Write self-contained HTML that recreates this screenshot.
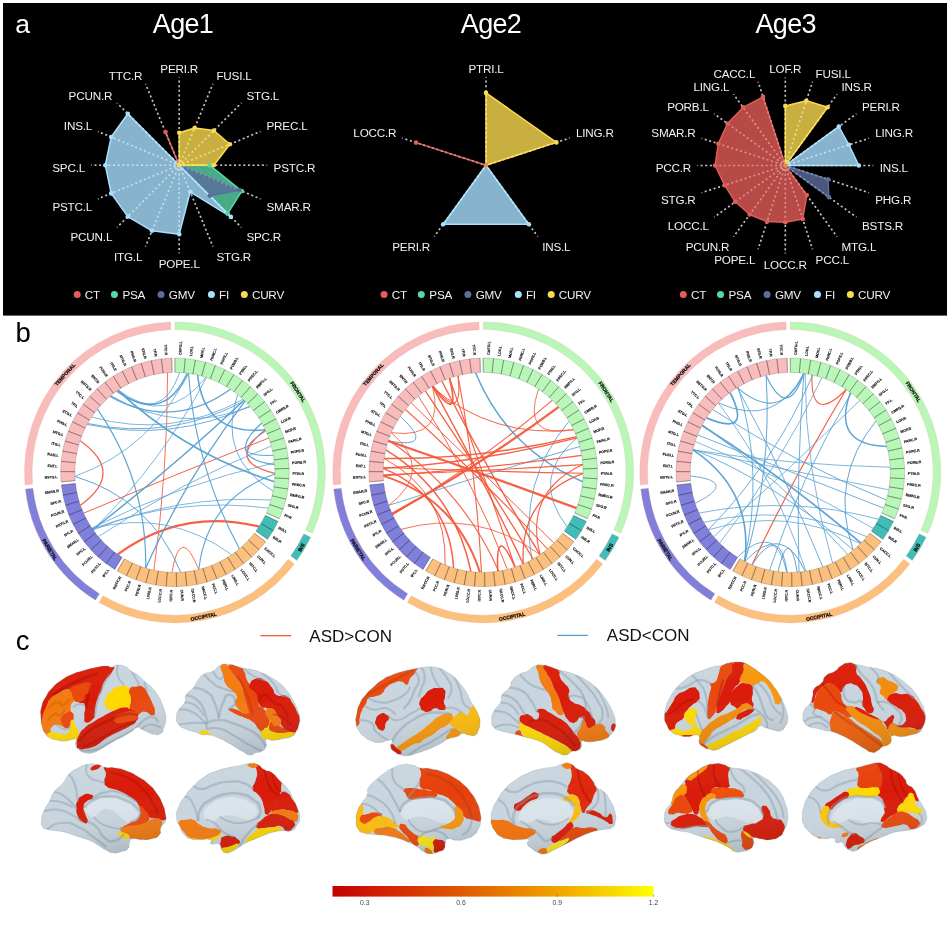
<!DOCTYPE html>
<html lang="en"><head><meta charset="utf-8"><title>Figure</title>
<style>html,body{margin:0;padding:0;background:#fff}body{width:948px;height:931px;overflow:hidden}svg{display:block;font-family:'Liberation Sans', 'DejaVu Sans', sans-serif;opacity:0.999}</style></head><body>
<svg width="948" height="931" viewBox="0 0 948 931">
<defs><linearGradient id="cbar" x1="0" x2="1" y1="0" y2="0"><stop offset="0" stop-color="#c40000"/><stop offset="0.2" stop-color="#d42a00"/><stop offset="0.45" stop-color="#e26400"/><stop offset="0.7" stop-color="#f0a400"/><stop offset="0.88" stop-color="#f8da00"/><stop offset="1" stop-color="#ffff00"/></linearGradient>
<filter id="soft" x="-5%" y="-5%" width="110%" height="110%"><feGaussianBlur stdDeviation="0.45"/></filter>
<filter id="soft2" x="-10%" y="-10%" width="120%" height="120%"><feGaussianBlur stdDeviation="0.7"/></filter>
<linearGradient id="bshade" x1="0.35" y1="0" x2="0.6" y2="1"><stop offset="0" stop-color="#fff" stop-opacity="0.05"/><stop offset="0.4" stop-color="#fff" stop-opacity="0"/><stop offset="1" stop-color="#1a2530" stop-opacity="0.16"/></linearGradient>
<clipPath id="bc0"><path d="M40.9 717.1C40.7 710.2 39.9 713.6 41.6 706.7C43.4 699.8 42.4 702.8 46.1 696.4C49.8 690 47.6 693 52.7 687.5C57.9 682.1 55.2 684.5 61.6 680.2C68 675.8 64.5 677.7 71.9 674.5C79.3 671.3 75.9 672.9 83.7 670.6C91.6 668.2 88.2 669.1 95.5 667.6C102.9 666.1 100.5 666.1 105.9 666C111.3 665.8 107.9 667.5 111.8 667.2C115.7 666.9 113.3 665.3 117.7 665.1C122.1 664.9 120.7 664.6 125.1 666.6C129.5 668.5 126.6 668 131 671C135.4 673.9 133.7 671.9 138.4 675.4C143.1 679 140.6 677.6 145 681.6C149.5 685.7 147.5 683.1 151.7 687.5C155.9 692 154.1 689.5 157.6 694.9C161 700.3 159.5 697.9 162 703.8C164.5 709.7 163.7 707.2 165 712.6C166.2 718.1 166.1 715.1 165.7 720C165.3 724.9 165.5 722.9 163.8 727.4C162.1 731.9 164.1 731.4 160.5 733.6C157 735.8 157.6 734.6 153.1 734.1C148.7 733.5 151.2 733.6 147.2 731.8C143.3 730.1 144.8 730.4 141.3 728.9C137.9 727.4 140.3 726.4 136.9 727.4C133.5 728.4 135.4 728.9 131 731.8C126.6 734.8 129 733.3 123.6 736.3C118.2 739.2 120.2 737.7 114.7 740.7C109.3 743.7 112.3 742.2 107.4 745.1C102.4 748.1 104.9 747 100 749.6C95.1 752.1 97.5 751.7 92.6 752.8C87.7 753.9 89.6 753.8 85.2 752.8C80.8 751.8 82.5 752.4 79.3 749.9C76.1 747.3 76.7 748.6 75.6 745.1C74.5 741.7 77.3 741.4 76.1 739.5C74.8 737.6 75.8 739 71.9 739.5C68.1 740 69.5 740.8 64.5 741C59.6 741.2 62.1 741.2 57.2 740.1C52.2 739 53.7 740 49.8 737.7C45.8 735.5 47.8 736.8 45.3 733.3C42.9 729.9 43.9 732.8 42.4 727.4C40.9 722 41.2 724 40.9 717.1Z"/></clipPath>
<clipPath id="bc1"><path d="M176.6 717.1C176.6 712.1 176.2 714.6 178.9 709.7C181.6 704.8 182.3 707.2 184.8 702.3C187.2 697.4 183.3 699.8 186.2 694.9C189.2 690 189.7 692.5 193.6 687.5C197.6 682.6 194.6 684.6 198.1 680.2C201.5 675.7 199 677.2 204 674.2C208.9 671.3 207.4 674.2 212.8 671.3C218.2 668.3 214.8 667.6 220.2 665.4C225.6 663.1 223.7 664.3 229.1 664.5C234.5 664.7 231.5 664.7 236.5 666C241.4 667.3 238.4 667.1 243.8 668.3C249.3 669.6 246.8 668.3 252.7 669.8C258.6 671.3 255.7 670.3 261.6 672.8C267.5 675.2 264.5 673.8 270.4 677.2C276.3 680.6 273.9 678.7 279.3 683.1C284.7 687.5 282.2 685.1 286.7 690.5C291.1 695.9 289.1 693.4 292.6 699.4C296 705.3 294.7 702.3 297 708.2C299.3 714.1 298.8 711.7 299.4 717.1C300 722.5 300 719.5 298.8 724.5C297.6 729.4 298.3 727.8 295.8 731.8C293.4 735.9 295.9 734.3 291.4 736.6C286.9 738.9 288.2 737.5 282.2 738.8C276.2 740 278.7 740 273.4 740.3C268.1 740.5 268.7 737.4 266.3 739.5C263.8 741.6 267.6 742.7 266 746.6C264.4 750.5 265 749.3 261.6 751.3C258.1 753.4 259.6 751.6 255.7 752.8C251.7 754 254.2 755.4 249.7 754.9C245.3 754.4 247.3 754 242.4 751.3C237.4 748.7 239.9 749.9 235 746.9C230.1 743.9 233 745.4 227.6 742.5C222.2 739.5 224.6 740.5 218.7 738C212.8 735.6 215.3 736.3 209.9 735.1C204.5 733.9 207.4 735.3 202.5 734.4C197.6 733.4 200.5 733.9 195.1 732.1C189.7 730.4 191.7 731.6 186.2 729.2C180.8 726.7 182.1 728.8 178.9 724.8C175.7 720.7 176.6 722.1 176.6 717.1Z"/></clipPath>
<clipPath id="bc2"><path d="M41.6 820C42.1 815 41.2 817.6 43.9 811.2C46.6 804.8 46.3 807.2 49.8 800.8C53.2 794.4 49.8 797.9 54.2 792C58.6 786.1 58.1 789 63.1 783.1C68 777.2 64 779.2 69 774.2C73.9 769.3 71.9 771.5 77.8 768.3C83.7 765.1 80.3 765.9 86.7 764.6C93.1 763.4 90.6 763.6 97 764.5C103.4 765.4 100 766.3 105.9 767.5C111.8 768.6 107.9 766.9 114.7 768C121.6 769.2 118.7 768 126.6 771C134.4 773.9 131 772.5 138.4 776.9C145.8 781.3 142.7 778.9 148.7 784.3C154.7 789.7 151.9 786.7 156.4 793.1C160.9 799.5 159.3 796.6 162.3 803.5C165.3 810.4 164.3 807.8 165.3 813.8C166.2 819.8 166.7 817 165.3 821.5C163.8 826 162.8 823 160.8 827.4C158.9 831.8 162.4 831 159.3 834.8C156.3 838.6 157.7 837.2 151.7 838.8C145.7 840.4 147.7 839.5 141.3 839.5C134.9 839.5 136.4 837.8 132.5 838.8C128.5 839.8 131 839.3 129.5 842.5C128 845.7 130.5 845.4 128 848.4C125.6 851.3 127.1 849.9 122.1 851.3C117.2 852.8 118.7 853.3 113.3 852.8C107.9 852.3 110.8 852.3 105.9 849.9C101 847.4 103.4 848.4 98.5 845.4C93.6 842.5 96.5 843.5 91.1 841C85.7 838.5 88.2 840 82.3 838C76.4 836.1 79.3 837.1 73.4 835.1C67.5 833.1 70.4 833.6 64.5 832.1C58.6 830.7 61.6 831.6 55.7 830.7C49.8 829.7 51.2 830.7 46.8 829.2C42.4 827.7 44.1 829.3 42.4 826.2C40.7 823.2 41.2 825 41.6 820Z"/></clipPath>
<clipPath id="bc3"><path d="M176.6 817.1C176.2 810.2 176.2 813.6 178.9 806.7C181.6 799.8 179.8 803.3 184.8 796.4C189.7 789.5 187.2 792.5 193.6 786.1C200 779.7 196.6 782.1 204 777.2C211.4 772.3 207.4 774.5 215.8 771.3C224.1 768.1 220.7 769.6 229.1 767.6C237.4 765.6 234 766.7 240.9 765.4C247.8 764.1 244.2 763.9 249.7 763.6C255.3 763.3 252.5 762.4 257.4 764.5C262.3 766.6 259.7 767.1 264.5 769.8C269.3 772.6 267 769.3 271.9 772.8C276.8 776.2 274.4 775.2 279.3 780.2C284.2 785.1 282.1 781.6 286.7 787.5C291.2 793.4 289.3 791 292.9 797.9C296.4 804.8 295 801.8 297.3 808.2C299.6 814.6 299.7 811.7 299.7 817.1C299.7 822.5 300.1 819.9 297.3 824.5C294.5 829 296.4 828.6 291.4 830.7C286.4 832.7 288.2 830.2 282.2 830.7C276.2 831.2 279.3 830.7 273.4 832.1C267.5 833.6 270.4 832.9 264.5 835.1C258.6 837.3 261.6 836.3 255.7 838.8C249.7 841.2 252.2 839.8 246.8 842.5C241.4 845.2 244.3 843.9 239.4 846.9C234.5 849.9 236.5 849.4 232 851.3C227.6 853.3 229.6 853.3 226.1 852.8C222.7 852.3 224.1 852.8 221.7 849.9C219.2 846.9 222.2 845.9 218.7 843.9C215.3 842 214.3 845.4 211.4 843.9C208.4 842.5 213.8 841 209.9 839.5C205.9 838 205.9 839.8 199.5 839.5C193.1 839.3 195.6 840.3 190.7 838.8C185.8 837.3 188.2 838.9 184.8 835.1C181.3 831.3 183 833.4 180.3 827.4C177.6 821.4 177.1 824 176.6 817.1Z"/></clipPath>
<clipPath id="bc4"><path d="M356.1 723C355.3 717.5 355.6 720.5 356.8 714.1C358 707.7 356.8 710.2 359.8 703.8C362.7 697.4 361.2 700.3 365.7 694.9C370.1 689.5 367.6 692.5 373.1 687.5C378.5 682.6 375.5 684.3 381.9 680.2C388.3 676 384.9 677.9 392.3 675C399.6 672 396.7 673.3 404.1 671.3C411.5 669.3 408.5 670.3 414.4 669.1C420.3 667.8 416.4 668.3 421.8 667.6C427.2 666.9 424.7 666.6 430.7 666.9C436.6 667.1 434.1 666.6 439.5 668.3C444.9 670.1 442 669.1 446.9 672C451.8 675 449.9 673.3 454.3 677.2C458.7 681.1 456.3 678.9 460.2 683.8C464.1 688.8 462.7 686.3 466.1 692C469.5 697.6 467.6 695.4 470.5 700.8C473.5 706.2 472.3 703.3 475 708.2C477.7 713.1 477 710.7 478.6 715.6C480.3 720.5 480.1 718.1 480 723C479.8 727.9 479.9 726.3 478.2 730.4C476.5 734.4 478 733.5 475 735.1C471.9 736.7 473 735.6 469.1 735.1C465.1 734.6 467.1 733.1 463.1 733.6C459.2 734.1 462.2 734.8 457.2 736.6C452.3 738.3 453.3 736.8 448.4 738.8C443.5 740.7 447.4 739.8 442.5 742.5C437.5 745.2 439.5 744.2 433.6 746.9C427.7 749.6 430.7 748.4 424.7 750.6C418.8 752.8 421.3 751.9 415.9 753.5C410.5 755.2 413.4 755 408.5 755.5C403.6 756 405.5 756.2 401.1 755C396.7 753.9 398.7 754.8 395.2 752.1C391.8 749.4 391.8 750.6 390.8 746.9C389.8 743.2 393.2 743.2 392.3 741C391.3 738.8 391.8 739.8 387.8 740.3C383.9 740.7 385.9 742.2 380.4 742.5C375 742.7 377 743 371.6 741C366.2 739 368.4 740 364.2 736.6C360 733.1 361.7 735.2 359 730.7C356.3 726.1 356.8 728.5 356.1 723Z"/></clipPath>
<clipPath id="bc5"><path d="M491.8 720C491.8 714.6 491.1 717.1 494 711.2C497 705.3 498 707.7 500.7 702.3C503.4 696.9 499.2 699.8 502.2 694.9C505.1 690 506.1 692.5 509.5 687.5C513 682.6 509 684.6 512.5 680.2C515.9 675.7 515 677.2 519.9 674.2C524.8 671.3 522.3 674 527.3 671.3C532.2 668.6 529.7 668.2 534.6 666.1C539.6 664.1 537.1 664.9 542 665.1C546.9 665.2 544 665 549.4 666.6C554.8 668.1 552.4 668 558.3 669.8C564.2 671.6 561.2 670.3 567.1 672C573 673.8 569.6 672.3 576 675C582.4 677.7 579.9 676.2 586.3 680.2C592.7 684.1 589.8 681.9 595.2 686.8C600.6 691.7 598.1 689.3 602.6 694.9C607 700.6 605 697.9 608.5 703.8C611.9 709.7 610.6 706.7 612.9 712.6C615.2 718.5 614.7 716.1 615.3 721.5C615.9 726.9 616.4 724.4 614.7 728.9C613 733.4 613.3 731.8 610.3 735.1C607.2 738.4 610.1 736.8 605.5 738.8C601 740.7 602.6 740 596.7 741C590.8 742 592.7 741.7 587.8 741.7C582.9 741.7 584.1 739.3 581.9 741C579.7 742.7 582.8 743.7 581.3 746.9C579.8 750.1 580.7 749 577.5 750.6C574.2 752.2 575.5 750.2 571.6 751.6C567.6 753.1 570.1 754.6 565.7 755C561.2 755.4 563.2 755 558.3 752.8C553.3 750.6 555.8 751.6 550.9 748.4C546 745.2 548.9 746.2 543.5 743.2C538.1 740.3 540.5 741.5 534.6 739.5C528.7 737.5 531.2 738.8 525.8 737.3C520.4 735.8 523.8 736.6 518.4 735.1C513 733.6 515.4 734.4 509.5 732.9C503.6 731.4 505.8 732.5 500.7 730.7C495.5 728.8 497 731 494 727.4C491.1 723.9 491.8 725.4 491.8 720Z"/></clipPath>
<clipPath id="bc6"><path d="M356.1 820C355.8 814 355.8 816.6 357.6 811.2C359.3 805.7 358 809.2 361.2 803.8C364.4 798.4 364.7 800.3 367.2 794.9C369.6 789.5 365.2 793 368.6 787.5C372.1 782.1 372.1 783.6 377.5 778.7C382.9 773.8 380 776.2 384.9 772.8C389.8 769.3 386.8 770.9 392.3 768.3C397.7 765.7 394.7 766.1 401.1 764.9C407.5 763.8 405.1 764 411.5 764.9C417.9 765.9 413.9 766.6 420.3 767.9C426.7 769.2 423.3 767.6 430.7 768.9C438 770.3 434.6 768.9 442.5 771.9C450.3 774.8 447.3 773.6 454.3 777.8C461.3 782 457.9 779.6 463.4 784.6C469 789.6 466.4 786.8 470.8 792.7C475.3 798.6 473.7 795.7 476.7 802.3C479.8 808.9 478.7 806.2 480 812.6C481.3 819 481.2 816 480.6 821.5C480 827 480.5 824.7 478.2 829.2C475.9 833.7 477.8 831.9 473.8 835.1C469.7 838.3 471.6 837.1 466.1 838.8C460.6 840.5 463.1 840.3 457.2 840.3C451.3 840.3 452.3 838 448.4 838.8C444.4 839.5 446.8 839.3 445.4 842.5C444 845.7 446.2 845.4 444.2 848.4C442.3 851.3 444 849.6 439.5 851.3C435 853.1 436.1 853.6 430.7 853.7C425.2 853.7 427.7 853.7 423.3 851.5C418.8 849.2 422.3 849.9 417.4 846.9C412.4 843.9 414.4 845.2 408.5 842.5C402.6 839.8 405.5 840.7 399.6 838.8C393.7 836.8 396.7 837.8 390.8 836.6C384.9 835.3 387.8 835.8 381.9 835.1C376 834.4 379 835.1 373.1 834.4C367.2 833.6 369.1 834.6 364.2 832.9C359.3 831.2 361 833.5 358.3 829.2C355.6 824.9 356.3 826 356.1 820Z"/></clipPath>
<clipPath id="bc7"><path d="M491.1 820C491.3 815 490.3 816.6 492.6 809.7C494.8 802.8 493.5 806.2 497.7 799.4C501.9 792.5 499.2 795.4 505.1 789C511 782.6 508.1 785.3 515.4 780.2C522.8 775 518.9 777.2 527.3 773.5C535.6 769.8 531.7 771.3 540.5 769.1C549.4 766.9 546.5 768.6 553.8 766.9C561.2 765.1 557.2 764.9 562.7 763.9C568.2 762.9 565.5 762.2 570.4 763.9C575.3 765.6 572.6 766.1 577.5 769.1C582.3 772 579.9 769.1 584.9 772.8C589.8 776.5 588.3 775.2 592.2 780.2C596.2 785.1 592.7 783.6 596.7 787.5C600.6 791.5 599.5 787.5 604.1 792C608.6 796.4 606.7 794.4 610.3 800.8C613.8 807.2 613 804.3 614.7 811.2C616.4 818.1 616.3 816 615.3 821.5C614.3 827 615 825.1 611.7 827.7C608.5 830.3 610.5 828.2 605.5 829.2C600.5 830.2 602.1 829.4 596.7 830.7C591.3 831.9 594.7 830.9 589.3 832.9C583.9 834.8 586.3 833.9 580.4 836.6C574.5 839.3 577.5 838 571.6 841C565.7 843.9 568.6 842.5 562.7 845.4C556.8 848.4 559.7 847.1 553.8 849.9C547.9 852.6 550.4 852.9 545 853.7C539.6 854.5 542 854 537.6 852.2C533.2 850.4 535.1 851.1 531.7 848.4C528.2 845.6 528.2 846.9 527.3 843.9C526.3 841 530.7 841 528.7 839.5C526.8 838 527.7 839.6 521.4 839.5C515 839.4 516.4 840.2 509.5 839.2C502.6 838.2 505.6 839.4 500.7 836.6C495.8 833.7 497.7 834.6 494.8 830.7C491.8 826.7 493 828.3 491.8 824.8C490.6 821.2 490.8 825 491.1 820Z"/></clipPath>
<clipPath id="bc8"><path d="M664.6 717.1C664.4 711.1 664.4 713.1 666.1 706.7C667.8 700.3 666.6 703.8 669.8 697.9C673 692 671.2 694.4 675.7 689C680.1 683.6 677.6 686.3 683.1 681.6C688.5 677 685.5 678.7 691.9 675C698.3 671.3 695.4 673.3 702.3 670.6C709.1 667.8 706.2 668.6 712.6 666.9C719 665.1 716 666.7 721.5 665.4C726.9 664.1 723.4 664.1 728.8 663C734.3 661.9 732.2 661.9 737.7 662.1C743.2 662.3 740.5 661.8 745.4 663.6C750.3 665.4 747.6 664.4 752.5 667.5C757.3 670.5 754.9 669 759.9 672.8C764.8 676.5 762.7 674.2 767.2 678.7C771.8 683.1 769.4 680.6 773.4 686.1C777.5 691.5 775.9 689 779.3 694.9C782.8 700.8 781.3 697.9 783.8 703.8C786.2 709.7 785.5 707.2 786.7 712.6C788 718.1 788.1 715.5 787.6 720C787.1 724.6 787.6 722.7 785.3 726.2C782.9 729.8 784.6 729.4 780.5 730.7C776.5 731.9 778.1 730.9 773.1 729.9C768.2 728.9 770.2 728.9 765.8 727.7C761.3 726.5 763.3 725.2 759.9 726.2C756.4 727.2 758.9 728.2 755.4 730.7C752 733.1 754.4 731.2 749.5 733.6C744.6 736.1 746.6 735.1 740.7 738C734.7 741 737.7 739.5 731.8 742.5C725.9 745.4 728.3 744.4 722.9 746.9C717.5 749.4 720 749.2 715.5 750C711.1 750.8 713.6 750.3 709.6 749.3C705.7 748.2 707.2 749.2 703.7 746.9C700.3 744.6 700.8 745.9 699.3 742.5C697.8 739 700.8 739 699.3 736.6C697.8 734.1 698.8 735.1 694.9 735.1C690.9 735.1 692.9 736.6 687.5 736.6C682.1 736.6 684 736.8 678.6 735.1C673.2 733.4 675.2 734.8 671.2 731.4C667.3 728 669 729.5 666.8 724.8C664.6 720 664.8 723.1 664.6 717.1Z"/></clipPath>
<clipPath id="bc9"><path d="M803.1 717.1C803.4 713.1 802.4 714.1 804.6 709.7C806.8 705.3 807.1 708.2 809.8 703.8C812.5 699.4 811.2 701.3 812.7 696.4C814.2 691.5 811.2 693.4 814.2 689C817.2 684.6 817.6 687.5 821.6 683.1C825.5 678.7 821.6 679.7 826 675.7C830.4 671.8 830 674.5 834.9 671.3C839.8 668.1 836.4 668.9 840.8 666.1C845.2 663.3 843.2 663.5 848.2 662.9C853.1 662.3 851.1 663.5 855.5 664.4C860 665.2 856.5 664.3 861.5 665.4C866.4 666.5 864.4 666.4 870.3 667.6C876.2 668.8 872.8 667.4 879.2 669.1C885.6 670.8 883.1 669.8 889.5 672.8C895.9 675.7 892.5 674 898.4 677.9C904.3 681.9 901.7 679.7 907.2 684.6C912.7 689.5 910.4 686.8 914.9 692.7C919.4 698.6 917.6 696.2 920.8 702.3C924 708.5 923 705.3 924.5 711.2C926 717.1 926 714.5 925.3 720C924.5 725.5 924.3 723.7 922.3 727.7C920.3 731.7 923.4 729.7 919.3 732.1C915.3 734.6 916.2 733.6 910.2 735.1C904.2 736.6 907.2 736.3 901.3 736.6C895.4 736.8 895.8 734.4 892.5 735.8C889.1 737.3 892.7 738 891.3 741C889.9 743.9 891.4 742.7 888.3 744.7C885.3 746.7 885.7 744.9 882.1 746.9C878.6 748.9 881.1 748.8 877.7 750.6C874.3 752.4 876.2 753 871.8 752.2C867.4 751.5 869.3 751.1 864.4 748.4C859.5 745.6 861.9 746.9 857 743.9C852.1 741 855.1 742.5 849.6 739.5C844.2 736.6 846.2 737.5 840.8 735.1C835.4 732.6 838.3 733.6 833.4 732.1C828.5 730.7 831.4 731.9 826 730.7C820.6 729.4 823.1 729.9 817.2 728.4C811.2 727 812.7 728.5 808.3 726.2C803.9 723.9 805.6 724.6 803.9 721.5C802.1 718.5 802.9 721 803.1 717.1Z"/></clipPath>
<clipPath id="bc10"><path d="M664.6 817.1C664.8 812.6 663.9 814.6 666.1 809.7C668.3 804.8 668.5 807.7 671.2 802.3C674 796.9 671.2 798.9 674.2 793.4C677.2 788 675.7 791.5 680.1 786.1C684.5 780.6 682.1 782.1 687.5 777.2C692.9 772.3 690.4 775 696.4 771.3C702.3 767.6 699.3 768.6 705.2 766.1C711.1 763.7 708.2 764.5 714.1 763.9C720 763.3 717.5 763.2 722.9 764.4C728.3 765.5 724.4 765.9 730.3 767.5C736.2 769 733.3 767.5 740.7 768.9C748 770.4 744.6 768.9 752.5 771.9C760.3 774.8 757.3 773.6 764.3 777.8C771.3 782 767.9 779.4 773.4 784.6C779 789.8 776.9 787 780.8 793.4C784.8 799.8 783 796.9 785.3 803.8C787.5 810.7 787.1 807.7 787.6 814.1C788.2 820.5 788.2 817.5 786.9 823C785.6 828.5 786.3 826.1 783.8 830.7C781.3 835.2 783.9 833.6 779.3 836.6C774.8 839.6 776.2 838.9 770.2 839.7C764.2 840.5 766.7 839.5 761.3 838.9C755.9 838.4 756.6 836.4 753.9 838C751.3 839.7 754.8 840.2 753.4 843.9C751.9 847.7 753.3 846.8 749.5 849.3C745.8 851.8 747.1 850.7 742.1 851.5C737.2 852.2 739.2 852.8 734.7 851.5C730.3 850.2 733.8 850.4 728.8 847.6C723.9 844.9 725.4 845.7 720 843.2C714.6 840.7 717.5 842 712.6 840.3C707.7 838.5 710.6 839.8 705.2 838C699.8 836.3 702.3 837.1 696.4 835.1C690.4 833.1 693.4 833.6 687.5 832.1C681.6 830.7 684.5 832.1 678.6 830.7C672.7 829.2 674.2 830.3 669.8 827.7C665.3 825.1 667.1 826.5 665.3 823C663.6 819.4 664.4 821.5 664.6 817.1Z"/></clipPath>
<clipPath id="bc11"><path d="M802.4 817.1C802.4 811.2 801.9 813.6 803.9 806.7C805.8 799.8 804.4 803 808.3 796.4C812.2 789.8 809.8 792.7 815.7 786.8C821.6 780.9 818.6 783.4 826 778.7C833.4 774 830 776 837.8 772.8C845.7 769.6 842.3 771 849.6 769.1C857 767.1 853.6 768.4 860 766.9C866.4 765.3 863.4 765.8 868.8 764.5C874.3 763.2 871.2 762.9 876.2 762.9C881.2 762.8 879 762.3 883.9 764.4C888.8 766.4 886.2 766.1 891 768.9C895.8 771.7 893.8 769.5 898.4 772.8C902.9 776 901.5 774.7 904.6 778.7C907.6 782.6 904.6 781.1 907.5 784.6C910.5 788 910 784.6 913.4 789C916.9 793.4 914.9 792.5 917.9 797.9C920.8 803.3 919.5 799.8 922.3 805.3C925.1 810.7 925.1 808.6 926.1 814.1C927.2 819.6 927.3 817.8 925.5 821.8C923.8 825.8 925 823.8 920.8 826.2C916.7 828.7 918.7 827.7 913.1 829.2C907.6 830.7 910.2 829.7 904.3 830.7C898.4 831.6 901.3 830.7 895.4 832.1C889.5 833.6 892.5 832.9 886.6 835.1C880.7 837.3 883.6 836.3 877.7 838.8C871.8 841.2 874.3 839.8 868.8 842.5C863.4 845.2 865.9 844.1 861.5 846.9C857 849.7 859.5 849.7 855.5 850.7C851.6 851.8 853.1 851.3 849.6 850C846.2 848.7 847.7 849.4 845.2 846.9C842.7 844.4 845.2 843.9 842.3 842.5C839.3 841 839.3 843.9 836.4 842.5C833.4 841 837.3 839.3 833.4 838C829.5 836.8 830.4 839.3 824.5 838.8C818.6 838.3 821.1 839.3 815.7 836.6C810.3 833.9 812.2 834.7 808.3 830.7C804.4 826.6 805.8 829 803.9 824.5C801.9 819.9 802.4 823 802.4 817.1Z"/></clipPath>
</defs>
<rect width="948" height="931" fill="#fff"/>
<rect x="3" y="3" width="944" height="312.6" fill="#000"/>
<text x="15.2" y="33" font-size="26.5" fill="#fff">a</text>
<g>
<g stroke="#c4c4c4" stroke-width="1.6" stroke-dasharray="2 2.65" stroke-dashoffset="1" fill="none" opacity="0.9">
<line x1="179.2" y1="165.2" x2="179.2" y2="77.2"/>
<line x1="179.2" y1="165.2" x2="212.9" y2="83.9"/>
<line x1="179.2" y1="165.2" x2="241.4" y2="103"/>
<line x1="179.2" y1="165.2" x2="260.5" y2="131.5"/>
<line x1="179.2" y1="165.2" x2="267.2" y2="165.2"/>
<line x1="179.2" y1="165.2" x2="260.5" y2="198.9"/>
<line x1="179.2" y1="165.2" x2="241.4" y2="227.4"/>
<line x1="179.2" y1="165.2" x2="212.9" y2="246.5"/>
<line x1="179.2" y1="165.2" x2="179.2" y2="253.2"/>
<line x1="179.2" y1="165.2" x2="145.5" y2="246.5"/>
<line x1="179.2" y1="165.2" x2="117" y2="227.4"/>
<line x1="179.2" y1="165.2" x2="97.9" y2="198.9"/>
<line x1="179.2" y1="165.2" x2="91.2" y2="165.2"/>
<line x1="179.2" y1="165.2" x2="97.9" y2="131.5"/>
<line x1="179.2" y1="165.2" x2="117" y2="103"/>
<line x1="179.2" y1="165.2" x2="145.5" y2="83.9"/>
</g>
<polygon points="179.2,165.2 179.2,165.2 179.2,165.2 179.2,165.2 179.2,165.2 179.2,165.2 179.2,165.2 179.2,165.2 179.2,165.2 179.2,165.2 179.2,165.2 179.2,165.2 179.2,165.2 179.2,165.2 179.2,165.2 165.5,132.1" fill="#e25d58" fill-opacity="0.8" stroke="#e25d58" stroke-width="1.5" stroke-linejoin="round"/>
<polygon points="179.2,165.2 179.2,165.2 179.2,165.2 179.2,165.2 209.6,165.2 241.8,191.1 227.6,213.6 179.2,165.2 179.2,165.2 179.2,165.2 179.2,165.2 179.2,165.2 179.2,165.2 179.2,165.2 179.2,165.2 179.2,165.2" fill="#5ad6a6" fill-opacity="0.8" stroke="#5ad6a6" stroke-width="1.5" stroke-linejoin="round"/>
<polygon points="179.2,165.2 179.2,165.2 179.2,165.2 179.2,165.2 179.2,165.2 239.4,190.2 209.8,195.8 179.2,165.2 179.2,165.2 179.2,165.2 179.2,165.2 179.2,165.2 179.2,165.2 179.2,165.2 179.2,165.2 179.2,165.2" fill="#5b6d9c" fill-opacity="0.8" stroke="#5b6d9c" stroke-width="1.5" stroke-linejoin="round"/>
<polygon points="179.2,165.2 179.2,165.2 179.2,165.2 179.2,165.2 179.2,165.2 179.2,165.2 230.9,216.9 190.2,191.8 179.2,234.2 152,230.8 127.8,216.6 111.2,193.4 105.3,165.2 111.2,137 127.8,113.8 179.2,165.2" fill="#a9e0ff" fill-opacity="0.8" stroke="#a9e0ff" stroke-width="1.5" stroke-linejoin="round"/>
<polygon points="179.2,132.7 194.6,128 213.9,130.5 229.9,144.2 213.8,165.2 179.2,165.2 179.2,165.2 179.2,165.2 179.2,165.2 179.2,165.2 179.2,165.2 179.2,165.2 179.2,165.2 179.2,165.2 179.2,165.2 179.2,165.2" fill="#fadb4f" fill-opacity="0.8" stroke="#fadb4f" stroke-width="1.5" stroke-linejoin="round"/>
<g stroke="#ffffff" stroke-width="1.7" stroke-dasharray="2 2.65" stroke-dashoffset="1" fill="none" opacity="0.22">
<line x1="179.2" y1="165.2" x2="179.2" y2="77.2"/>
<line x1="179.2" y1="165.2" x2="212.9" y2="83.9"/>
<line x1="179.2" y1="165.2" x2="241.4" y2="103"/>
<line x1="179.2" y1="165.2" x2="260.5" y2="131.5"/>
<line x1="179.2" y1="165.2" x2="267.2" y2="165.2"/>
<line x1="179.2" y1="165.2" x2="260.5" y2="198.9"/>
<line x1="179.2" y1="165.2" x2="241.4" y2="227.4"/>
<line x1="179.2" y1="165.2" x2="212.9" y2="246.5"/>
<line x1="179.2" y1="165.2" x2="179.2" y2="253.2"/>
<line x1="179.2" y1="165.2" x2="145.5" y2="246.5"/>
<line x1="179.2" y1="165.2" x2="117" y2="227.4"/>
<line x1="179.2" y1="165.2" x2="97.9" y2="198.9"/>
<line x1="179.2" y1="165.2" x2="91.2" y2="165.2"/>
<line x1="179.2" y1="165.2" x2="97.9" y2="131.5"/>
<line x1="179.2" y1="165.2" x2="117" y2="103"/>
<line x1="179.2" y1="165.2" x2="145.5" y2="83.9"/>
</g>
<circle cx="165.5" cy="132.1" r="2.3" fill="#e25d58"/>
<circle cx="209.6" cy="165.2" r="2.3" fill="#5ad6a6"/>
<circle cx="241.8" cy="191.1" r="2.3" fill="#5ad6a6"/>
<circle cx="227.6" cy="213.6" r="2.3" fill="#5ad6a6"/>
<circle cx="239.4" cy="190.2" r="2.3" fill="#5b6d9c"/>
<circle cx="209.8" cy="195.8" r="2.3" fill="#5b6d9c"/>
<circle cx="230.9" cy="216.9" r="2.3" fill="#a9e0ff"/>
<circle cx="190.2" cy="191.8" r="2.3" fill="#a9e0ff"/>
<circle cx="179.2" cy="234.2" r="2.3" fill="#a9e0ff"/>
<circle cx="152" cy="230.8" r="2.3" fill="#a9e0ff"/>
<circle cx="127.8" cy="216.6" r="2.3" fill="#a9e0ff"/>
<circle cx="111.2" cy="193.4" r="2.3" fill="#a9e0ff"/>
<circle cx="105.3" cy="165.2" r="2.3" fill="#a9e0ff"/>
<circle cx="111.2" cy="137" r="2.3" fill="#a9e0ff"/>
<circle cx="127.8" cy="113.8" r="2.3" fill="#a9e0ff"/>
<circle cx="179.2" cy="132.7" r="2.3" fill="#fadb4f"/>
<circle cx="194.6" cy="128" r="2.3" fill="#fadb4f"/>
<circle cx="213.9" cy="130.5" r="2.3" fill="#fadb4f"/>
<circle cx="229.9" cy="144.2" r="2.3" fill="#fadb4f"/>
<circle cx="213.8" cy="165.2" r="2.3" fill="#fadb4f"/>
<circle cx="179.2" cy="165.2" r="2.3" fill="#fadb4f"/>
<g fill="#f2f2f2" font-size="11.7" letter-spacing="-0.2">
<text x="179.2" y="72.9" text-anchor="middle">PERI.R</text>
<text x="216.4" y="80" text-anchor="start">FUSI.L</text>
<text x="246.4" y="100.1" text-anchor="start">STG.L</text>
<text x="266.5" y="130.1" text-anchor="start">PREC.L</text>
<text x="273.6" y="171.7" text-anchor="start">PSTC.R</text>
<text x="266.5" y="211" text-anchor="start">SMAR.R</text>
<text x="246.4" y="241" text-anchor="start">SPC.R</text>
<text x="216.4" y="261.1" text-anchor="start">STG.R</text>
<text x="179.2" y="268.2" text-anchor="middle">POPE.L</text>
<text x="142.2" y="261.1" text-anchor="end">ITG.L</text>
<text x="112.2" y="241" text-anchor="end">PCUN.L</text>
<text x="92.1" y="211" text-anchor="end">PSTC.L</text>
<text x="85" y="171.7" text-anchor="end">SPC.L</text>
<text x="92.1" y="130.1" text-anchor="end">INS.L</text>
<text x="112.2" y="100.1" text-anchor="end">PCUN.R</text>
<text x="142.2" y="80" text-anchor="end">TTC.R</text>
</g>
<text x="183" y="32.9" text-anchor="middle" font-size="27" letter-spacing="-0.7" fill="#fff">Age1</text>
<g font-size="11.7" fill="#f2f2f2" letter-spacing="-0.2">
<circle cx="77.2" cy="294.6" r="3.5" fill="#e25d58"/>
<text x="84.8" y="298.7">CT</text>
<circle cx="114.4" cy="294.6" r="3.5" fill="#5ad6a6"/>
<text x="122.4" y="298.7">PSA</text>
<circle cx="161" cy="294.6" r="3.5" fill="#5b6d9c"/>
<text x="168.8" y="298.7">GMV</text>
<circle cx="211.4" cy="294.6" r="3.5" fill="#a9e0ff"/>
<text x="219" y="298.7">FI</text>
<circle cx="244.3" cy="294.6" r="3.5" fill="#fadb4f"/>
<text x="251.9" y="298.7">CURV</text>
</g>
</g>
<g>
<g stroke="#c4c4c4" stroke-width="1.6" stroke-dasharray="2 2.65" stroke-dashoffset="1" fill="none" opacity="0.9">
<line x1="486" y1="165.3" x2="486" y2="77.3"/>
<line x1="486" y1="165.3" x2="569.7" y2="138.1"/>
<line x1="486" y1="165.3" x2="537.7" y2="236.5"/>
<line x1="486" y1="165.3" x2="434.3" y2="236.5"/>
<line x1="486" y1="165.3" x2="402.3" y2="138.1"/>
</g>
<polygon points="486,165.3 486,165.3 486,165.3 486,165.3 416,142.6" fill="#e25d58" fill-opacity="0.8" stroke="#e25d58" stroke-width="1.5" stroke-linejoin="round"/>
<polygon points="486,165.3 486,165.3 528.8,224.3 443.2,224.2 486,165.3" fill="#a9e0ff" fill-opacity="0.8" stroke="#a9e0ff" stroke-width="1.5" stroke-linejoin="round"/>
<polygon points="486,92.9 556.4,142.4 486,165.3 486,165.3 486,165.3" fill="#fadb4f" fill-opacity="0.8" stroke="#fadb4f" stroke-width="1.5" stroke-linejoin="round"/>
<g stroke="#ffffff" stroke-width="1.7" stroke-dasharray="2 2.65" stroke-dashoffset="1" fill="none" opacity="0.22">
<line x1="486" y1="165.3" x2="486" y2="77.3"/>
<line x1="486" y1="165.3" x2="569.7" y2="138.1"/>
<line x1="486" y1="165.3" x2="537.7" y2="236.5"/>
<line x1="486" y1="165.3" x2="434.3" y2="236.5"/>
<line x1="486" y1="165.3" x2="402.3" y2="138.1"/>
</g>
<circle cx="416" cy="142.6" r="2.3" fill="#e25d58"/>
<circle cx="528.8" cy="224.3" r="2.3" fill="#a9e0ff"/>
<circle cx="443.2" cy="224.2" r="2.3" fill="#a9e0ff"/>
<circle cx="486" cy="92.9" r="2.3" fill="#fadb4f"/>
<circle cx="556.4" cy="142.4" r="2.3" fill="#fadb4f"/>
<circle cx="486" cy="165.3" r="2.3" fill="#f08a4a"/>
<g fill="#f2f2f2" font-size="11.7" letter-spacing="-0.2">
<text x="486" y="73" text-anchor="middle">PTRI.L</text>
<text x="575.9" y="137.1" text-anchor="start">LING.R</text>
<text x="542.2" y="250.6" text-anchor="start">INS.L</text>
<text x="430" y="250.6" text-anchor="end">PERI.R</text>
<text x="396.3" y="137.1" text-anchor="end">LOCC.R</text>
</g>
<text x="491" y="32.9" text-anchor="middle" font-size="27" letter-spacing="-0.7" fill="#fff">Age2</text>
<g font-size="11.7" fill="#f2f2f2" letter-spacing="-0.2">
<circle cx="384.1" cy="294.6" r="3.5" fill="#e25d58"/>
<text x="391.7" y="298.7">CT</text>
<circle cx="421.3" cy="294.6" r="3.5" fill="#5ad6a6"/>
<text x="429.3" y="298.7">PSA</text>
<circle cx="467.9" cy="294.6" r="3.5" fill="#5b6d9c"/>
<text x="475.7" y="298.7">GMV</text>
<circle cx="518.3" cy="294.6" r="3.5" fill="#a9e0ff"/>
<text x="525.9" y="298.7">FI</text>
<circle cx="551.2" cy="294.6" r="3.5" fill="#fadb4f"/>
<text x="558.8" y="298.7">CURV</text>
</g>
</g>
<g>
<g stroke="#c4c4c4" stroke-width="1.6" stroke-dasharray="2 2.65" stroke-dashoffset="1" fill="none" opacity="0.9">
<line x1="785.3" y1="165.5" x2="785.3" y2="77.5"/>
<line x1="785.3" y1="165.5" x2="812.5" y2="81.8"/>
<line x1="785.3" y1="165.5" x2="837" y2="94.3"/>
<line x1="785.3" y1="165.5" x2="856.5" y2="113.8"/>
<line x1="785.3" y1="165.5" x2="869" y2="138.3"/>
<line x1="785.3" y1="165.5" x2="873.3" y2="165.5"/>
<line x1="785.3" y1="165.5" x2="869" y2="192.7"/>
<line x1="785.3" y1="165.5" x2="856.5" y2="217.2"/>
<line x1="785.3" y1="165.5" x2="837" y2="236.7"/>
<line x1="785.3" y1="165.5" x2="812.5" y2="249.2"/>
<line x1="785.3" y1="165.5" x2="785.3" y2="253.5"/>
<line x1="785.3" y1="165.5" x2="758.1" y2="249.2"/>
<line x1="785.3" y1="165.5" x2="733.6" y2="236.7"/>
<line x1="785.3" y1="165.5" x2="714.1" y2="217.2"/>
<line x1="785.3" y1="165.5" x2="701.6" y2="192.7"/>
<line x1="785.3" y1="165.5" x2="697.3" y2="165.5"/>
<line x1="785.3" y1="165.5" x2="701.6" y2="138.3"/>
<line x1="785.3" y1="165.5" x2="714.1" y2="113.8"/>
<line x1="785.3" y1="165.5" x2="733.6" y2="94.3"/>
<line x1="785.3" y1="165.5" x2="758.1" y2="81.8"/>
</g>
<polygon points="785.3,165.5 785.3,165.5 785.3,165.5 785.3,165.5 785.3,165.5 785.3,165.5 785.3,165.5 785.3,165.5 806.8,195.1 802.7,219 785.3,222.2 767.1,221.6 749.7,214.5 735.3,201.8 724.6,185.2 715.1,165.5 718.3,143.7 727.5,123.5 743.1,107.4 763,96.8" fill="#e25d58" fill-opacity="0.8" stroke="#e25d58" stroke-width="1.5" stroke-linejoin="round"/>
<polygon points="785.3,165.5 785.3,165.5 785.3,165.5 785.3,165.5 785.3,165.5 785.3,165.5 828.1,179.4 828.8,197.1 785.3,165.5 785.3,165.5 785.3,165.5 785.3,165.5 785.3,165.5 785.3,165.5 785.3,165.5 785.3,165.5 785.3,165.5 785.3,165.5 785.3,165.5 785.3,165.5" fill="#5b6d9c" fill-opacity="0.8" stroke="#5b6d9c" stroke-width="1.5" stroke-linejoin="round"/>
<polygon points="785.3,165.5 785.3,165.5 785.3,165.5 838.8,126.6 848.9,144.8 858.8,165.5 785.3,165.5 785.3,165.5 785.3,165.5 785.3,165.5 785.3,165.5 785.3,165.5 785.3,165.5 785.3,165.5 785.3,165.5 785.3,165.5 785.3,165.5 785.3,165.5 785.3,165.5 785.3,165.5" fill="#a9e0ff" fill-opacity="0.8" stroke="#a9e0ff" stroke-width="1.5" stroke-linejoin="round"/>
<polygon points="785.3,105.9 806.3,100.8 827.6,107.3 785.3,165.5 785.3,165.5 785.3,165.5 785.3,165.5 785.3,165.5 785.3,165.5 785.3,165.5 785.3,165.5 785.3,165.5 785.3,165.5 785.3,165.5 785.3,165.5 785.3,165.5 785.3,165.5 785.3,165.5 785.3,165.5 785.3,165.5" fill="#fadb4f" fill-opacity="0.8" stroke="#fadb4f" stroke-width="1.5" stroke-linejoin="round"/>
<g stroke="#ffffff" stroke-width="1.7" stroke-dasharray="2 2.65" stroke-dashoffset="1" fill="none" opacity="0.22">
<line x1="785.3" y1="165.5" x2="785.3" y2="77.5"/>
<line x1="785.3" y1="165.5" x2="812.5" y2="81.8"/>
<line x1="785.3" y1="165.5" x2="837" y2="94.3"/>
<line x1="785.3" y1="165.5" x2="856.5" y2="113.8"/>
<line x1="785.3" y1="165.5" x2="869" y2="138.3"/>
<line x1="785.3" y1="165.5" x2="873.3" y2="165.5"/>
<line x1="785.3" y1="165.5" x2="869" y2="192.7"/>
<line x1="785.3" y1="165.5" x2="856.5" y2="217.2"/>
<line x1="785.3" y1="165.5" x2="837" y2="236.7"/>
<line x1="785.3" y1="165.5" x2="812.5" y2="249.2"/>
<line x1="785.3" y1="165.5" x2="785.3" y2="253.5"/>
<line x1="785.3" y1="165.5" x2="758.1" y2="249.2"/>
<line x1="785.3" y1="165.5" x2="733.6" y2="236.7"/>
<line x1="785.3" y1="165.5" x2="714.1" y2="217.2"/>
<line x1="785.3" y1="165.5" x2="701.6" y2="192.7"/>
<line x1="785.3" y1="165.5" x2="697.3" y2="165.5"/>
<line x1="785.3" y1="165.5" x2="701.6" y2="138.3"/>
<line x1="785.3" y1="165.5" x2="714.1" y2="113.8"/>
<line x1="785.3" y1="165.5" x2="733.6" y2="94.3"/>
<line x1="785.3" y1="165.5" x2="758.1" y2="81.8"/>
</g>
<circle cx="806.8" cy="195.1" r="2.3" fill="#e25d58"/>
<circle cx="802.7" cy="219" r="2.3" fill="#e25d58"/>
<circle cx="785.3" cy="222.2" r="2.3" fill="#e25d58"/>
<circle cx="767.1" cy="221.6" r="2.3" fill="#e25d58"/>
<circle cx="749.7" cy="214.5" r="2.3" fill="#e25d58"/>
<circle cx="735.3" cy="201.8" r="2.3" fill="#e25d58"/>
<circle cx="724.6" cy="185.2" r="2.3" fill="#e25d58"/>
<circle cx="715.1" cy="165.5" r="2.3" fill="#e25d58"/>
<circle cx="718.3" cy="143.7" r="2.3" fill="#e25d58"/>
<circle cx="727.5" cy="123.5" r="2.3" fill="#e25d58"/>
<circle cx="743.1" cy="107.4" r="2.3" fill="#e25d58"/>
<circle cx="763" cy="96.8" r="2.3" fill="#e25d58"/>
<circle cx="828.1" cy="179.4" r="2.3" fill="#5b6d9c"/>
<circle cx="828.8" cy="197.1" r="2.3" fill="#5b6d9c"/>
<circle cx="838.8" cy="126.6" r="2.3" fill="#a9e0ff"/>
<circle cx="848.9" cy="144.8" r="2.3" fill="#a9e0ff"/>
<circle cx="858.8" cy="165.5" r="2.3" fill="#a9e0ff"/>
<circle cx="785.3" cy="105.9" r="2.3" fill="#fadb4f"/>
<circle cx="806.3" cy="100.8" r="2.3" fill="#fadb4f"/>
<circle cx="827.6" cy="107.3" r="2.3" fill="#fadb4f"/>
<circle cx="785.3" cy="165.5" r="2.3" fill="#f08a4a"/>
<g fill="#f2f2f2" font-size="11.7" letter-spacing="-0.2">
<text x="785.3" y="73.2" text-anchor="middle">LOF.R</text>
<text x="815.6" y="77.7" text-anchor="start">FUSI.L</text>
<text x="841.5" y="90.9" text-anchor="start">INS.R</text>
<text x="862" y="111.4" text-anchor="start">PERI.R</text>
<text x="875.2" y="137.3" text-anchor="start">LING.R</text>
<text x="879.7" y="172" text-anchor="start">INS.L</text>
<text x="875.2" y="204.4" text-anchor="start">PHG.R</text>
<text x="862" y="230.3" text-anchor="start">BSTS.R</text>
<text x="841.5" y="250.8" text-anchor="start">MTG.L</text>
<text x="815.6" y="264" text-anchor="start">PCC.L</text>
<text x="785.3" y="268.5" text-anchor="middle">LOCC.R</text>
<text x="755.2" y="264" text-anchor="end">POPE.L</text>
<text x="729.3" y="250.8" text-anchor="end">PCUN.R</text>
<text x="708.8" y="230.3" text-anchor="end">LOCC.L</text>
<text x="695.6" y="204.4" text-anchor="end">STG.R</text>
<text x="691.1" y="172" text-anchor="end">PCC.R</text>
<text x="695.6" y="137.3" text-anchor="end">SMAR.R</text>
<text x="708.8" y="111.4" text-anchor="end">PORB.L</text>
<text x="729.3" y="90.9" text-anchor="end">LING.L</text>
<text x="755.2" y="77.7" text-anchor="end">CACC.L</text>
</g>
<text x="785.7" y="32.9" text-anchor="middle" font-size="27" letter-spacing="-0.7" fill="#fff">Age3</text>
<g font-size="11.7" fill="#f2f2f2" letter-spacing="-0.2">
<circle cx="683.3" cy="294.6" r="3.5" fill="#e25d58"/>
<text x="690.9" y="298.7">CT</text>
<circle cx="720.5" cy="294.6" r="3.5" fill="#5ad6a6"/>
<text x="728.5" y="298.7">PSA</text>
<circle cx="767.1" cy="294.6" r="3.5" fill="#5b6d9c"/>
<text x="774.9" y="298.7">GMV</text>
<circle cx="817.5" cy="294.6" r="3.5" fill="#a9e0ff"/>
<text x="825.1" y="298.7">FI</text>
<circle cx="850.4" cy="294.6" r="3.5" fill="#fadb4f"/>
<text x="858" y="298.7">CURV</text>
</g>
</g>
<text x="15.6" y="341.6" font-size="27.5" fill="#000">b</text>
<g>
<path d="M167.6 372.7Q167.5 471.9 153.9 570.2" fill="none" stroke="#f5593b" stroke-width="0.9" stroke-opacity="0.95"/>
<path d="M268.8 438Q175.6 474.1 83.6 513.2" fill="none" stroke="#f5593b" stroke-width="1" stroke-opacity="0.95"/>
<path d="M80.1 440.7Q125.7 472.7 80.5 505.3" fill="none" stroke="#f5593b" stroke-width="1.3" stroke-opacity="0.95"/>
<path d="M265.4 429.8Q224.4 461.6 274.9 473.3" fill="none" stroke="#f5593b" stroke-width="1.3" stroke-opacity="0.95"/>
<path d="M117.7 554.4Q181.9 507.8 259 526.6" fill="none" stroke="#f5593b" stroke-width="2.2" stroke-opacity="0.95"/>
<path d="M171.9 572.4Q180.3 523.6 198.8 569.5" fill="none" stroke="#f5593b" stroke-width="0.9" stroke-opacity="0.95"/>
<path d="M117.1 390.8Q161.1 425.2 179.8 372.5" fill="none" stroke="#55a0d2" stroke-width="0.9" stroke-opacity="0.95"/>
<path d="M117.1 390.8Q163 425.4 187.1 373.1" fill="none" stroke="#55a0d2" stroke-width="1.1" stroke-opacity="0.95"/>
<path d="M118.3 390Q163.8 425.2 188.8 373.4" fill="none" stroke="#55a0d2" stroke-width="0.9" stroke-opacity="0.95"/>
<path d="M116.1 391.5Q167.7 426.6 205.8 377.3" fill="none" stroke="#55a0d2" stroke-width="0.8" stroke-opacity="0.95"/>
<path d="M117.8 390.3Q185.9 453.5 274.5 481.8" fill="none" stroke="#55a0d2" stroke-width="1.7" stroke-opacity="0.95"/>
<path d="M110 396.4Q172.5 431 230.5 389.3" fill="none" stroke="#55a0d2" stroke-width="1.3" stroke-opacity="0.95"/>
<path d="M110.9 395.6Q177.8 435.3 250.3 406.7" fill="none" stroke="#55a0d2" stroke-width="0.8" stroke-opacity="0.95"/>
<path d="M91.6 417.1Q171 439 243.1 399.3" fill="none" stroke="#55a0d2" stroke-width="0.8" stroke-opacity="0.95"/>
<path d="M87.2 424.4Q171.6 442.7 249.8 406.1" fill="none" stroke="#55a0d2" stroke-width="0.9" stroke-opacity="0.95"/>
<path d="M87.7 423.5Q170.4 441 244.6 400.7" fill="none" stroke="#55a0d2" stroke-width="0.9" stroke-opacity="0.95"/>
<path d="M97.4 409.2Q147.1 480.8 145.7 568" fill="none" stroke="#55a0d2" stroke-width="1.2" stroke-opacity="0.95"/>
<path d="M75 476.4Q152.3 447.7 188 373.3" fill="none" stroke="#55a0d2" stroke-width="0.8" stroke-opacity="0.95"/>
<path d="M75 476.4Q150.4 499.4 180.7 572.2" fill="none" stroke="#55a0d2" stroke-width="1" stroke-opacity="0.95"/>
<path d="M92.8 529.5Q171.5 468.5 244.1 400.2" fill="none" stroke="#55a0d2" stroke-width="1.5" stroke-opacity="0.95"/>
<path d="M145.7 568Q185.5 478.7 245 401.1" fill="none" stroke="#55a0d2" stroke-width="1.3" stroke-opacity="0.95"/>
<path d="M92.4 528.9Q177.7 496.4 268.3 508.1" fill="none" stroke="#55a0d2" stroke-width="0.8" stroke-opacity="0.95"/>
<path d="M93.2 530Q178.6 494.6 271 500" fill="none" stroke="#55a0d2" stroke-width="0.8" stroke-opacity="0.95"/>
<path d="M98.3 536.7Q180.1 482.3 271.4 446" fill="none" stroke="#55a0d2" stroke-width="0.8" stroke-opacity="0.95"/>
<path d="M93 529.8Q161.8 462.6 206.5 377.5" fill="none" stroke="#55a0d2" stroke-width="0.8" stroke-opacity="0.95"/>
<path d="M197.6 375Q204.3 436 265.4 429.8" fill="none" stroke="#55a0d2" stroke-width="1.6" stroke-opacity="0.95"/>
<path d="M237.6 394.5Q216.7 457 273.1 491.1" fill="none" stroke="#55a0d2" stroke-width="0.9" stroke-opacity="0.95"/>
<path d="M261.8 423Q223.4 457.5 274.6 464.6" fill="none" stroke="#55a0d2" stroke-width="1.2" stroke-opacity="0.95"/>
<path d="M265.9 430.9Q224.2 457.2 273.4 455.4" fill="none" stroke="#55a0d2" stroke-width="1" stroke-opacity="0.95"/>
<path d="M274.9 474.1Q207.1 498.1 198.8 569.5" fill="none" stroke="#55a0d2" stroke-width="1.1" stroke-opacity="0.95"/>
<path d="M239.4 548.8Q195.2 466.5 188.5 373.3" fill="none" stroke="#55a0d2" stroke-width="1.1" stroke-opacity="0.95"/>
<path d="M231.7 554.7Q168.2 508.4 92.2 528.6" fill="none" stroke="#55a0d2" stroke-width="0.8" stroke-opacity="0.95"/>
<path d="M274.4 462.8Q179.2 484.4 91.8 528" fill="none" stroke="#55a0d2" stroke-width="0.8" stroke-opacity="0.95"/>
<path d="M174.9 321.9A150.5 150.5 0 0 1 312.5 533.3L305.5 530.2A142.8 142.8 0 0 0 174.9 329.6Z" fill="#b9f7b9" stroke="#f4a48c" stroke-width="0.4" stroke-opacity="0.6"/>
<path d="M310.8 537.2A150.5 150.5 0 0 1 296.9 560.5L290.7 556A142.8 142.8 0 0 0 303.8 533.8Z" fill="#41bdb8" stroke="#f4a48c" stroke-width="0.4" stroke-opacity="0.6"/>
<path d="M294.4 563.9A150.5 150.5 0 0 1 99.1 602.4L102.9 595.7A142.8 142.8 0 0 0 288.3 559.2Z" fill="#fbbf7e" stroke="#f4a48c" stroke-width="0.4" stroke-opacity="0.6"/>
<path d="M95.5 600.2A150.5 150.5 0 0 1 25.3 489.1L33 488.3A142.8 142.8 0 0 0 99.5 593.7Z" fill="#8080dc" stroke="#f4a48c" stroke-width="0.4" stroke-opacity="0.6"/>
<path d="M24.9 484.9A150.5 150.5 0 0 1 170.7 322L170.9 329.7A142.8 142.8 0 0 0 32.6 484.3Z" fill="#f8bcbc" stroke="#f4a48c" stroke-width="0.4" stroke-opacity="0.6"/>
<path d="M174.9 358.1A114.3 114.3 0 0 1 279.4 518.7L266.3 512.9A100 100 0 0 0 174.9 372.4Z" fill="#b9f7b9" stroke="#222" stroke-width="0.35" stroke-opacity="0.5"/>
<path d="M278.1 521.6A114.3 114.3 0 0 1 267.6 539.3L256 530.9A100 100 0 0 0 265.2 515.4Z" fill="#41bdb8" stroke="#222" stroke-width="0.35" stroke-opacity="0.5"/>
<path d="M265.7 541.9A114.3 114.3 0 0 1 117.3 571.1L124.5 558.8A100 100 0 0 0 254.3 533.2Z" fill="#fbbf7e" stroke="#222" stroke-width="0.35" stroke-opacity="0.5"/>
<path d="M114.6 569.5A114.3 114.3 0 0 1 61.3 485.1L75.5 483.5A100 100 0 0 0 122.1 557.3Z" fill="#8080dc" stroke="#222" stroke-width="0.35" stroke-opacity="0.5"/>
<path d="M61 481.9A114.3 114.3 0 0 1 171.7 358.1L172.1 372.4A100 100 0 0 0 75.2 480.7Z" fill="#f8bcbc" stroke="#222" stroke-width="0.35" stroke-opacity="0.5"/>
<path d="M174.9 372.4L174.9 358.1M183.9 372.8L185.2 358.6M183.9 372.8L185.2 358.6M192.9 374L195.4 360M192.9 374L195.4 360M201.7 376.1L205.5 362.3M201.7 376.1L205.5 362.3M210.3 378.9L215.3 365.5M210.3 378.9L215.3 365.5M218.6 382.4L224.8 369.6M218.6 382.4L224.8 369.6M226.5 386.7L233.9 374.5M226.5 386.7L233.9 374.5M234 391.7L242.5 380.2M234 391.7L242.5 380.2M241 397.4L250.5 386.7M241 397.4L250.5 386.7M247.5 403.7L257.9 393.8M247.5 403.7L257.9 393.8M253.4 410.5L264.7 401.7M253.4 410.5L264.7 401.7M258.7 417.9L270.7 410M258.7 417.9L270.7 410M263.3 425.6L275.9 418.9M263.3 425.6L275.9 418.9M267.1 433.8L280.3 428.3M267.1 433.8L280.3 428.3M270.3 442.3L283.9 438M270.3 442.3L283.9 438M272.6 451L286.6 447.9M272.6 451L286.6 447.9M274.1 459.9L288.3 458.1M274.1 459.9L288.3 458.1M274.8 468.9L289.1 468.4M274.8 468.9L289.1 468.4M274.7 477.9L289 478.7M274.7 477.9L289 478.7M273.8 486.9L288 489M273.8 486.9L288 489M272.1 495.8L286 499.1M272.1 495.8L286 499.1M269.6 504.5L283.2 509.1M269.6 504.5L283.2 509.1M266.3 512.9L279.4 518.7M265.2 515.4L278.1 521.6M260.9 523.4L273.2 530.7M260.9 523.4L273.2 530.7M256 530.9L267.6 539.3M254.3 533.2L265.7 541.9M248.5 540.1L259 549.8M248.5 540.1L259 549.8M242.1 546.5L251.7 557.1M242.1 546.5L251.7 557.1M235.1 552.2L243.7 563.6M235.1 552.2L243.7 563.6M227.7 557.3L235.2 569.5M227.7 557.3L235.2 569.5M219.8 561.8L226.2 574.5M219.8 561.8L226.2 574.5M211.6 565.4L216.8 578.7M211.6 565.4L216.8 578.7M203 568.4L207 582.1M203 568.4L207 582.1M194.2 570.5L197 584.5M194.2 570.5L197 584.5M185.3 571.9L186.8 586.1M185.3 571.9L186.8 586.1M176.3 572.4L176.5 586.7M176.3 572.4L176.5 586.7M167.3 572.1L166.2 586.4M167.3 572.1L166.2 586.4M158.3 571L155.9 585.1M158.3 571L155.9 585.1M149.5 569.1L145.8 582.9M149.5 569.1L145.8 582.9M140.9 566.4L136 579.9M140.9 566.4L136 579.9M132.5 563L126.4 575.9M132.5 563L126.4 575.9M124.5 558.8L117.3 571.1M122.1 557.3L114.6 569.5M114.7 552.2L106.1 563.6M114.7 552.2L106.1 563.6M107.7 546.5L98.1 557.1M107.7 546.5L98.1 557.1M101.3 540.1L90.8 549.8M101.3 540.1L90.8 549.8M95.5 533.2L84.1 541.9M95.5 533.2L84.1 541.9M90.3 525.8L78.2 533.4M90.3 525.8L78.2 533.4M85.9 517.9L73.1 524.4M85.9 517.9L73.1 524.4M82.1 509.7L68.9 515M82.1 509.7L68.9 515M79.1 501.2L65.4 505.3M79.1 501.2L65.4 505.3M76.9 492.4L62.9 495.3M76.9 492.4L62.9 495.3M75.5 483.5L61.3 485.1M75.2 480.7L61 481.9M74.9 471.7L60.6 471.6M74.9 471.7L60.6 471.6M75.4 462.7L61.1 461.3M75.4 462.7L61.1 461.3M76.7 453.7L62.6 451.1M76.7 453.7L62.6 451.1M78.7 445L65 441M78.7 445L65 441M81.6 436.4L68.3 431.2M81.6 436.4L68.3 431.2M85.2 428.1L72.4 421.8M85.2 428.1L72.4 421.8M89.6 420.2L77.4 412.7M89.6 420.2L77.4 412.7M94.7 412.7L83.2 404.2M94.7 412.7L83.2 404.2M100.4 405.7L89.7 396.2M100.4 405.7L89.7 396.2M106.7 399.3L96.9 388.8M106.7 399.3L96.9 388.8M113.6 393.4L104.8 382.1M113.6 393.4L104.8 382.1M120.9 388.2L113.2 376.2M120.9 388.2L113.2 376.2M128.8 383.7L122.2 371M128.8 383.7L122.2 371M136.9 379.9L131.5 366.7M136.9 379.9L131.5 366.7M145.4 376.8L141.2 363.2M145.4 376.8L141.2 363.2M154.2 374.6L151.2 360.6M154.2 374.6L151.2 360.6M163.1 373.1L161.4 358.9M163.1 373.1L161.4 358.9M172.1 372.4L171.7 358.1" stroke="#222" stroke-width="0.45" stroke-opacity="0.6" fill="none"/>
<g font-size="10" font-weight="bold" fill="#111" stroke="#111" stroke-width="0.35">
<text transform="translate(180.2 355) rotate(-87.4) scale(0.36)" text-anchor="start" y="3.5">CMFG.L</text>
<text transform="translate(190.8 356) rotate(-82.2) scale(0.36)" text-anchor="start" y="3.5">LOF.L</text>
<text transform="translate(201.2 357.9) rotate(-77.1) scale(0.36)" text-anchor="start" y="3.5">MOF.L</text>
<text transform="translate(211.4 360.7) rotate(-71.9) scale(0.36)" text-anchor="start" y="3.5">PARC.L</text>
<text transform="translate(221.4 364.5) rotate(-66.7) scale(0.36)" text-anchor="start" y="3.5">POPE.L</text>
<text transform="translate(230.9 369.1) rotate(-61.5) scale(0.36)" text-anchor="start" y="3.5">PORB.L</text>
<text transform="translate(240 374.6) rotate(-56.4) scale(0.36)" text-anchor="start" y="3.5">PTRI.L</text>
<text transform="translate(248.6 380.9) rotate(-51.2) scale(0.36)" text-anchor="start" y="3.5">PREC.L</text>
<text transform="translate(256.5 387.9) rotate(-46) scale(0.36)" text-anchor="start" y="3.5">RMFG.L</text>
<text transform="translate(263.8 395.6) rotate(-40.8) scale(0.36)" text-anchor="start" y="3.5">SFG.L</text>
<text transform="translate(270.4 403.9) rotate(-35.6) scale(0.36)" text-anchor="start" y="3.5">FP.L</text>
<text transform="translate(276.2 412.8) rotate(-30.5) scale(0.36)" text-anchor="start" y="3.5">CMFG.R</text>
<text transform="translate(281.1 422.2) rotate(-25.3) scale(0.36)" text-anchor="start" y="3.5">LOF.R</text>
<text transform="translate(285.2 432) rotate(-20.1) scale(0.36)" text-anchor="start" y="3.5">MOF.R</text>
<text transform="translate(288.4 442.1) rotate(-14.9) scale(0.36)" text-anchor="start" y="3.5">PARC.R</text>
<text transform="translate(290.7 452.5) rotate(-9.8) scale(0.36)" text-anchor="start" y="3.5">POPE.R</text>
<text transform="translate(292 463) rotate(-4.6) scale(0.36)" text-anchor="start" y="3.5">PORB.R</text>
<text transform="translate(292.4 473.6) rotate(0.6) scale(0.36)" text-anchor="start" y="3.5">PTRI.R</text>
<text transform="translate(291.8 484.2) rotate(5.8) scale(0.36)" text-anchor="start" y="3.5">PREC.R</text>
<text transform="translate(290.3 494.7) rotate(10.9) scale(0.36)" text-anchor="start" y="3.5">RMFG.R</text>
<text transform="translate(287.8 505) rotate(16.1) scale(0.36)" text-anchor="start" y="3.5">SFG.R</text>
<text transform="translate(284.4 515.1) rotate(21.3) scale(0.36)" text-anchor="start" y="3.5">FP.R</text>
<text transform="translate(278.6 527.7) rotate(28.1) scale(0.36)" text-anchor="start" y="3.5">INS.L</text>
<text transform="translate(273.2 536.8) rotate(33.2) scale(0.36)" text-anchor="start" y="3.5">INS.R</text>
<text transform="translate(264.9 548) rotate(40) scale(0.36)" text-anchor="start" y="3.5">CACC.L</text>
<text transform="translate(257.7 555.8) rotate(45.2) scale(0.36)" text-anchor="start" y="3.5">CUN.L</text>
<text transform="translate(249.8 562.9) rotate(50.4) scale(0.36)" text-anchor="start" y="3.5">ISTC.L</text>
<text transform="translate(241.4 569.3) rotate(55.6) scale(0.36)" text-anchor="start" y="3.5">LOCC.L</text>
<text transform="translate(232.3 574.9) rotate(60.7) scale(0.36)" text-anchor="start" y="3.5">LING.L</text>
<text transform="translate(222.9 579.7) rotate(65.9) scale(0.36)" text-anchor="start" y="3.5">PERI.L</text>
<text transform="translate(213 583.6) rotate(71.1) scale(0.36)" text-anchor="start" y="3.5">PCC.L</text>
<text transform="translate(202.8 586.5) rotate(76.3) scale(0.36)" text-anchor="start" y="3.5">RACC.L</text>
<text transform="translate(192.4 588.6) rotate(81.4) scale(0.36)" text-anchor="start" y="3.5">CACC.R</text>
<text transform="translate(181.8 589.7) rotate(86.6) scale(0.36)" text-anchor="start" y="3.5">CUN.R</text>
<text transform="translate(171.2 589.8) rotate(271.8) scale(0.36)" text-anchor="end" y="3.5">ISTC.R</text>
<text transform="translate(160.7 589) rotate(277) scale(0.36)" text-anchor="end" y="3.5">LOCC.R</text>
<text transform="translate(150.2 587.3) rotate(282.1) scale(0.36)" text-anchor="end" y="3.5">LING.R</text>
<text transform="translate(139.9 584.6) rotate(287.3) scale(0.36)" text-anchor="end" y="3.5">PERI.R</text>
<text transform="translate(129.9 581) rotate(292.5) scale(0.36)" text-anchor="end" y="3.5">PCC.R</text>
<text transform="translate(120.3 576.5) rotate(297.7) scale(0.36)" text-anchor="end" y="3.5">RACC.R</text>
<text transform="translate(108.4 569.3) rotate(304.4) scale(0.36)" text-anchor="end" y="3.5">IPC.L</text>
<text transform="translate(100 562.9) rotate(309.6) scale(0.36)" text-anchor="end" y="3.5">PSTC.L</text>
<text transform="translate(92.1 555.8) rotate(314.8) scale(0.36)" text-anchor="end" y="3.5">PCUN.L</text>
<text transform="translate(84.9 548) rotate(320) scale(0.36)" text-anchor="end" y="3.5">SPC.L</text>
<text transform="translate(78.5 539.5) rotate(325.2) scale(0.36)" text-anchor="end" y="3.5">SMAR.L</text>
<text transform="translate(72.8 530.6) rotate(330.3) scale(0.36)" text-anchor="end" y="3.5">IPC.R</text>
<text transform="translate(68 521.1) rotate(335.5) scale(0.36)" text-anchor="end" y="3.5">PSTC.R</text>
<text transform="translate(64 511.3) rotate(340.7) scale(0.36)" text-anchor="end" y="3.5">PCUN.R</text>
<text transform="translate(61 501.1) rotate(345.9) scale(0.36)" text-anchor="end" y="3.5">SPC.R</text>
<text transform="translate(58.8 490.7) rotate(351) scale(0.36)" text-anchor="end" y="3.5">SMAR.R</text>
<text transform="translate(57.5 476.9) rotate(357.8) scale(0.36)" text-anchor="end" y="3.5">BSTS.L</text>
<text transform="translate(57.6 466.3) rotate(363) scale(0.36)" text-anchor="end" y="3.5">ENT.L</text>
<text transform="translate(58.6 455.7) rotate(368.2) scale(0.36)" text-anchor="end" y="3.5">FUSI.L</text>
<text transform="translate(60.6 445.3) rotate(373.3) scale(0.36)" text-anchor="end" y="3.5">ITG.L</text>
<text transform="translate(63.5 435.1) rotate(378.5) scale(0.36)" text-anchor="end" y="3.5">MTG.L</text>
<text transform="translate(67.3 425.2) rotate(383.7) scale(0.36)" text-anchor="end" y="3.5">PHG.L</text>
<text transform="translate(72 415.7) rotate(388.9) scale(0.36)" text-anchor="end" y="3.5">STG.L</text>
<text transform="translate(77.5 406.6) rotate(394) scale(0.36)" text-anchor="end" y="3.5">TP.L</text>
<text transform="translate(83.9 398.1) rotate(399.2) scale(0.36)" text-anchor="end" y="3.5">TTC.L</text>
<text transform="translate(90.9 390.2) rotate(404.4) scale(0.36)" text-anchor="end" y="3.5">BSTS.R</text>
<text transform="translate(98.7 383) rotate(409.6) scale(0.36)" text-anchor="end" y="3.5">ENT.R</text>
<text transform="translate(107.1 376.4) rotate(414.8) scale(0.36)" text-anchor="end" y="3.5">FUSI.R</text>
<text transform="translate(116 370.7) rotate(419.9) scale(0.36)" text-anchor="end" y="3.5">ITG.R</text>
<text transform="translate(125.4 365.8) rotate(425.1) scale(0.36)" text-anchor="end" y="3.5">MTG.R</text>
<text transform="translate(135.3 361.8) rotate(430.3) scale(0.36)" text-anchor="end" y="3.5">PHG.R</text>
<text transform="translate(145.4 358.7) rotate(435.5) scale(0.36)" text-anchor="end" y="3.5">STG.R</text>
<text transform="translate(155.8 356.5) rotate(440.6) scale(0.36)" text-anchor="end" y="3.5">TP.R</text>
<text transform="translate(166.3 355.2) rotate(445.8) scale(0.36)" text-anchor="end" y="3.5">TTC.R</text>
</g>
<g font-size="10" font-weight="bold" fill="#111" stroke="#111" stroke-width="0.5">
<text transform="translate(297.9 391.9) rotate(56.8) scale(0.5)" text-anchor="middle" y="3.5">FRONTAL</text>
<text transform="translate(301.4 547.4) rotate(300.7) scale(0.5)" text-anchor="middle" y="3.5">INS</text>
<text transform="translate(203.7 616.6) rotate(348.7) scale(0.5)" text-anchor="middle" y="3.5">OCCIPITAL</text>
<text transform="translate(49.8 549.6) rotate(418.3) scale(0.5)" text-anchor="middle" y="3.5">PARIETAL</text>
<text transform="translate(65.1 374.6) rotate(311.7) scale(0.5)" text-anchor="middle" y="3.5">TEMPORAL</text>
</g>
</g>
<g>
<path d="M475.5 372.7Q507.1 448.9 582.8 481.8" fill="none" stroke="#55a0d2" stroke-width="1.5" stroke-opacity="0.95"/>
<path d="M388.8 505.3Q483.8 474.2 579.8 446.5" fill="none" stroke="#55a0d2" stroke-width="0.9" stroke-opacity="0.95"/>
<path d="M400.3 416.5Q437 449.7 388.3 441" fill="none" stroke="#55a0d2" stroke-width="1" stroke-opacity="0.95"/>
<path d="M569.1 421.2Q518.2 481.8 531.8 559.8" fill="none" stroke="#55a0d2" stroke-width="0.9" stroke-opacity="0.95"/>
<path d="M577 437.9Q529.4 477.6 567.1 526.9" fill="none" stroke="#55a0d2" stroke-width="0.9" stroke-opacity="0.95"/>
<path d="M558.8 406.9Q479.2 466.1 392.1 513.7" fill="none" stroke="#f5593b" stroke-width="2.3" stroke-opacity="0.95"/>
<path d="M388.3 441Q482.8 473.6 576.6 508.2" fill="none" stroke="#f5593b" stroke-width="2.3" stroke-opacity="0.95"/>
<path d="M383.3 475.9Q456.4 499.3 479.9 572.3" fill="none" stroke="#f5593b" stroke-width="2" stroke-opacity="0.95"/>
<path d="M383.3 468.4Q449.5 496.2 453.6 567.9" fill="none" stroke="#f5593b" stroke-width="1.5" stroke-opacity="0.95"/>
<path d="M384.2 458.5Q447.5 492.8 445.1 564.9" fill="none" stroke="#f5593b" stroke-width="1" stroke-opacity="0.95"/>
<path d="M391.4 432.7Q434.8 470.6 388.8 505.3" fill="none" stroke="#f5593b" stroke-width="0.9" stroke-opacity="0.95"/>
<path d="M391.4 432.7Q446.1 439.7 432.4 386.2" fill="none" stroke="#f5593b" stroke-width="0.9" stroke-opacity="0.95"/>
<path d="M432.4 386.2Q461.2 425.5 449.5 378.3" fill="none" stroke="#f5593b" stroke-width="1.8" stroke-opacity="0.95"/>
<path d="M433.2 385.8Q463.6 424.7 458 375.6" fill="none" stroke="#f5593b" stroke-width="1.1" stroke-opacity="0.95"/>
<path d="M458 375.6Q476.2 473.2 481.5 572.4" fill="none" stroke="#f5593b" stroke-width="1.1" stroke-opacity="0.95"/>
<path d="M449.5 378.3Q482.7 472.6 515.1 567.2" fill="none" stroke="#f5593b" stroke-width="1.1" stroke-opacity="0.95"/>
<path d="M441.9 381.3Q487.3 470.1 540.1 554.6" fill="none" stroke="#f5593b" stroke-width="1.4" stroke-opacity="0.95"/>
<path d="M432.4 386.2Q480.4 473.8 523.2 564" fill="none" stroke="#f5593b" stroke-width="1.4" stroke-opacity="0.95"/>
<path d="M425.3 390.9Q481.1 473.7 533.2 559" fill="none" stroke="#f5593b" stroke-width="1.3" stroke-opacity="0.95"/>
<path d="M418.4 396.2Q472.6 477.8 507.4 569.4" fill="none" stroke="#f5593b" stroke-width="1" stroke-opacity="0.95"/>
<path d="M383.3 468.4Q481.6 462.4 577 437.9" fill="none" stroke="#f5593b" stroke-width="1.4" stroke-opacity="0.95"/>
<path d="M384.2 458.5Q481.7 459.5 576.6 436.6" fill="none" stroke="#f5593b" stroke-width="1.4" stroke-opacity="0.95"/>
<path d="M431.7 386.7Q493.3 439 573.6 429.7" fill="none" stroke="#f5593b" stroke-width="1" stroke-opacity="0.95"/>
<path d="M538.5 389.1Q521.1 439.6 573.6 429.7" fill="none" stroke="#f5593b" stroke-width="0.9" stroke-opacity="0.95"/>
<path d="M383.3 475.9Q482.8 468.9 581.7 455.4" fill="none" stroke="#f5593b" stroke-width="1.3" stroke-opacity="0.95"/>
<path d="M383.2 474.8Q483.1 471 582.9 464.6" fill="none" stroke="#f5593b" stroke-width="1.1" stroke-opacity="0.95"/>
<path d="M583.2 473.3Q519.6 496.5 523.2 564" fill="none" stroke="#f5593b" stroke-width="1.3" stroke-opacity="0.95"/>
<path d="M582.9 464.6Q523.9 491.7 540.1 554.6" fill="none" stroke="#f5593b" stroke-width="1.1" stroke-opacity="0.95"/>
<path d="M515.1 567.2Q495.3 522.8 497.8 571.3" fill="none" stroke="#f5593b" stroke-width="1.6" stroke-opacity="0.95"/>
<path d="M401 529.3Q476.6 508.6 540.1 554.6" fill="none" stroke="#f5593b" stroke-width="0.9" stroke-opacity="0.95"/>
<path d="M392.6 514.7Q477.6 464.6 552.4 400.2" fill="none" stroke="#f5593b" stroke-width="1.1" stroke-opacity="0.95"/>
<path d="M383.3 467.5Q483.2 471.4 583.2 473.3" fill="none" stroke="#f5593b" stroke-width="1.1" stroke-opacity="0.95"/>
<path d="M405.5 409.5Q479.7 476 547.5 549" fill="none" stroke="#f5593b" stroke-width="1.1" stroke-opacity="0.95"/>
<path d="M388.5 440.2Q462.7 489.7 498.8 571.2" fill="none" stroke="#f5593b" stroke-width="1.1" stroke-opacity="0.95"/>
<path d="M385.8 449.9Q454.7 492.4 471 571.7" fill="none" stroke="#f5593b" stroke-width="1.5" stroke-opacity="0.95"/>
<path d="M411.3 402.9Q482.9 472.7 553.9 543.1" fill="none" stroke="#f5593b" stroke-width="1" stroke-opacity="0.95"/>
<path d="M483.2 321.9A150.5 150.5 0 0 1 620.8 533.3L613.8 530.2A142.8 142.8 0 0 0 483.2 329.6Z" fill="#b9f7b9" stroke="#f4a48c" stroke-width="0.4" stroke-opacity="0.6"/>
<path d="M619.1 537.2A150.5 150.5 0 0 1 605.2 560.5L599 556A142.8 142.8 0 0 0 612.1 533.8Z" fill="#41bdb8" stroke="#f4a48c" stroke-width="0.4" stroke-opacity="0.6"/>
<path d="M602.7 563.9A150.5 150.5 0 0 1 407.4 602.4L411.2 595.7A142.8 142.8 0 0 0 596.6 559.2Z" fill="#fbbf7e" stroke="#f4a48c" stroke-width="0.4" stroke-opacity="0.6"/>
<path d="M403.8 600.2A150.5 150.5 0 0 1 333.6 489.1L341.3 488.3A142.8 142.8 0 0 0 407.8 593.7Z" fill="#8080dc" stroke="#f4a48c" stroke-width="0.4" stroke-opacity="0.6"/>
<path d="M333.2 484.9A150.5 150.5 0 0 1 479 322L479.2 329.7A142.8 142.8 0 0 0 340.9 484.3Z" fill="#f8bcbc" stroke="#f4a48c" stroke-width="0.4" stroke-opacity="0.6"/>
<path d="M483.2 358.1A114.3 114.3 0 0 1 587.7 518.7L574.6 512.9A100 100 0 0 0 483.2 372.4Z" fill="#b9f7b9" stroke="#222" stroke-width="0.35" stroke-opacity="0.5"/>
<path d="M586.4 521.6A114.3 114.3 0 0 1 575.9 539.3L564.3 530.9A100 100 0 0 0 573.5 515.4Z" fill="#41bdb8" stroke="#222" stroke-width="0.35" stroke-opacity="0.5"/>
<path d="M574 541.9A114.3 114.3 0 0 1 425.6 571.1L432.8 558.8A100 100 0 0 0 562.6 533.2Z" fill="#fbbf7e" stroke="#222" stroke-width="0.35" stroke-opacity="0.5"/>
<path d="M422.9 569.5A114.3 114.3 0 0 1 369.6 485.1L383.8 483.5A100 100 0 0 0 430.4 557.3Z" fill="#8080dc" stroke="#222" stroke-width="0.35" stroke-opacity="0.5"/>
<path d="M369.3 481.9A114.3 114.3 0 0 1 480 358.1L480.4 372.4A100 100 0 0 0 383.5 480.7Z" fill="#f8bcbc" stroke="#222" stroke-width="0.35" stroke-opacity="0.5"/>
<path d="M483.2 372.4L483.2 358.1M492.2 372.8L493.5 358.6M492.2 372.8L493.5 358.6M501.2 374L503.7 360M501.2 374L503.7 360M510 376.1L513.8 362.3M510 376.1L513.8 362.3M518.6 378.9L523.6 365.5M518.6 378.9L523.6 365.5M526.9 382.4L533.1 369.6M526.9 382.4L533.1 369.6M534.8 386.7L542.2 374.5M534.8 386.7L542.2 374.5M542.3 391.7L550.8 380.2M542.3 391.7L550.8 380.2M549.3 397.4L558.8 386.7M549.3 397.4L558.8 386.7M555.8 403.7L566.2 393.8M555.8 403.7L566.2 393.8M561.7 410.5L573 401.7M561.7 410.5L573 401.7M567 417.9L579 410M567 417.9L579 410M571.6 425.6L584.2 418.9M571.6 425.6L584.2 418.9M575.4 433.8L588.6 428.3M575.4 433.8L588.6 428.3M578.6 442.3L592.2 438M578.6 442.3L592.2 438M580.9 451L594.9 447.9M580.9 451L594.9 447.9M582.4 459.9L596.6 458.1M582.4 459.9L596.6 458.1M583.1 468.9L597.4 468.4M583.1 468.9L597.4 468.4M583 477.9L597.3 478.7M583 477.9L597.3 478.7M582.1 486.9L596.3 489M582.1 486.9L596.3 489M580.4 495.8L594.3 499.1M580.4 495.8L594.3 499.1M577.9 504.5L591.5 509.1M577.9 504.5L591.5 509.1M574.6 512.9L587.7 518.7M573.5 515.4L586.4 521.6M569.2 523.4L581.5 530.7M569.2 523.4L581.5 530.7M564.3 530.9L575.9 539.3M562.6 533.2L574 541.9M556.8 540.1L567.3 549.8M556.8 540.1L567.3 549.8M550.4 546.5L560 557.1M550.4 546.5L560 557.1M543.4 552.2L552 563.6M543.4 552.2L552 563.6M536 557.3L543.5 569.5M536 557.3L543.5 569.5M528.1 561.8L534.5 574.5M528.1 561.8L534.5 574.5M519.9 565.4L525.1 578.7M519.9 565.4L525.1 578.7M511.3 568.4L515.3 582.1M511.3 568.4L515.3 582.1M502.5 570.5L505.3 584.5M502.5 570.5L505.3 584.5M493.6 571.9L495.1 586.1M493.6 571.9L495.1 586.1M484.6 572.4L484.8 586.7M484.6 572.4L484.8 586.7M475.6 572.1L474.5 586.4M475.6 572.1L474.5 586.4M466.6 571L464.2 585.1M466.6 571L464.2 585.1M457.8 569.1L454.1 582.9M457.8 569.1L454.1 582.9M449.2 566.4L444.3 579.9M449.2 566.4L444.3 579.9M440.8 563L434.7 575.9M440.8 563L434.7 575.9M432.8 558.8L425.6 571.1M430.4 557.3L422.9 569.5M423 552.2L414.4 563.6M423 552.2L414.4 563.6M416 546.5L406.4 557.1M416 546.5L406.4 557.1M409.6 540.1L399.1 549.8M409.6 540.1L399.1 549.8M403.8 533.2L392.4 541.9M403.8 533.2L392.4 541.9M398.6 525.8L386.5 533.4M398.6 525.8L386.5 533.4M394.2 517.9L381.4 524.4M394.2 517.9L381.4 524.4M390.4 509.7L377.2 515M390.4 509.7L377.2 515M387.4 501.2L373.7 505.3M387.4 501.2L373.7 505.3M385.2 492.4L371.2 495.3M385.2 492.4L371.2 495.3M383.8 483.5L369.6 485.1M383.5 480.7L369.3 481.9M383.2 471.7L368.9 471.6M383.2 471.7L368.9 471.6M383.7 462.7L369.4 461.3M383.7 462.7L369.4 461.3M385 453.7L370.9 451.1M385 453.7L370.9 451.1M387 445L373.3 441M387 445L373.3 441M389.9 436.4L376.6 431.2M389.9 436.4L376.6 431.2M393.5 428.1L380.7 421.8M393.5 428.1L380.7 421.8M397.9 420.2L385.7 412.7M397.9 420.2L385.7 412.7M403 412.7L391.5 404.2M403 412.7L391.5 404.2M408.7 405.7L398 396.2M408.7 405.7L398 396.2M415 399.3L405.2 388.8M415 399.3L405.2 388.8M421.9 393.4L413.1 382.1M421.9 393.4L413.1 382.1M429.2 388.2L421.5 376.2M429.2 388.2L421.5 376.2M437.1 383.7L430.5 371M437.1 383.7L430.5 371M445.2 379.9L439.8 366.7M445.2 379.9L439.8 366.7M453.7 376.8L449.5 363.2M453.7 376.8L449.5 363.2M462.5 374.6L459.5 360.6M462.5 374.6L459.5 360.6M471.4 373.1L469.7 358.9M471.4 373.1L469.7 358.9M480.4 372.4L480 358.1" stroke="#222" stroke-width="0.45" stroke-opacity="0.6" fill="none"/>
<g font-size="10" font-weight="bold" fill="#111" stroke="#111" stroke-width="0.35">
<text transform="translate(488.5 355) rotate(-87.4) scale(0.36)" text-anchor="start" y="3.5">CMFG.L</text>
<text transform="translate(499.1 356) rotate(-82.2) scale(0.36)" text-anchor="start" y="3.5">LOF.L</text>
<text transform="translate(509.5 357.9) rotate(-77.1) scale(0.36)" text-anchor="start" y="3.5">MOF.L</text>
<text transform="translate(519.7 360.7) rotate(-71.9) scale(0.36)" text-anchor="start" y="3.5">PARC.L</text>
<text transform="translate(529.7 364.5) rotate(-66.7) scale(0.36)" text-anchor="start" y="3.5">POPE.L</text>
<text transform="translate(539.2 369.1) rotate(-61.5) scale(0.36)" text-anchor="start" y="3.5">PORB.L</text>
<text transform="translate(548.3 374.6) rotate(-56.4) scale(0.36)" text-anchor="start" y="3.5">PTRI.L</text>
<text transform="translate(556.9 380.9) rotate(-51.2) scale(0.36)" text-anchor="start" y="3.5">PREC.L</text>
<text transform="translate(564.8 387.9) rotate(-46) scale(0.36)" text-anchor="start" y="3.5">RMFG.L</text>
<text transform="translate(572.1 395.6) rotate(-40.8) scale(0.36)" text-anchor="start" y="3.5">SFG.L</text>
<text transform="translate(578.7 403.9) rotate(-35.6) scale(0.36)" text-anchor="start" y="3.5">FP.L</text>
<text transform="translate(584.5 412.8) rotate(-30.5) scale(0.36)" text-anchor="start" y="3.5">CMFG.R</text>
<text transform="translate(589.4 422.2) rotate(-25.3) scale(0.36)" text-anchor="start" y="3.5">LOF.R</text>
<text transform="translate(593.5 432) rotate(-20.1) scale(0.36)" text-anchor="start" y="3.5">MOF.R</text>
<text transform="translate(596.7 442.1) rotate(-14.9) scale(0.36)" text-anchor="start" y="3.5">PARC.R</text>
<text transform="translate(599 452.5) rotate(-9.8) scale(0.36)" text-anchor="start" y="3.5">POPE.R</text>
<text transform="translate(600.3 463) rotate(-4.6) scale(0.36)" text-anchor="start" y="3.5">PORB.R</text>
<text transform="translate(600.7 473.6) rotate(0.6) scale(0.36)" text-anchor="start" y="3.5">PTRI.R</text>
<text transform="translate(600.1 484.2) rotate(5.8) scale(0.36)" text-anchor="start" y="3.5">PREC.R</text>
<text transform="translate(598.6 494.7) rotate(10.9) scale(0.36)" text-anchor="start" y="3.5">RMFG.R</text>
<text transform="translate(596.1 505) rotate(16.1) scale(0.36)" text-anchor="start" y="3.5">SFG.R</text>
<text transform="translate(592.7 515.1) rotate(21.3) scale(0.36)" text-anchor="start" y="3.5">FP.R</text>
<text transform="translate(586.9 527.7) rotate(28.1) scale(0.36)" text-anchor="start" y="3.5">INS.L</text>
<text transform="translate(581.5 536.8) rotate(33.2) scale(0.36)" text-anchor="start" y="3.5">INS.R</text>
<text transform="translate(573.2 548) rotate(40) scale(0.36)" text-anchor="start" y="3.5">CACC.L</text>
<text transform="translate(566 555.8) rotate(45.2) scale(0.36)" text-anchor="start" y="3.5">CUN.L</text>
<text transform="translate(558.1 562.9) rotate(50.4) scale(0.36)" text-anchor="start" y="3.5">ISTC.L</text>
<text transform="translate(549.7 569.3) rotate(55.6) scale(0.36)" text-anchor="start" y="3.5">LOCC.L</text>
<text transform="translate(540.6 574.9) rotate(60.7) scale(0.36)" text-anchor="start" y="3.5">LING.L</text>
<text transform="translate(531.2 579.7) rotate(65.9) scale(0.36)" text-anchor="start" y="3.5">PERI.L</text>
<text transform="translate(521.3 583.6) rotate(71.1) scale(0.36)" text-anchor="start" y="3.5">PCC.L</text>
<text transform="translate(511.1 586.5) rotate(76.3) scale(0.36)" text-anchor="start" y="3.5">RACC.L</text>
<text transform="translate(500.7 588.6) rotate(81.4) scale(0.36)" text-anchor="start" y="3.5">CACC.R</text>
<text transform="translate(490.1 589.7) rotate(86.6) scale(0.36)" text-anchor="start" y="3.5">CUN.R</text>
<text transform="translate(479.5 589.8) rotate(271.8) scale(0.36)" text-anchor="end" y="3.5">ISTC.R</text>
<text transform="translate(469 589) rotate(277) scale(0.36)" text-anchor="end" y="3.5">LOCC.R</text>
<text transform="translate(458.5 587.3) rotate(282.1) scale(0.36)" text-anchor="end" y="3.5">LING.R</text>
<text transform="translate(448.2 584.6) rotate(287.3) scale(0.36)" text-anchor="end" y="3.5">PERI.R</text>
<text transform="translate(438.2 581) rotate(292.5) scale(0.36)" text-anchor="end" y="3.5">PCC.R</text>
<text transform="translate(428.6 576.5) rotate(297.7) scale(0.36)" text-anchor="end" y="3.5">RACC.R</text>
<text transform="translate(416.7 569.3) rotate(304.4) scale(0.36)" text-anchor="end" y="3.5">IPC.L</text>
<text transform="translate(408.3 562.9) rotate(309.6) scale(0.36)" text-anchor="end" y="3.5">PSTC.L</text>
<text transform="translate(400.4 555.8) rotate(314.8) scale(0.36)" text-anchor="end" y="3.5">PCUN.L</text>
<text transform="translate(393.2 548) rotate(320) scale(0.36)" text-anchor="end" y="3.5">SPC.L</text>
<text transform="translate(386.8 539.5) rotate(325.2) scale(0.36)" text-anchor="end" y="3.5">SMAR.L</text>
<text transform="translate(381.1 530.6) rotate(330.3) scale(0.36)" text-anchor="end" y="3.5">IPC.R</text>
<text transform="translate(376.3 521.1) rotate(335.5) scale(0.36)" text-anchor="end" y="3.5">PSTC.R</text>
<text transform="translate(372.3 511.3) rotate(340.7) scale(0.36)" text-anchor="end" y="3.5">PCUN.R</text>
<text transform="translate(369.3 501.1) rotate(345.9) scale(0.36)" text-anchor="end" y="3.5">SPC.R</text>
<text transform="translate(367.1 490.7) rotate(351) scale(0.36)" text-anchor="end" y="3.5">SMAR.R</text>
<text transform="translate(365.8 476.9) rotate(357.8) scale(0.36)" text-anchor="end" y="3.5">BSTS.L</text>
<text transform="translate(365.9 466.3) rotate(363) scale(0.36)" text-anchor="end" y="3.5">ENT.L</text>
<text transform="translate(366.9 455.7) rotate(368.2) scale(0.36)" text-anchor="end" y="3.5">FUSI.L</text>
<text transform="translate(368.9 445.3) rotate(373.3) scale(0.36)" text-anchor="end" y="3.5">ITG.L</text>
<text transform="translate(371.8 435.1) rotate(378.5) scale(0.36)" text-anchor="end" y="3.5">MTG.L</text>
<text transform="translate(375.6 425.2) rotate(383.7) scale(0.36)" text-anchor="end" y="3.5">PHG.L</text>
<text transform="translate(380.3 415.7) rotate(388.9) scale(0.36)" text-anchor="end" y="3.5">STG.L</text>
<text transform="translate(385.8 406.6) rotate(394) scale(0.36)" text-anchor="end" y="3.5">TP.L</text>
<text transform="translate(392.2 398.1) rotate(399.2) scale(0.36)" text-anchor="end" y="3.5">TTC.L</text>
<text transform="translate(399.2 390.2) rotate(404.4) scale(0.36)" text-anchor="end" y="3.5">BSTS.R</text>
<text transform="translate(407 383) rotate(409.6) scale(0.36)" text-anchor="end" y="3.5">ENT.R</text>
<text transform="translate(415.4 376.4) rotate(414.8) scale(0.36)" text-anchor="end" y="3.5">FUSI.R</text>
<text transform="translate(424.3 370.7) rotate(419.9) scale(0.36)" text-anchor="end" y="3.5">ITG.R</text>
<text transform="translate(433.7 365.8) rotate(425.1) scale(0.36)" text-anchor="end" y="3.5">MTG.R</text>
<text transform="translate(443.6 361.8) rotate(430.3) scale(0.36)" text-anchor="end" y="3.5">PHG.R</text>
<text transform="translate(453.7 358.7) rotate(435.5) scale(0.36)" text-anchor="end" y="3.5">STG.R</text>
<text transform="translate(464.1 356.5) rotate(440.6) scale(0.36)" text-anchor="end" y="3.5">TP.R</text>
<text transform="translate(474.6 355.2) rotate(445.8) scale(0.36)" text-anchor="end" y="3.5">TTC.R</text>
</g>
<g font-size="10" font-weight="bold" fill="#111" stroke="#111" stroke-width="0.5">
<text transform="translate(606.2 391.9) rotate(56.8) scale(0.5)" text-anchor="middle" y="3.5">FRONTAL</text>
<text transform="translate(609.7 547.4) rotate(300.7) scale(0.5)" text-anchor="middle" y="3.5">INS</text>
<text transform="translate(512 616.6) rotate(348.7) scale(0.5)" text-anchor="middle" y="3.5">OCCIPITAL</text>
<text transform="translate(358.1 549.6) rotate(418.3) scale(0.5)" text-anchor="middle" y="3.5">PARIETAL</text>
<text transform="translate(373.4 374.6) rotate(311.7) scale(0.5)" text-anchor="middle" y="3.5">TEMPORAL</text>
</g>
</g>
<g>
<path d="M846.2 389.5Q794.9 474.9 752 564.8" fill="none" stroke="#f5593b" stroke-width="1.2" stroke-opacity="0.95"/>
<path d="M811.9 374.8Q810.5 425.5 846.2 389.5" fill="none" stroke="#f5593b" stroke-width="1.1" stroke-opacity="0.95"/>
<path d="M803.9 373.3Q787.5 421.4 766.1 375.4" fill="none" stroke="#55a0d2" stroke-width="1.2" stroke-opacity="0.95"/>
<path d="M803.9 373.3Q780.1 424.6 737.3 387.6" fill="none" stroke="#55a0d2" stroke-width="1.1" stroke-opacity="0.95"/>
<path d="M803.9 373.3Q775.1 428.6 718.4 402.9" fill="none" stroke="#55a0d2" stroke-width="0.9" stroke-opacity="0.95"/>
<path d="M706.4 417.9Q752.8 437.5 730.1 392.5" fill="none" stroke="#55a0d2" stroke-width="1.7" stroke-opacity="0.95"/>
<path d="M766.1 375.4Q772.2 470.3 744.9 561.5" fill="none" stroke="#55a0d2" stroke-width="1" stroke-opacity="0.95"/>
<path d="M803.9 373.3Q796.1 472.5 799 572" fill="none" stroke="#55a0d2" stroke-width="0.9" stroke-opacity="0.95"/>
<path d="M805.1 373.5Q805.1 470.2 832.6 563" fill="none" stroke="#55a0d2" stroke-width="0.8" stroke-opacity="0.95"/>
<path d="M702 425.5Q785.7 478.6 861 543.1" fill="none" stroke="#55a0d2" stroke-width="1.7" stroke-opacity="0.95"/>
<path d="M692.9 449.9Q790.9 465.2 890.2 467.2" fill="none" stroke="#55a0d2" stroke-width="0.8" stroke-opacity="0.95"/>
<path d="M692.9 449.9Q790.6 471.1 888.8 489.8" fill="none" stroke="#55a0d2" stroke-width="0.8" stroke-opacity="0.95"/>
<path d="M693.1 449.1Q781.4 486.5 853.2 550.1" fill="none" stroke="#55a0d2" stroke-width="0.9" stroke-opacity="0.95"/>
<path d="M697.6 434.9Q790.5 472 883.7 508.2" fill="none" stroke="#55a0d2" stroke-width="0.9" stroke-opacity="0.95"/>
<path d="M690.4 475.9Q739.6 481.3 695.2 503.3" fill="none" stroke="#55a0d2" stroke-width="0.9" stroke-opacity="0.95"/>
<path d="M744.9 561.5Q782.3 521.3 805.1 571.3" fill="none" stroke="#55a0d2" stroke-width="1" stroke-opacity="0.95"/>
<path d="M752 564.8Q779.6 522.4 787.3 572.4" fill="none" stroke="#55a0d2" stroke-width="1" stroke-opacity="0.95"/>
<path d="M778.1 571.7Q788.9 524.1 797.3 572.2" fill="none" stroke="#55a0d2" stroke-width="1" stroke-opacity="0.95"/>
<path d="M850.5 392.5Q831.1 444.9 886.9 446.5" fill="none" stroke="#55a0d2" stroke-width="1.5" stroke-opacity="0.95"/>
<path d="M876 420.9Q828.9 479.2 853.2 550.1" fill="none" stroke="#55a0d2" stroke-width="1" stroke-opacity="0.95"/>
<path d="M698.9 513.1Q789.5 495.2 878.6 519.3" fill="none" stroke="#55a0d2" stroke-width="0.8" stroke-opacity="0.95"/>
<path d="M703.7 522.4Q787.7 502.1 866.9 536.7" fill="none" stroke="#55a0d2" stroke-width="0.8" stroke-opacity="0.95"/>
<path d="M708.4 529.8Q787.2 505.9 860.4 543.7" fill="none" stroke="#55a0d2" stroke-width="0.8" stroke-opacity="0.95"/>
<path d="M708.4 529.8Q774.9 462 812.8 375" fill="none" stroke="#55a0d2" stroke-width="0.9" stroke-opacity="0.95"/>
<path d="M719.6 543.1Q780.2 466.1 822 377.6" fill="none" stroke="#55a0d2" stroke-width="0.8" stroke-opacity="0.95"/>
<path d="M718.4 402.9Q775.7 480 805.9 571.2" fill="none" stroke="#55a0d2" stroke-width="0.8" stroke-opacity="0.95"/>
<path d="M737.3 387.6Q785 474.9 822.9 567" fill="none" stroke="#55a0d2" stroke-width="0.9" stroke-opacity="0.95"/>
<path d="M738.1 387.1Q764.7 473.3 744.1 561.1" fill="none" stroke="#55a0d2" stroke-width="0.9" stroke-opacity="0.95"/>
<path d="M712.6 409.5Q795.1 463.2 886.4 500" fill="none" stroke="#55a0d2" stroke-width="0.9" stroke-opacity="0.95"/>
<path d="M851.2 393.1Q800.7 477.2 769.5 570.2" fill="none" stroke="#55a0d2" stroke-width="0.9" stroke-opacity="0.95"/>
<path d="M702.4 424.7Q782.4 481.3 847.7 554.3" fill="none" stroke="#55a0d2" stroke-width="0.9" stroke-opacity="0.95"/>
<path d="M692.9 449.9Q753.2 489.7 744.9 561.5" fill="none" stroke="#55a0d2" stroke-width="1.6" stroke-opacity="0.95"/>
<path d="M713.7 536.7Q788.4 470.4 859.8 400.5" fill="none" stroke="#55a0d2" stroke-width="0.8" stroke-opacity="0.95"/>
<path d="M695.2 441.5Q787.1 478.9 873.2 528.3" fill="none" stroke="#55a0d2" stroke-width="0.8" stroke-opacity="0.95"/>
<path d="M737.3 557.2Q775.6 520.4 786.8 572.3" fill="none" stroke="#55a0d2" stroke-width="0.9" stroke-opacity="0.95"/>
<path d="M790.3 321.9A150.5 150.5 0 0 1 927.9 533.3L920.9 530.2A142.8 142.8 0 0 0 790.3 329.6Z" fill="#b9f7b9" stroke="#f4a48c" stroke-width="0.4" stroke-opacity="0.6"/>
<path d="M926.2 537.2A150.5 150.5 0 0 1 912.3 560.5L906.1 556A142.8 142.8 0 0 0 919.2 533.8Z" fill="#41bdb8" stroke="#f4a48c" stroke-width="0.4" stroke-opacity="0.6"/>
<path d="M909.8 563.9A150.5 150.5 0 0 1 714.5 602.4L718.3 595.7A142.8 142.8 0 0 0 903.7 559.2Z" fill="#fbbf7e" stroke="#f4a48c" stroke-width="0.4" stroke-opacity="0.6"/>
<path d="M710.9 600.2A150.5 150.5 0 0 1 640.7 489.1L648.4 488.3A142.8 142.8 0 0 0 714.9 593.7Z" fill="#8080dc" stroke="#f4a48c" stroke-width="0.4" stroke-opacity="0.6"/>
<path d="M640.3 484.9A150.5 150.5 0 0 1 786.1 322L786.3 329.7A142.8 142.8 0 0 0 648 484.3Z" fill="#f8bcbc" stroke="#f4a48c" stroke-width="0.4" stroke-opacity="0.6"/>
<path d="M790.3 358.1A114.3 114.3 0 0 1 894.8 518.7L881.7 512.9A100 100 0 0 0 790.3 372.4Z" fill="#b9f7b9" stroke="#222" stroke-width="0.35" stroke-opacity="0.5"/>
<path d="M893.5 521.6A114.3 114.3 0 0 1 883 539.3L871.4 530.9A100 100 0 0 0 880.6 515.4Z" fill="#41bdb8" stroke="#222" stroke-width="0.35" stroke-opacity="0.5"/>
<path d="M881.1 541.9A114.3 114.3 0 0 1 732.7 571.1L739.9 558.8A100 100 0 0 0 869.7 533.2Z" fill="#fbbf7e" stroke="#222" stroke-width="0.35" stroke-opacity="0.5"/>
<path d="M730 569.5A114.3 114.3 0 0 1 676.7 485.1L690.9 483.5A100 100 0 0 0 737.5 557.3Z" fill="#8080dc" stroke="#222" stroke-width="0.35" stroke-opacity="0.5"/>
<path d="M676.4 481.9A114.3 114.3 0 0 1 787.1 358.1L787.5 372.4A100 100 0 0 0 690.6 480.7Z" fill="#f8bcbc" stroke="#222" stroke-width="0.35" stroke-opacity="0.5"/>
<path d="M790.3 372.4L790.3 358.1M799.3 372.8L800.6 358.6M799.3 372.8L800.6 358.6M808.3 374L810.8 360M808.3 374L810.8 360M817.1 376.1L820.9 362.3M817.1 376.1L820.9 362.3M825.7 378.9L830.7 365.5M825.7 378.9L830.7 365.5M834 382.4L840.2 369.6M834 382.4L840.2 369.6M841.9 386.7L849.3 374.5M841.9 386.7L849.3 374.5M849.4 391.7L857.9 380.2M849.4 391.7L857.9 380.2M856.4 397.4L865.9 386.7M856.4 397.4L865.9 386.7M862.9 403.7L873.3 393.8M862.9 403.7L873.3 393.8M868.8 410.5L880.1 401.7M868.8 410.5L880.1 401.7M874.1 417.9L886.1 410M874.1 417.9L886.1 410M878.7 425.6L891.3 418.9M878.7 425.6L891.3 418.9M882.5 433.8L895.7 428.3M882.5 433.8L895.7 428.3M885.7 442.3L899.3 438M885.7 442.3L899.3 438M888 451L902 447.9M888 451L902 447.9M889.5 459.9L903.7 458.1M889.5 459.9L903.7 458.1M890.2 468.9L904.5 468.4M890.2 468.9L904.5 468.4M890.1 477.9L904.4 478.7M890.1 477.9L904.4 478.7M889.2 486.9L903.4 489M889.2 486.9L903.4 489M887.5 495.8L901.4 499.1M887.5 495.8L901.4 499.1M885 504.5L898.6 509.1M885 504.5L898.6 509.1M881.7 512.9L894.8 518.7M880.6 515.4L893.5 521.6M876.3 523.4L888.6 530.7M876.3 523.4L888.6 530.7M871.4 530.9L883 539.3M869.7 533.2L881.1 541.9M863.9 540.1L874.4 549.8M863.9 540.1L874.4 549.8M857.5 546.5L867.1 557.1M857.5 546.5L867.1 557.1M850.5 552.2L859.1 563.6M850.5 552.2L859.1 563.6M843.1 557.3L850.6 569.5M843.1 557.3L850.6 569.5M835.2 561.8L841.6 574.5M835.2 561.8L841.6 574.5M827 565.4L832.2 578.7M827 565.4L832.2 578.7M818.4 568.4L822.4 582.1M818.4 568.4L822.4 582.1M809.6 570.5L812.4 584.5M809.6 570.5L812.4 584.5M800.7 571.9L802.2 586.1M800.7 571.9L802.2 586.1M791.7 572.4L791.9 586.7M791.7 572.4L791.9 586.7M782.7 572.1L781.6 586.4M782.7 572.1L781.6 586.4M773.7 571L771.3 585.1M773.7 571L771.3 585.1M764.9 569.1L761.2 582.9M764.9 569.1L761.2 582.9M756.3 566.4L751.4 579.9M756.3 566.4L751.4 579.9M747.9 563L741.8 575.9M747.9 563L741.8 575.9M739.9 558.8L732.7 571.1M737.5 557.3L730 569.5M730.1 552.2L721.5 563.6M730.1 552.2L721.5 563.6M723.1 546.5L713.5 557.1M723.1 546.5L713.5 557.1M716.7 540.1L706.2 549.8M716.7 540.1L706.2 549.8M710.9 533.2L699.5 541.9M710.9 533.2L699.5 541.9M705.7 525.8L693.6 533.4M705.7 525.8L693.6 533.4M701.3 517.9L688.5 524.4M701.3 517.9L688.5 524.4M697.5 509.7L684.3 515M697.5 509.7L684.3 515M694.5 501.2L680.8 505.3M694.5 501.2L680.8 505.3M692.3 492.4L678.3 495.3M692.3 492.4L678.3 495.3M690.9 483.5L676.7 485.1M690.6 480.7L676.4 481.9M690.3 471.7L676 471.6M690.3 471.7L676 471.6M690.8 462.7L676.5 461.3M690.8 462.7L676.5 461.3M692.1 453.7L678 451.1M692.1 453.7L678 451.1M694.1 445L680.4 441M694.1 445L680.4 441M697 436.4L683.7 431.2M697 436.4L683.7 431.2M700.6 428.1L687.8 421.8M700.6 428.1L687.8 421.8M705 420.2L692.8 412.7M705 420.2L692.8 412.7M710.1 412.7L698.6 404.2M710.1 412.7L698.6 404.2M715.8 405.7L705.1 396.2M715.8 405.7L705.1 396.2M722.1 399.3L712.3 388.8M722.1 399.3L712.3 388.8M729 393.4L720.2 382.1M729 393.4L720.2 382.1M736.3 388.2L728.6 376.2M736.3 388.2L728.6 376.2M744.2 383.7L737.6 371M744.2 383.7L737.6 371M752.3 379.9L746.9 366.7M752.3 379.9L746.9 366.7M760.8 376.8L756.6 363.2M760.8 376.8L756.6 363.2M769.6 374.6L766.6 360.6M769.6 374.6L766.6 360.6M778.5 373.1L776.8 358.9M778.5 373.1L776.8 358.9M787.5 372.4L787.1 358.1" stroke="#222" stroke-width="0.45" stroke-opacity="0.6" fill="none"/>
<g font-size="10" font-weight="bold" fill="#111" stroke="#111" stroke-width="0.35">
<text transform="translate(795.6 355) rotate(-87.4) scale(0.36)" text-anchor="start" y="3.5">CMFG.L</text>
<text transform="translate(806.2 356) rotate(-82.2) scale(0.36)" text-anchor="start" y="3.5">LOF.L</text>
<text transform="translate(816.6 357.9) rotate(-77.1) scale(0.36)" text-anchor="start" y="3.5">MOF.L</text>
<text transform="translate(826.8 360.7) rotate(-71.9) scale(0.36)" text-anchor="start" y="3.5">PARC.L</text>
<text transform="translate(836.8 364.5) rotate(-66.7) scale(0.36)" text-anchor="start" y="3.5">POPE.L</text>
<text transform="translate(846.3 369.1) rotate(-61.5) scale(0.36)" text-anchor="start" y="3.5">PORB.L</text>
<text transform="translate(855.4 374.6) rotate(-56.4) scale(0.36)" text-anchor="start" y="3.5">PTRI.L</text>
<text transform="translate(864 380.9) rotate(-51.2) scale(0.36)" text-anchor="start" y="3.5">PREC.L</text>
<text transform="translate(871.9 387.9) rotate(-46) scale(0.36)" text-anchor="start" y="3.5">RMFG.L</text>
<text transform="translate(879.2 395.6) rotate(-40.8) scale(0.36)" text-anchor="start" y="3.5">SFG.L</text>
<text transform="translate(885.8 403.9) rotate(-35.6) scale(0.36)" text-anchor="start" y="3.5">FP.L</text>
<text transform="translate(891.6 412.8) rotate(-30.5) scale(0.36)" text-anchor="start" y="3.5">CMFG.R</text>
<text transform="translate(896.5 422.2) rotate(-25.3) scale(0.36)" text-anchor="start" y="3.5">LOF.R</text>
<text transform="translate(900.6 432) rotate(-20.1) scale(0.36)" text-anchor="start" y="3.5">MOF.R</text>
<text transform="translate(903.8 442.1) rotate(-14.9) scale(0.36)" text-anchor="start" y="3.5">PARC.R</text>
<text transform="translate(906.1 452.5) rotate(-9.8) scale(0.36)" text-anchor="start" y="3.5">POPE.R</text>
<text transform="translate(907.4 463) rotate(-4.6) scale(0.36)" text-anchor="start" y="3.5">PORB.R</text>
<text transform="translate(907.8 473.6) rotate(0.6) scale(0.36)" text-anchor="start" y="3.5">PTRI.R</text>
<text transform="translate(907.2 484.2) rotate(5.8) scale(0.36)" text-anchor="start" y="3.5">PREC.R</text>
<text transform="translate(905.7 494.7) rotate(10.9) scale(0.36)" text-anchor="start" y="3.5">RMFG.R</text>
<text transform="translate(903.2 505) rotate(16.1) scale(0.36)" text-anchor="start" y="3.5">SFG.R</text>
<text transform="translate(899.8 515.1) rotate(21.3) scale(0.36)" text-anchor="start" y="3.5">FP.R</text>
<text transform="translate(894 527.7) rotate(28.1) scale(0.36)" text-anchor="start" y="3.5">INS.L</text>
<text transform="translate(888.6 536.8) rotate(33.2) scale(0.36)" text-anchor="start" y="3.5">INS.R</text>
<text transform="translate(880.3 548) rotate(40) scale(0.36)" text-anchor="start" y="3.5">CACC.L</text>
<text transform="translate(873.1 555.8) rotate(45.2) scale(0.36)" text-anchor="start" y="3.5">CUN.L</text>
<text transform="translate(865.2 562.9) rotate(50.4) scale(0.36)" text-anchor="start" y="3.5">ISTC.L</text>
<text transform="translate(856.8 569.3) rotate(55.6) scale(0.36)" text-anchor="start" y="3.5">LOCC.L</text>
<text transform="translate(847.7 574.9) rotate(60.7) scale(0.36)" text-anchor="start" y="3.5">LING.L</text>
<text transform="translate(838.3 579.7) rotate(65.9) scale(0.36)" text-anchor="start" y="3.5">PERI.L</text>
<text transform="translate(828.4 583.6) rotate(71.1) scale(0.36)" text-anchor="start" y="3.5">PCC.L</text>
<text transform="translate(818.2 586.5) rotate(76.3) scale(0.36)" text-anchor="start" y="3.5">RACC.L</text>
<text transform="translate(807.8 588.6) rotate(81.4) scale(0.36)" text-anchor="start" y="3.5">CACC.R</text>
<text transform="translate(797.2 589.7) rotate(86.6) scale(0.36)" text-anchor="start" y="3.5">CUN.R</text>
<text transform="translate(786.6 589.8) rotate(271.8) scale(0.36)" text-anchor="end" y="3.5">ISTC.R</text>
<text transform="translate(776.1 589) rotate(277) scale(0.36)" text-anchor="end" y="3.5">LOCC.R</text>
<text transform="translate(765.6 587.3) rotate(282.1) scale(0.36)" text-anchor="end" y="3.5">LING.R</text>
<text transform="translate(755.3 584.6) rotate(287.3) scale(0.36)" text-anchor="end" y="3.5">PERI.R</text>
<text transform="translate(745.3 581) rotate(292.5) scale(0.36)" text-anchor="end" y="3.5">PCC.R</text>
<text transform="translate(735.7 576.5) rotate(297.7) scale(0.36)" text-anchor="end" y="3.5">RACC.R</text>
<text transform="translate(723.8 569.3) rotate(304.4) scale(0.36)" text-anchor="end" y="3.5">IPC.L</text>
<text transform="translate(715.4 562.9) rotate(309.6) scale(0.36)" text-anchor="end" y="3.5">PSTC.L</text>
<text transform="translate(707.5 555.8) rotate(314.8) scale(0.36)" text-anchor="end" y="3.5">PCUN.L</text>
<text transform="translate(700.3 548) rotate(320) scale(0.36)" text-anchor="end" y="3.5">SPC.L</text>
<text transform="translate(693.9 539.5) rotate(325.2) scale(0.36)" text-anchor="end" y="3.5">SMAR.L</text>
<text transform="translate(688.2 530.6) rotate(330.3) scale(0.36)" text-anchor="end" y="3.5">IPC.R</text>
<text transform="translate(683.4 521.1) rotate(335.5) scale(0.36)" text-anchor="end" y="3.5">PSTC.R</text>
<text transform="translate(679.4 511.3) rotate(340.7) scale(0.36)" text-anchor="end" y="3.5">PCUN.R</text>
<text transform="translate(676.4 501.1) rotate(345.9) scale(0.36)" text-anchor="end" y="3.5">SPC.R</text>
<text transform="translate(674.2 490.7) rotate(351) scale(0.36)" text-anchor="end" y="3.5">SMAR.R</text>
<text transform="translate(672.9 476.9) rotate(357.8) scale(0.36)" text-anchor="end" y="3.5">BSTS.L</text>
<text transform="translate(673 466.3) rotate(363) scale(0.36)" text-anchor="end" y="3.5">ENT.L</text>
<text transform="translate(674 455.7) rotate(368.2) scale(0.36)" text-anchor="end" y="3.5">FUSI.L</text>
<text transform="translate(676 445.3) rotate(373.3) scale(0.36)" text-anchor="end" y="3.5">ITG.L</text>
<text transform="translate(678.9 435.1) rotate(378.5) scale(0.36)" text-anchor="end" y="3.5">MTG.L</text>
<text transform="translate(682.7 425.2) rotate(383.7) scale(0.36)" text-anchor="end" y="3.5">PHG.L</text>
<text transform="translate(687.4 415.7) rotate(388.9) scale(0.36)" text-anchor="end" y="3.5">STG.L</text>
<text transform="translate(692.9 406.6) rotate(394) scale(0.36)" text-anchor="end" y="3.5">TP.L</text>
<text transform="translate(699.3 398.1) rotate(399.2) scale(0.36)" text-anchor="end" y="3.5">TTC.L</text>
<text transform="translate(706.3 390.2) rotate(404.4) scale(0.36)" text-anchor="end" y="3.5">BSTS.R</text>
<text transform="translate(714.1 383) rotate(409.6) scale(0.36)" text-anchor="end" y="3.5">ENT.R</text>
<text transform="translate(722.5 376.4) rotate(414.8) scale(0.36)" text-anchor="end" y="3.5">FUSI.R</text>
<text transform="translate(731.4 370.7) rotate(419.9) scale(0.36)" text-anchor="end" y="3.5">ITG.R</text>
<text transform="translate(740.8 365.8) rotate(425.1) scale(0.36)" text-anchor="end" y="3.5">MTG.R</text>
<text transform="translate(750.7 361.8) rotate(430.3) scale(0.36)" text-anchor="end" y="3.5">PHG.R</text>
<text transform="translate(760.8 358.7) rotate(435.5) scale(0.36)" text-anchor="end" y="3.5">STG.R</text>
<text transform="translate(771.2 356.5) rotate(440.6) scale(0.36)" text-anchor="end" y="3.5">TP.R</text>
<text transform="translate(781.7 355.2) rotate(445.8) scale(0.36)" text-anchor="end" y="3.5">TTC.R</text>
</g>
<g font-size="10" font-weight="bold" fill="#111" stroke="#111" stroke-width="0.5">
<text transform="translate(913.3 391.9) rotate(56.8) scale(0.5)" text-anchor="middle" y="3.5">FRONTAL</text>
<text transform="translate(916.8 547.4) rotate(300.7) scale(0.5)" text-anchor="middle" y="3.5">INS</text>
<text transform="translate(819.1 616.6) rotate(348.7) scale(0.5)" text-anchor="middle" y="3.5">OCCIPITAL</text>
<text transform="translate(665.2 549.6) rotate(418.3) scale(0.5)" text-anchor="middle" y="3.5">PARIETAL</text>
<text transform="translate(680.5 374.6) rotate(311.7) scale(0.5)" text-anchor="middle" y="3.5">TEMPORAL</text>
</g>
</g>
<line x1="260.4" y1="635.7" x2="291.3" y2="635.7" stroke="#f4593a" stroke-width="1.3"/>
<text x="309.3" y="641.7" font-size="17" fill="#111">ASD&gt;CON</text>
<line x1="557.3" y1="635.4" x2="588.2" y2="635.4" stroke="#5a9fd0" stroke-width="1.3"/>
<text x="606.8" y="641.4" font-size="17" fill="#111">ASD&lt;CON</text>
<text x="15.8" y="650.2" font-size="27.5" fill="#000">c</text>
<g filter="url(#soft)">
<path d="M40.9 717.1C40.7 710.2 39.9 713.6 41.6 706.7C43.4 699.8 42.4 702.8 46.1 696.4C49.8 690 47.6 693 52.7 687.5C57.9 682.1 55.2 684.5 61.6 680.2C68 675.8 64.5 677.7 71.9 674.5C79.3 671.3 75.9 672.9 83.7 670.6C91.6 668.2 88.2 669.1 95.5 667.6C102.9 666.1 100.5 666.1 105.9 666C111.3 665.8 107.9 667.5 111.8 667.2C115.7 666.9 113.3 665.3 117.7 665.1C122.1 664.9 120.7 664.6 125.1 666.6C129.5 668.5 126.6 668 131 671C135.4 673.9 133.7 671.9 138.4 675.4C143.1 679 140.6 677.6 145 681.6C149.5 685.7 147.5 683.1 151.7 687.5C155.9 692 154.1 689.5 157.6 694.9C161 700.3 159.5 697.9 162 703.8C164.5 709.7 163.7 707.2 165 712.6C166.2 718.1 166.1 715.1 165.7 720C165.3 724.9 165.5 722.9 163.8 727.4C162.1 731.9 164.1 731.4 160.5 733.6C157 735.8 157.6 734.6 153.1 734.1C148.7 733.5 151.2 733.6 147.2 731.8C143.3 730.1 144.8 730.4 141.3 728.9C137.9 727.4 140.3 726.4 136.9 727.4C133.5 728.4 135.4 728.9 131 731.8C126.6 734.8 129 733.3 123.6 736.3C118.2 739.2 120.2 737.7 114.7 740.7C109.3 743.7 112.3 742.2 107.4 745.1C102.4 748.1 104.9 747 100 749.6C95.1 752.1 97.5 751.7 92.6 752.8C87.7 753.9 89.6 753.8 85.2 752.8C80.8 751.8 82.5 752.4 79.3 749.9C76.1 747.3 76.7 748.6 75.6 745.1C74.5 741.7 77.3 741.4 76.1 739.5C74.8 737.6 75.8 739 71.9 739.5C68.1 740 69.5 740.8 64.5 741C59.6 741.2 62.1 741.2 57.2 740.1C52.2 739 53.7 740 49.8 737.7C45.8 735.5 47.8 736.8 45.3 733.3C42.9 729.9 43.9 732.8 42.4 727.4C40.9 722 41.2 724 40.9 717.1Z" fill="#c9d5de"/>
<g clip-path="url(#bc0)">
<path d="M39.4 718.5C38.9 712.6 38.9 713.1 40.9 705.3C42.9 697.4 41.6 701.3 45.3 694.9C49 688.5 46.8 691.5 52 686.1C57.2 680.6 54.2 683.1 60.8 678.7C67.5 674.2 64.3 676 71.9 672.8C79.5 669.6 75.9 671.3 83.7 669.1C91.6 666.9 88.2 667.6 95.5 666.1C102.9 664.6 100 664.8 105.9 664.6C111.8 664.5 111.4 663 113.3 665.7C115.1 668.4 114.5 667.5 111.5 672.8C108.5 678.1 107.8 675.7 104.4 681.6C101.1 687.5 103.6 685.1 101.5 690.5C99.3 695.9 99.9 692.5 97.9 697.9C95.9 703.3 96.6 701.2 95.5 706.7C94.5 712.2 95.5 710.4 94.7 714.4C93.9 718.5 96 716.2 93.2 718.8C90.3 721.5 89.1 723.4 86.1 722.4C83.1 721.4 84.7 721.5 84.3 715.9C83.9 710.3 86.6 710 84.9 705.6C83.2 701.1 82.8 704.5 79.3 702.6C75.8 700.7 76.7 703 74.3 699.9C71.8 696.9 74.2 696.9 71.9 693.4C69.7 690 71.9 689.6 67.5 689.6C63.1 689.6 64 690.6 58.6 693.4C53.2 696.3 55.1 694.1 51.2 698.2C47.4 702.2 49.5 699.5 47.1 705.6C44.7 711.6 45.7 710.5 44.2 716.3C42.6 722.1 44 722.2 42.4 723C40.8 723.7 39.9 724.5 39.4 718.5Z" fill="#d91b06"/>
<path d="M42.4 717.1C44.1 710 43.9 712 46.8 705.6C49.8 699.2 47.3 701.9 51.2 697.9C55.2 693.8 53.2 696.2 58.6 693.4C64 690.7 63 689.6 67.5 689.6C72 689.6 70 690.1 72.2 693.4C74.5 696.8 74.8 695.2 74.3 699.6C73.8 704.1 71.4 700.9 70.7 706.7C70 712.5 72.5 711.7 72.2 717.1C71.9 722.5 71.7 719.4 69.9 723C68 726.5 69.5 726.6 66.8 727.7C64 728.8 64.8 727.2 61.6 726.2C58.4 725.2 60.5 724.4 57.2 724.8C53.8 725.1 53.8 724.8 51.5 727.4C49.3 730 51.3 729.6 50.4 732.6C49.4 735.5 50.5 735.9 48.6 736.3C46.7 736.6 47 736.8 44.7 733.6C42.5 730.4 42.6 732.2 41.8 726.7C41 721.2 40.7 724.1 42.4 717.1Z" fill="#f3790f"/>
<path d="M70.1 689.8C70.7 687.3 70.6 687.9 73.7 686.1C76.7 684.2 75.5 685.5 79.3 684.3C83.1 683.1 81.7 682.8 85.2 682.4C88.8 682 87.8 681.9 89.9 683.1C92.1 684.3 91.7 683 91.7 686.1C91.7 689.1 92.1 689.3 89.9 692.3C87.8 695.2 87.2 692.5 85.2 694.9C83.2 697.4 86.4 697.3 84 699.6C81.7 702 81.5 702.1 78.1 702C74.8 701.9 76.1 702.2 74 699.4C71.9 696.5 73.2 696.6 71.9 693.4C70.6 690.2 69.6 692.2 70.1 689.8Z" fill="#e9480c"/>
<path d="M61.6 717.1C63.4 714.2 63.6 714.7 66.8 712.9C70 711.2 68.9 710.5 71.2 711.9C73.5 713.3 73.6 713.3 73.7 717.1C73.7 720.9 73.5 719.6 71.3 723.3C69.2 726.9 69.9 727.3 67.2 728C64.5 728.7 65.3 727.5 63.4 725.3C61.4 723.2 61.9 724.3 61.3 721.5C60.7 718.7 59.8 719.9 61.6 717.1Z" fill="#e9480c"/>
<path d="M46.5 735.1C48.3 733 47.7 732.7 52.7 732.3C57.7 731.9 56.3 734.1 61.6 733.9C66.9 733.8 65.4 736.5 68.7 731.8C71.9 727.2 69.1 722 71.3 720C73.6 718.1 73 721.5 75.5 725.9C77.9 730.4 78.2 728.6 78.7 733.3C79.2 738 81.7 737.4 76.9 740.1C72.2 742.9 72.6 741.6 64.5 741.6C56.5 741.6 58.4 741.1 52.7 740.1C47 739.1 49.5 740.2 47.4 738.5C45.3 736.8 44.7 737.2 46.5 735.1Z" fill="#ffd800"/>
<path d="M105.6 698.2C107.6 692.9 107.3 694.6 111.8 690.8C116.3 686.9 113.8 687.8 119.2 686.6C124.6 685.5 124 684.5 128 687.2C132.1 690 130.5 689.9 131.3 694.9C132.1 699.9 130.9 697.8 130.4 702.3C129.9 706.8 132.1 706.7 129.8 708.5C127.5 710.3 127.6 707.1 123.6 707.6C119.6 708.1 122.1 709.2 117.7 710C113.3 710.8 114.3 711.1 110.3 710C106.4 708.9 107.5 710.7 105.9 706.7C104.3 702.8 103.6 703.5 105.6 698.2Z" fill="#ffd800"/>
<path d="M129.5 689.6C131.5 685.4 132.4 687.4 136.9 686.6C141.4 685.9 139.6 685 143.1 687.2C146.6 689.5 144.6 688.4 147.5 693.4C150.5 698.5 149.5 696.3 152 702.3C154.4 708.3 154.9 707.1 154.9 711.5C154.9 715.8 154.9 715.1 152 715.3C149 715.5 149.6 712.9 146.1 712.1C142.5 711.2 144.4 711.4 141.3 712.6C138.3 713.9 139.8 715.3 136.9 715.9C134 716.5 135.1 716.9 132.8 714.4C130.4 712 130.4 713.5 129.8 708.5C129.2 703.5 131.1 705.7 131 699.4C130.9 693 127.5 693.8 129.5 689.6Z" fill="#e9480c"/>
<path d="M76.8 744.4C76.7 739.9 76.2 740.7 79 735.1C81.8 729.4 80.2 731.9 85.2 727.4C90.2 722.9 87.7 725.4 94.1 721.5C100.5 717.6 97.5 719.2 104.4 715.6C111.3 712 108.3 713.2 114.7 710.6C121.1 707.9 118.6 708.1 123.6 707.6C128.6 707.1 125.3 706.6 129.8 709.1C134.3 711.6 135.2 710.8 137.2 715C139.2 719.2 138.3 718.1 135.7 721.8C133.2 725.5 134.5 723.3 129.5 726.2C124.5 729.2 126.6 727.7 120.7 730.7C114.7 733.6 117.2 732.1 111.8 735.1C106.4 738 108.8 736.6 104.4 739.5C100 742.5 102.4 741.5 98.5 743.9C94.6 746.4 97 745.3 92.6 746.9C88.2 748.5 89.6 748.1 85.2 748.7C80.8 749.3 82.1 750.1 79.3 748.7C76.5 747.2 76.9 748.9 76.8 744.4Z" fill="#d91b06"/>
<path d="M114.7 717.1C117.3 713.9 117.7 714.8 123.6 712.9C129.5 711.1 127.9 710.7 132.5 711.5C137 712.2 136.2 712.4 137.2 715.3C138.2 718.2 138.5 717.9 135.4 720C132.4 722.2 133 720.8 128 721.8C123.1 722.8 124.7 722.8 120.7 723C116.6 723.2 117.9 724.4 115.9 722.4C114 720.4 112.2 720.2 114.7 717.1Z" fill="#e9480c"/>
<g filter="url(#soft2)">
<path d="M79.3 740.7C82.3 737.7 81.3 737.3 88.2 731.8C95.1 726.4 91.6 728.9 100 724.5C108.3 720 104.4 722 113.3 718.5C122.1 715.1 118.7 715.3 126.6 714.1C134.4 712.9 133.5 714.7 136.9 715" fill="none" stroke="#9a1003" stroke-width="2.6" stroke-opacity="0.3825" stroke-linecap="round"/>
<path d="M83.7 746.6C88.2 744.6 87.7 745.6 97 740.7C106.4 735.8 101.9 737.3 111.8 731.8C121.6 726.4 118.7 727.9 126.6 724.5C134.4 721 132.5 722.5 135.4 721.5" fill="none" stroke="#9a1003" stroke-width="2" stroke-opacity="0.2975" stroke-linecap="round"/>
<path d="M52.7 694.9C56.7 692.5 55.7 692.5 64.5 687.5C73.4 682.6 68.5 684.8 79.3 680.2C90.1 675.5 91.1 675.7 97 673.5" fill="none" stroke="#9a1003" stroke-width="2.8" stroke-opacity="0.34" stroke-linecap="round"/>
<path d="M91.1 686.1C90.1 689.5 89.9 689 88.2 696.4C86.4 703.8 86.7 704.3 85.9 708.2" fill="none" stroke="#9a1003" stroke-width="2.4" stroke-opacity="0.3825" stroke-linecap="round"/>
<path d="M94.7 715.6C95.5 711.2 95 711.2 97.3 702.3C99.7 693.4 97.7 698.4 101.8 689C105.8 679.7 106.9 679.2 109.4 674.2" fill="none" stroke="#8b9caa" stroke-width="2.4" stroke-opacity="0.425" stroke-linecap="round"/>
<path d="M117.7 665.7C117.7 669 115.7 669.4 117.7 675.7C119.7 682 121.6 681.6 123.6 684.6" fill="none" stroke="#8b9caa" stroke-width="2" stroke-opacity="0.4675" stroke-linecap="round"/>
<path d="M131 671.3C133 674.2 134.4 675.2 136.9 680.2C139.4 685.1 137.9 684.1 138.4 686.1" fill="none" stroke="#8b9caa" stroke-width="2" stroke-opacity="0.4675" stroke-linecap="round"/>
<path d="M144.3 682.4L147.2 692" fill="none" stroke="#8b9caa" stroke-width="2" stroke-opacity="0.4675" stroke-linecap="round"/>
<path d="M136.9 727.4C139.4 724.9 138.9 723.5 144.3 720C149.7 716.6 148.7 716.6 153.1 717.1C157.6 717.6 156.1 720 157.6 721.5" fill="none" stroke="#8b9caa" stroke-width="2.4" stroke-opacity="0.4675" stroke-linecap="round"/>
<path d="M141.3 728.9C144.3 727.4 143.8 724.9 150.2 724.5C156.6 724 157.1 726.4 160.5 727.4" fill="none" stroke="#8b9caa" stroke-width="2" stroke-opacity="0.4675" stroke-linecap="round"/>
<path d="M79.3 749.9C84.2 749.9 84.2 752.1 94.1 749.9C103.9 747.6 99 748.1 108.8 743.2C118.7 738.3 114.3 740.3 123.6 735.1C133 729.9 132.5 730.2 136.9 727.7" fill="none" stroke="#8b9caa" stroke-width="2" stroke-opacity="0.4675" stroke-linecap="round"/>
<path d="M54.2 723C57.2 724.9 57.6 727.4 63.1 728.9C68.5 730.4 68 727.9 70.4 727.4" fill="none" stroke="#8b9caa" stroke-width="1.8" stroke-opacity="0.4675" stroke-linecap="round"/>
<path d="M73.7 706.7C75.6 705.8 75.7 704.5 79.3 704.1C82.9 703.7 82.8 705.1 84.6 705.6" fill="none" stroke="#8b9caa" stroke-width="1.8" stroke-opacity="0.4675" stroke-linecap="round"/>
<path d="M48.3 720C50.3 718.1 50.3 715.6 54.2 714.1C58.1 712.6 56.7 717.1 60.1 715.6C63.6 714.1 63.1 711.7 64.5 709.7" fill="none" stroke="#b85a08" stroke-width="2" stroke-opacity="0.425" stroke-linecap="round"/>
<path d="M49.8 706.7C52.2 705.3 52.7 702.8 57.2 702.3C61.6 701.8 59.1 706.2 63.1 705.3C67 704.3 67 701.3 69 699.4" fill="none" stroke="#b85a08" stroke-width="2" stroke-opacity="0.425" stroke-linecap="round"/>
</g>
<rect x="38.9" y="663.1" width="128.8" height="91.7" fill="url(#bshade)"/>
</g>
<path d="M40.9 717.1C40.7 710.2 39.9 713.6 41.6 706.7C43.4 699.8 42.4 702.8 46.1 696.4C49.8 690 47.6 693 52.7 687.5C57.9 682.1 55.2 684.5 61.6 680.2C68 675.8 64.5 677.7 71.9 674.5C79.3 671.3 75.9 672.9 83.7 670.6C91.6 668.2 88.2 669.1 95.5 667.6C102.9 666.1 100.5 666.1 105.9 666C111.3 665.8 107.9 667.5 111.8 667.2C115.7 666.9 113.3 665.3 117.7 665.1C122.1 664.9 120.7 664.6 125.1 666.6C129.5 668.5 126.6 668 131 671C135.4 673.9 133.7 671.9 138.4 675.4C143.1 679 140.6 677.6 145 681.6C149.5 685.7 147.5 683.1 151.7 687.5C155.9 692 154.1 689.5 157.6 694.9C161 700.3 159.5 697.9 162 703.8C164.5 709.7 163.7 707.2 165 712.6C166.2 718.1 166.1 715.1 165.7 720C165.3 724.9 165.5 722.9 163.8 727.4C162.1 731.9 164.1 731.4 160.5 733.6C157 735.8 157.6 734.6 153.1 734.1C148.7 733.5 151.2 733.6 147.2 731.8C143.3 730.1 144.8 730.4 141.3 728.9C137.9 727.4 140.3 726.4 136.9 727.4C133.5 728.4 135.4 728.9 131 731.8C126.6 734.8 129 733.3 123.6 736.3C118.2 739.2 120.2 737.7 114.7 740.7C109.3 743.7 112.3 742.2 107.4 745.1C102.4 748.1 104.9 747 100 749.6C95.1 752.1 97.5 751.7 92.6 752.8C87.7 753.9 89.6 753.8 85.2 752.8C80.8 751.8 82.5 752.4 79.3 749.9C76.1 747.3 76.7 748.6 75.6 745.1C74.5 741.7 77.3 741.4 76.1 739.5C74.8 737.6 75.8 739 71.9 739.5C68.1 740 69.5 740.8 64.5 741C59.6 741.2 62.1 741.2 57.2 740.1C52.2 739 53.7 740 49.8 737.7C45.8 735.5 47.8 736.8 45.3 733.3C42.9 729.9 43.9 732.8 42.4 727.4C40.9 722 41.2 724 40.9 717.1Z" fill="none" stroke="#7d8d9b" stroke-opacity="0.35" stroke-width="0.8"/>
</g>
<g filter="url(#soft)">
<path d="M176.6 717.1C176.6 712.1 176.2 714.6 178.9 709.7C181.6 704.8 182.3 707.2 184.8 702.3C187.2 697.4 183.3 699.8 186.2 694.9C189.2 690 189.7 692.5 193.6 687.5C197.6 682.6 194.6 684.6 198.1 680.2C201.5 675.7 199 677.2 204 674.2C208.9 671.3 207.4 674.2 212.8 671.3C218.2 668.3 214.8 667.6 220.2 665.4C225.6 663.1 223.7 664.3 229.1 664.5C234.5 664.7 231.5 664.7 236.5 666C241.4 667.3 238.4 667.1 243.8 668.3C249.3 669.6 246.8 668.3 252.7 669.8C258.6 671.3 255.7 670.3 261.6 672.8C267.5 675.2 264.5 673.8 270.4 677.2C276.3 680.6 273.9 678.7 279.3 683.1C284.7 687.5 282.2 685.1 286.7 690.5C291.1 695.9 289.1 693.4 292.6 699.4C296 705.3 294.7 702.3 297 708.2C299.3 714.1 298.8 711.7 299.4 717.1C300 722.5 300 719.5 298.8 724.5C297.6 729.4 298.3 727.8 295.8 731.8C293.4 735.9 295.9 734.3 291.4 736.6C286.9 738.9 288.2 737.5 282.2 738.8C276.2 740 278.7 740 273.4 740.3C268.1 740.5 268.7 737.4 266.3 739.5C263.8 741.6 267.6 742.7 266 746.6C264.4 750.5 265 749.3 261.6 751.3C258.1 753.4 259.6 751.6 255.7 752.8C251.7 754 254.2 755.4 249.7 754.9C245.3 754.4 247.3 754 242.4 751.3C237.4 748.7 239.9 749.9 235 746.9C230.1 743.9 233 745.4 227.6 742.5C222.2 739.5 224.6 740.5 218.7 738C212.8 735.6 215.3 736.3 209.9 735.1C204.5 733.9 207.4 735.3 202.5 734.4C197.6 733.4 200.5 733.9 195.1 732.1C189.7 730.4 191.7 731.6 186.2 729.2C180.8 726.7 182.1 728.8 178.9 724.8C175.7 720.7 176.6 722.1 176.6 717.1Z" fill="#c9d5de"/>
<g clip-path="url(#bc1)">
<path d="M228.8 708.9C229.8 707.9 231.4 708.4 236.5 709.7C241.5 711 239.4 712.2 243.8 712.9C248.3 713.7 244.8 714 249.7 711.9C254.7 709.8 253.2 707 258.6 706.7C264 706.5 261.1 706.7 266 711.2C270.9 715.6 268 714.6 273.4 720C278.8 725.4 276.3 724 282.2 727.4C288.1 730.9 287.1 728.3 291.1 730.4C295.1 732.4 296.3 732 294.3 733.6C292.4 735.2 292.2 735.6 285.2 735.1C278.2 734.6 279.8 734.6 273.4 732.1C267 729.7 269.4 727.7 266 727.7C262.5 727.7 265.5 731.6 263 732.1C260.6 732.6 262.1 732.6 258.6 729.2C255.2 725.7 257.6 725.7 252.7 721.8C247.8 717.9 250.2 720.3 243.8 717.4C237.4 714.4 238.5 715.7 233.5 712.9C228.5 710.1 227.8 710 228.8 708.9Z" fill="#e9480c"/>
<path d="M221.1 664.8C223.1 661.7 224.4 662.9 229.1 666.6C233.7 670.2 231 669.7 235 675.7C238.9 681.7 237.9 678.2 240.9 684.6C243.8 691 241.9 688 243.8 694.9C245.8 701.8 244.7 699.7 246.8 705.3C248.9 710.8 251 708.9 250 711.5C249.1 714 247.9 713.9 243.8 712.9C239.8 712 240.9 712.1 237.9 708.5C235 705 235.4 706.3 235 702.3C234.6 698.3 237.7 700.3 236.8 696.4C235.8 692.5 235.6 694.4 232 690.5C228.5 686.6 229.1 689.5 226.1 684.6C223.2 679.7 224.8 682.3 223.2 675.7C221.5 669.1 219.1 667.8 221.1 664.8Z" fill="#f3790f"/>
<path d="M228.8 665.4C230.3 662.5 234.3 665.2 239.4 667.2C244.5 669.1 241.6 667 244.1 671.3C246.7 675.6 244.2 674.7 247.1 680.2C249.9 685.6 249.4 682.1 252.7 687.5C256 693 255.1 690.5 257.1 696.4C259.2 702.3 257.3 699.4 258.9 705.3C260.5 711.2 259.9 708.7 261.9 714.1C263.8 719.5 264.8 716.5 264.8 721.5C264.8 726.5 263.9 727.1 261.9 729.2C259.8 731.2 261.2 730.7 258.6 727.7C256 724.8 257.1 725.2 254.2 720.3C251.2 715.4 252.2 718 249.7 712.9C247.3 707.9 248.8 711.3 246.8 705.3C244.8 699.3 245.8 701.8 243.8 694.9C241.9 688 243.8 691 240.9 684.6C237.9 678.2 239 682.1 235 675.7C230.9 669.3 227.3 668.2 228.8 665.4Z" fill="#e9480c"/>
<path d="M249.7 684.9C251.2 681.3 250.7 680.3 255.7 678.7C260.6 677.1 259.1 677.2 264.5 680.2C269.9 683.1 267.9 682.6 271.9 687.5C275.9 692.5 271.7 692 276.6 694.9C281.5 697.9 281.3 693.4 286.7 696.4C292.1 699.4 289.3 698.4 292.9 703.8C296.4 709.2 294.9 707.2 297.3 712.6C299.7 718.1 300.3 713.5 300 720C299.7 726.5 300.4 728.6 296.4 732.1C292.5 735.7 292.9 732.6 288.1 730.7C283.4 728.7 285.2 729.7 282.2 726.2C279.3 722.8 282.2 724.3 279.3 720.3C276.3 716.4 277.3 718.4 273.4 714.4C269.4 710.5 271.4 711 267.5 708.5C263.5 706 264.5 709.1 261.6 707C258.6 705 260.6 706.8 258.6 702.3C256.6 697.8 258.1 697.8 255.7 693.4C253.2 689.1 253.2 692.2 251.2 689.3C249.3 686.5 248.3 688.4 249.7 684.9Z" fill="#d91b06"/>
<path d="M265.7 711.5C267.2 708.4 267.9 706.8 271.9 708.2C275.9 709.6 274.8 711.1 277.8 715.6C280.9 720.1 281.4 718.3 281.1 721.8C280.7 725.3 279.7 725.7 276.6 726.2C273.6 726.7 275 726.2 271.9 723.3C268.8 720.3 269.5 721.3 267.5 717.4C265.4 713.4 264.2 714.5 265.7 711.5Z" fill="#f3790f"/>
<path d="M261.3 732.1C261.7 728.1 263.8 732 266.9 728C269.9 724 269.6 719.6 270.4 720C271.2 720.4 268.3 725.1 269.2 729.2C270.2 733.2 269 730.9 273.4 732.1C277.7 733.4 276.3 732.9 282.2 732.9C288.1 732.9 286.4 731.5 291.1 732.1C295.8 732.8 296.3 732.7 296.4 734.8C296.5 736.9 296.1 736.8 291.4 738.3C286.7 739.9 288.2 738.7 282.2 739.5C276.2 740.3 278.9 740.5 273.4 740.7C267.9 740.9 269.7 743 265.7 740.1C261.7 737.3 260.9 736.2 261.3 732.1Z" fill="#ffd800"/>
<path d="M199.5 732.1C201 730.7 201.8 729.4 205.4 730.4C209.1 731.3 210.5 733.1 210.5 735.1C210.5 737.1 208.6 736.4 205.4 736.3C202.3 736.2 203 736.2 201 734.8C199 733.4 198.1 733.6 199.5 732.1Z" fill="#ffd800"/>
<g filter="url(#soft2)">
<path d="M186.2 694.9C190.2 696.9 191.7 694.4 198.1 700.8C204.5 707.2 202.5 706.7 205.4 714.1C208.4 721.5 206.4 720 206.9 723" fill="none" stroke="#8b9caa" stroke-width="2.4" stroke-opacity="0.4675" stroke-linecap="round"/>
<path d="M193.6 687.5C198.1 689 200 687 206.9 692C213.8 696.9 210.4 693.9 214.3 702.3C218.2 710.7 217.3 712.1 218.7 717.1" fill="none" stroke="#8b9caa" stroke-width="2.4" stroke-opacity="0.4675" stroke-linecap="round"/>
<path d="M204 674.2C206.9 677.2 207.4 678.7 212.8 683.1C218.2 687.5 213.8 684.8 220.2 687.5C226.6 690.2 228.1 690 232 691.2" fill="none" stroke="#8b9caa" stroke-width="2.2" stroke-opacity="0.4675" stroke-linecap="round"/>
<path d="M212.8 671.3C214.8 673.8 215.3 677 218.7 678.7C222.2 680.4 221.7 677.2 223.2 676.5" fill="none" stroke="#8b9caa" stroke-width="2" stroke-opacity="0.4675" stroke-linecap="round"/>
<path d="M178.9 709.7C182.8 710.2 182.8 707.7 190.7 711.2C198.6 714.6 197.1 714.6 202.5 720C207.9 725.4 205.4 724.9 206.9 727.4" fill="none" stroke="#8b9caa" stroke-width="2.2" stroke-opacity="0.4675" stroke-linecap="round"/>
<path d="M184.8 702.3C188.2 703.3 188.7 700.8 195.1 705.3C201.5 709.7 201 712.1 204 715.6" fill="none" stroke="#8b9caa" stroke-width="2" stroke-opacity="0.4675" stroke-linecap="round"/>
<path d="M206.9 723C210.9 722 210.4 720 218.7 720C227.1 720 222.7 720 232 723C241.4 725.9 237.9 724.5 246.8 728.9C255.7 733.3 252.2 730.4 258.6 736.3C265 742.2 263.5 743.2 266 746.6" fill="none" stroke="#8b9caa" stroke-width="2.6" stroke-opacity="0.4675" stroke-linecap="round"/>
<path d="M206.9 728.9C211.4 728.9 210.9 726.4 220.2 728.9C229.6 731.3 225.1 730.9 235 736.3C244.8 741.7 240.9 740.2 249.7 745.1C258.6 750.1 257.6 749.1 261.6 751" fill="none" stroke="#8b9caa" stroke-width="2.2" stroke-opacity="0.4675" stroke-linecap="round"/>
<path d="M178.9 724.5C183.3 724 183.3 723.5 192.2 723C201 722.5 201 723 205.4 723" fill="none" stroke="#8b9caa" stroke-width="2" stroke-opacity="0.4675" stroke-linecap="round"/>
<path d="M218.7 717.1C220.2 712.1 219.7 709.7 223.2 702.3C226.6 694.9 225.1 694.9 229.1 694.9C233 694.9 235 697.6 235 702.3C235 707 231 706.7 229.1 708.9" fill="none" stroke="#8b9caa" stroke-width="2.6" stroke-opacity="0.4675" stroke-linecap="round"/>
<path d="M243.8 668.3C246.8 670.8 245.8 671.8 252.7 675.7C259.6 679.7 260.6 678.7 264.5 680.2" fill="none" stroke="#8b9caa" stroke-width="2" stroke-opacity="0.4675" stroke-linecap="round"/>
<path d="M261.6 672.8C265.5 676.2 267.5 676.2 273.4 683.1C279.3 690 274.4 688.9 279.3 693.4C284.2 698 285.2 695.6 288.1 696.7" fill="none" stroke="#8b9caa" stroke-width="2" stroke-opacity="0.4675" stroke-linecap="round"/>
<path d="M258.6 702.3C260.6 699.8 259.6 694.9 264.5 694.9C269.4 694.9 267.5 698.4 273.4 702.3C279.3 706.2 277.3 701.8 282.2 706.7C287.2 711.7 286.2 713.6 288.1 717.1" fill="none" stroke="#9a1003" stroke-width="2.2" stroke-opacity="0.34" stroke-linecap="round"/>
<path d="M273.4 714.4C276.3 715.3 276.3 713.7 282.2 717.1C288.1 720.4 288.1 722 291.1 724.5" fill="none" stroke="#9a1003" stroke-width="2" stroke-opacity="0.34" stroke-linecap="round"/>
<path d="M237.9 677.2C239.9 680.6 239.9 679.2 243.8 687.5C247.8 695.9 246.8 693.4 249.7 702.3C252.7 711.2 251.7 710.2 252.7 714.1" fill="none" stroke="#a52a04" stroke-width="2.2" stroke-opacity="0.34" stroke-linecap="round"/>
</g>
<rect x="174.6" y="662.5" width="126.7" height="94.4" fill="url(#bshade)"/>
</g>
<path d="M176.6 717.1C176.6 712.1 176.2 714.6 178.9 709.7C181.6 704.8 182.3 707.2 184.8 702.3C187.2 697.4 183.3 699.8 186.2 694.9C189.2 690 189.7 692.5 193.6 687.5C197.6 682.6 194.6 684.6 198.1 680.2C201.5 675.7 199 677.2 204 674.2C208.9 671.3 207.4 674.2 212.8 671.3C218.2 668.3 214.8 667.6 220.2 665.4C225.6 663.1 223.7 664.3 229.1 664.5C234.5 664.7 231.5 664.7 236.5 666C241.4 667.3 238.4 667.1 243.8 668.3C249.3 669.6 246.8 668.3 252.7 669.8C258.6 671.3 255.7 670.3 261.6 672.8C267.5 675.2 264.5 673.8 270.4 677.2C276.3 680.6 273.9 678.7 279.3 683.1C284.7 687.5 282.2 685.1 286.7 690.5C291.1 695.9 289.1 693.4 292.6 699.4C296 705.3 294.7 702.3 297 708.2C299.3 714.1 298.8 711.7 299.4 717.1C300 722.5 300 719.5 298.8 724.5C297.6 729.4 298.3 727.8 295.8 731.8C293.4 735.9 295.9 734.3 291.4 736.6C286.9 738.9 288.2 737.5 282.2 738.8C276.2 740 278.7 740 273.4 740.3C268.1 740.5 268.7 737.4 266.3 739.5C263.8 741.6 267.6 742.7 266 746.6C264.4 750.5 265 749.3 261.6 751.3C258.1 753.4 259.6 751.6 255.7 752.8C251.7 754 254.2 755.4 249.7 754.9C245.3 754.4 247.3 754 242.4 751.3C237.4 748.7 239.9 749.9 235 746.9C230.1 743.9 233 745.4 227.6 742.5C222.2 739.5 224.6 740.5 218.7 738C212.8 735.6 215.3 736.3 209.9 735.1C204.5 733.9 207.4 735.3 202.5 734.4C197.6 733.4 200.5 733.9 195.1 732.1C189.7 730.4 191.7 731.6 186.2 729.2C180.8 726.7 182.1 728.8 178.9 724.8C175.7 720.7 176.6 722.1 176.6 717.1Z" fill="none" stroke="#7d8d9b" stroke-opacity="0.35" stroke-width="0.8"/>
</g>
<g filter="url(#soft)">
<path d="M41.6 820C42.1 815 41.2 817.6 43.9 811.2C46.6 804.8 46.3 807.2 49.8 800.8C53.2 794.4 49.8 797.9 54.2 792C58.6 786.1 58.1 789 63.1 783.1C68 777.2 64 779.2 69 774.2C73.9 769.3 71.9 771.5 77.8 768.3C83.7 765.1 80.3 765.9 86.7 764.6C93.1 763.4 90.6 763.6 97 764.5C103.4 765.4 100 766.3 105.9 767.5C111.8 768.6 107.9 766.9 114.7 768C121.6 769.2 118.7 768 126.6 771C134.4 773.9 131 772.5 138.4 776.9C145.8 781.3 142.7 778.9 148.7 784.3C154.7 789.7 151.9 786.7 156.4 793.1C160.9 799.5 159.3 796.6 162.3 803.5C165.3 810.4 164.3 807.8 165.3 813.8C166.2 819.8 166.7 817 165.3 821.5C163.8 826 162.8 823 160.8 827.4C158.9 831.8 162.4 831 159.3 834.8C156.3 838.6 157.7 837.2 151.7 838.8C145.7 840.4 147.7 839.5 141.3 839.5C134.9 839.5 136.4 837.8 132.5 838.8C128.5 839.8 131 839.3 129.5 842.5C128 845.7 130.5 845.4 128 848.4C125.6 851.3 127.1 849.9 122.1 851.3C117.2 852.8 118.7 853.3 113.3 852.8C107.9 852.3 110.8 852.3 105.9 849.9C101 847.4 103.4 848.4 98.5 845.4C93.6 842.5 96.5 843.5 91.1 841C85.7 838.5 88.2 840 82.3 838C76.4 836.1 79.3 837.1 73.4 835.1C67.5 833.1 70.4 833.6 64.5 832.1C58.6 830.7 61.6 831.6 55.7 830.7C49.8 829.7 51.2 830.7 46.8 829.2C42.4 827.7 44.1 829.3 42.4 826.2C40.7 823.2 41.2 825 41.6 820Z" fill="#c9d5de"/>
<g clip-path="url(#bc2)">
<path d="M105 766.6C108 764.1 107.6 765.8 114.7 766.9C121.9 767.9 118.7 766.9 126.6 769.8C134.4 772.8 130.7 771.2 138.4 775.7C146 780.3 143.2 777.9 149.5 783.4C155.8 788.9 152.7 785.8 157.3 792.3C161.9 798.8 160.1 795.7 163.2 802.9C166.2 810.1 165.6 808.2 166.4 813.8C167.2 819.4 169 818.1 165.5 819.7C162.1 821.4 161.7 819.9 156.1 818.8C150.5 817.8 152.7 819.4 148.7 816.5C144.8 813.5 147.2 813.2 144.3 810C141.3 806.7 142.8 809.8 139.9 806.7C136.9 803.7 138.9 804.2 135.4 800.8C132 797.5 133.9 799.5 129.5 796.7C125.1 793.8 127.1 794.7 122.1 792.3C117.2 789.8 119.7 791.1 114.7 789.3C109.8 787.5 110.8 789.5 107.4 786.9C103.9 784.4 104.9 785.9 104.4 781.6C103.9 777.4 105.7 779.3 105.9 774.2C106.1 769.2 102 769 105 766.6Z" fill="#d91b06"/>
<path d="M90.8 768.3C91.6 766.5 93.7 765.4 97 764.5C100.4 763.6 101.7 763.8 100.9 765.7C100.1 767.5 98 769.2 94.7 770.1C91.3 771 90 770.2 90.8 768.3Z" fill="#d91b06"/>
<path d="M139.6 806.4C141 805.4 141.4 806.3 144.6 809.7C147.7 813 148 812.4 149 816.5C150 820.5 150.1 819 147.5 821.8C145 824.6 146.4 823.3 141.3 824.8C136.3 826.2 138.5 825.4 132.5 826.2C126.5 827 124.3 828.1 123.3 827.1C122.3 826.1 125 826 129.5 823.3C134 820.5 133.4 822.3 136.9 818.8C140.4 815.4 139.3 817.1 140.1 812.9C141 808.8 138.1 807.5 139.6 806.4Z" fill="#e9480c"/>
<path d="M120.4 829.2C120.4 826.2 120.6 827.7 126.6 826.2C132.6 824.8 131.5 826.2 138.4 824.8C145.3 823.3 142.2 823.7 147.2 821.8C152.3 819.9 148.9 819.7 153.4 819.1C158 818.5 158.1 817.3 160.8 820C163.6 822.8 162 822.3 161.7 827.4C161.4 832.5 163.3 831.4 159.9 835.4C156.6 839.3 157.9 837.7 151.7 839.2C145.5 840.7 147.7 840 141.3 840C134.9 840 137.4 840.8 132.5 839.2C127.5 837.6 130.6 838.4 126.6 835.1C122.5 831.7 120.4 832.1 120.4 829.2Z" fill="#f3790f"/>
<path d="M118.9 833.3C120.1 832 120.1 831.6 123.6 832.6C127.2 833.6 128.9 834.3 129.5 836.3C130.1 838.3 128.5 838.5 125.4 838.6C122.2 838.7 122.2 838.3 120.1 836.6C117.9 834.8 117.7 834.6 118.9 833.3Z" fill="#ffd800"/>
<path d="M77.5 801.1C79.5 797 78.2 798.1 82.3 795.8C86.3 793.5 86.1 793.5 89.6 794.2C93.2 794.9 93.8 795.6 92.9 797.9C92 800.2 90 798.2 87 801.1C83.9 804.1 84.3 802.4 83.7 806.7C83.1 811.1 83.9 809.1 85.2 814.1C86.5 819.1 88.6 819.2 87.6 821.8C86.6 824.4 85.5 823.8 82.3 821.8C79 819.8 79.8 820.4 77.8 815.9C75.9 811.4 76.4 813.1 76.4 808.2C76.3 803.3 75.6 805.3 77.5 801.1Z" fill="#d91b06"/>
<path d="M85.2 806.7C87.2 801.9 86.2 803 94.1 799.6C101.9 796.3 99 796.7 108.8 796.7C118.7 796.7 114.3 795.7 123.6 799.6C133 803.6 132 802.7 136.9 808.5C141.8 814.3 140.3 812.6 138.4 817.1C136.4 821.5 135.9 820.8 131 821.8C126.1 822.8 128 822.6 123.6 820C119.2 817.5 122.6 817.6 117.7 814.1C112.8 810.7 114.7 810.7 108.8 809.7C102.9 808.7 104.9 808.7 100 811.2C95.1 813.6 98 816.1 94.1 817.1C90.1 818.1 91.1 817.6 88.2 814.1C85.2 810.7 83.2 811.6 85.2 806.7Z" fill="#dbe4eb"/>
<g filter="url(#soft2)">
<path d="M85.2 806.7C88.2 804.4 86.2 803 94.1 799.6C101.9 796.3 99 796.7 108.8 796.7C118.7 796.7 114.3 795.7 123.6 799.6C133 803.6 131.9 802.7 136.9 808.5C141.9 814.3 140.6 812.5 138.7 817.1C136.7 821.6 133.6 820.4 131 822.1" fill="none" stroke="#8b9caa" stroke-width="2.8" stroke-opacity="0.4675" stroke-linecap="round"/>
<path d="M92.9 797.9C97.2 795.9 96.6 793.6 105.9 792C115.1 790.3 110.8 789.8 120.7 792.9C130.5 795.9 130.5 798.4 135.4 801.1" fill="none" stroke="#8b9caa" stroke-width="2.4" stroke-opacity="0.4675" stroke-linecap="round"/>
<path d="M88.2 821.8C91.1 823.7 91.6 822.1 97 827.4C102.4 832.7 98.5 833.3 104.4 837.7C110.3 842.2 108.3 841.7 114.7 840.7C121.1 839.7 120.7 836.8 123.6 834.8" fill="none" stroke="#8b9caa" stroke-width="2.4" stroke-opacity="0.4675" stroke-linecap="round"/>
<path d="M94.1 817.1C96 819 94.1 819.5 100 823C105.9 826.4 104.9 825.4 111.8 827.4C118.7 829.4 117.7 828.4 120.7 828.9" fill="none" stroke="#8b9caa" stroke-width="2" stroke-opacity="0.4675" stroke-linecap="round"/>
<path d="M69 774.2C70.9 777.7 71.9 775.7 74.9 784.6C77.8 793.4 76.8 795.4 77.8 800.8" fill="none" stroke="#8b9caa" stroke-width="2.2" stroke-opacity="0.4675" stroke-linecap="round"/>
<path d="M54.2 792C57.6 793.4 57.2 791 64.5 796.4C71.9 801.8 72.4 804.3 76.4 808.2" fill="none" stroke="#8b9caa" stroke-width="2.2" stroke-opacity="0.4675" stroke-linecap="round"/>
<path d="M43.9 811.2C48.3 810.7 48.3 808.7 57.2 809.7C66 810.7 62.1 810.1 70.4 814.1C78.8 818.2 78.3 819.2 82.3 821.8" fill="none" stroke="#8b9caa" stroke-width="2.2" stroke-opacity="0.4675" stroke-linecap="round"/>
<path d="M46.8 829.2C51.7 827.1 50.8 823.6 61.6 823C72.4 822.4 68.5 822.5 79.3 827.4C90.1 832.3 85.2 831.3 94.1 837.7C102.9 844.1 101.9 843.7 105.9 846.6" fill="none" stroke="#8b9caa" stroke-width="2.2" stroke-opacity="0.4675" stroke-linecap="round"/>
<path d="M49.8 800.8C53.7 801.3 54.2 800.3 61.6 802.3C69 804.3 68.5 805.3 71.9 806.7" fill="none" stroke="#8b9caa" stroke-width="2" stroke-opacity="0.4675" stroke-linecap="round"/>
<path d="M86.7 764.6C87.2 768.3 83.7 770.1 88.2 775.7C92.6 781.4 94.6 779.7 100 781.6C105.4 783.6 102.9 781.6 104.4 781.6" fill="none" stroke="#8b9caa" stroke-width="2" stroke-opacity="0.4675" stroke-linecap="round"/>
<path d="M111.8 772.8C116.7 774.2 116.7 772.3 126.6 777.2C136.4 782.1 133 779.7 141.3 787.5C149.7 795.4 146.3 792 151.7 800.8C157.1 809.7 155.6 809.7 157.6 814.1" fill="none" stroke="#9a1003" stroke-width="2.4" stroke-opacity="0.2975" stroke-linecap="round"/>
</g>
<rect x="39.6" y="762.5" width="127.6" height="92.3" fill="url(#bshade)"/>
</g>
<path d="M41.6 820C42.1 815 41.2 817.6 43.9 811.2C46.6 804.8 46.3 807.2 49.8 800.8C53.2 794.4 49.8 797.9 54.2 792C58.6 786.1 58.1 789 63.1 783.1C68 777.2 64 779.2 69 774.2C73.9 769.3 71.9 771.5 77.8 768.3C83.7 765.1 80.3 765.9 86.7 764.6C93.1 763.4 90.6 763.6 97 764.5C103.4 765.4 100 766.3 105.9 767.5C111.8 768.6 107.9 766.9 114.7 768C121.6 769.2 118.7 768 126.6 771C134.4 773.9 131 772.5 138.4 776.9C145.8 781.3 142.7 778.9 148.7 784.3C154.7 789.7 151.9 786.7 156.4 793.1C160.9 799.5 159.3 796.6 162.3 803.5C165.3 810.4 164.3 807.8 165.3 813.8C166.2 819.8 166.7 817 165.3 821.5C163.8 826 162.8 823 160.8 827.4C158.9 831.8 162.4 831 159.3 834.8C156.3 838.6 157.7 837.2 151.7 838.8C145.7 840.4 147.7 839.5 141.3 839.5C134.9 839.5 136.4 837.8 132.5 838.8C128.5 839.8 131 839.3 129.5 842.5C128 845.7 130.5 845.4 128 848.4C125.6 851.3 127.1 849.9 122.1 851.3C117.2 852.8 118.7 853.3 113.3 852.8C107.9 852.3 110.8 852.3 105.9 849.9C101 847.4 103.4 848.4 98.5 845.4C93.6 842.5 96.5 843.5 91.1 841C85.7 838.5 88.2 840 82.3 838C76.4 836.1 79.3 837.1 73.4 835.1C67.5 833.1 70.4 833.6 64.5 832.1C58.6 830.7 61.6 831.6 55.7 830.7C49.8 829.7 51.2 830.7 46.8 829.2C42.4 827.7 44.1 829.3 42.4 826.2C40.7 823.2 41.2 825 41.6 820Z" fill="none" stroke="#7d8d9b" stroke-opacity="0.35" stroke-width="0.8"/>
</g>
<g filter="url(#soft)">
<path d="M176.6 817.1C176.2 810.2 176.2 813.6 178.9 806.7C181.6 799.8 179.8 803.3 184.8 796.4C189.7 789.5 187.2 792.5 193.6 786.1C200 779.7 196.6 782.1 204 777.2C211.4 772.3 207.4 774.5 215.8 771.3C224.1 768.1 220.7 769.6 229.1 767.6C237.4 765.6 234 766.7 240.9 765.4C247.8 764.1 244.2 763.9 249.7 763.6C255.3 763.3 252.5 762.4 257.4 764.5C262.3 766.6 259.7 767.1 264.5 769.8C269.3 772.6 267 769.3 271.9 772.8C276.8 776.2 274.4 775.2 279.3 780.2C284.2 785.1 282.1 781.6 286.7 787.5C291.2 793.4 289.3 791 292.9 797.9C296.4 804.8 295 801.8 297.3 808.2C299.6 814.6 299.7 811.7 299.7 817.1C299.7 822.5 300.1 819.9 297.3 824.5C294.5 829 296.4 828.6 291.4 830.7C286.4 832.7 288.2 830.2 282.2 830.7C276.2 831.2 279.3 830.7 273.4 832.1C267.5 833.6 270.4 832.9 264.5 835.1C258.6 837.3 261.6 836.3 255.7 838.8C249.7 841.2 252.2 839.8 246.8 842.5C241.4 845.2 244.3 843.9 239.4 846.9C234.5 849.9 236.5 849.4 232 851.3C227.6 853.3 229.6 853.3 226.1 852.8C222.7 852.3 224.1 852.8 221.7 849.9C219.2 846.9 222.2 845.9 218.7 843.9C215.3 842 214.3 845.4 211.4 843.9C208.4 842.5 213.8 841 209.9 839.5C205.9 838 205.9 839.8 199.5 839.5C193.1 839.3 195.6 840.3 190.7 838.8C185.8 837.3 188.2 838.9 184.8 835.1C181.3 831.3 183 833.4 180.3 827.4C177.6 821.4 177.1 824 176.6 817.1Z" fill="#c9d5de"/>
<g clip-path="url(#bc3)">
<path d="M255.4 763.9C257.8 762.5 259 766 264.5 768.6C270 771.3 266.8 768.2 271.9 771.9C277 775.5 276.8 774.3 279.9 779.6C282.9 784.8 281.2 782.4 281.1 787.5C281 792.7 281.1 790 279.6 794.9C278.1 799.8 279.2 797.4 276.6 802.3C274.1 807.2 275.3 805.7 271.9 809.7C268.5 813.7 268.9 815.4 266.3 814.4C263.6 813.4 265.5 811.8 263.9 806.7C262.3 801.7 263.8 803.8 261.6 799.4C259.3 794.9 260.1 796.9 257.1 793.4C254.2 790 253.2 793.4 252.7 789C252.2 784.6 254.2 785.6 255.7 780.2C257.1 774.7 257.2 778.2 257.1 772.8C257 767.4 252.9 765.3 255.4 763.9Z" fill="#d91b06"/>
<path d="M248 764.5C249.2 763 250.9 762.5 254.2 762.7C257.4 762.9 257.4 763.4 257.7 765.1C258 766.8 257.5 767.1 255.1 767.7C252.7 768.4 252.8 768.2 250.5 767.2C248.1 766.1 246.7 766 248 764.5Z" fill="#f3790f"/>
<path d="M279.3 794.9C282.6 791.8 282 791 286.7 792.9C291.3 794.7 289.4 795.4 293.2 800.5C296.9 805.7 297 804.1 297.9 808.2C298.8 812.3 299.6 812.3 295.8 812.9C292.1 813.5 292.2 811 286.7 810C281.2 809 283.7 809.5 279.3 810C274.9 810.5 275.8 811.6 273.4 811.5C270.9 811.4 270.8 812.7 271.9 809.7C273 806.6 274.2 807.2 276.6 802.3C279.1 797.4 275.9 798.1 279.3 794.9Z" fill="#d91b06"/>
<path d="M271.9 811.5C274.4 810 274.4 810.2 279.3 809.7C284.2 809.2 281.2 809 286.7 810C292.2 811 292.1 809.8 295.8 812.6C299.6 815.5 298.4 815.5 297.9 818.5C297.4 821.6 297.6 821.7 294.3 821.8C291.1 821.9 292.2 820.8 288.1 818.8C284.1 816.9 286.2 817.2 282.2 815.9C278.3 814.6 279.8 815.6 276.3 815C272.9 814.4 273.4 815.3 271.9 814.1C270.4 812.9 269.4 812.9 271.9 811.5Z" fill="#f3790f"/>
<path d="M256.8 824.8C257.8 821.9 258 823.1 261.6 820C265.1 817 263.5 817.6 267.5 815.6C271.4 813.6 268.5 814.1 273.4 814.1C278.3 814.1 277.3 814.1 282.2 815.6C287.2 817.1 284.1 816.3 288.1 818.5C292.2 820.8 292.8 819.3 294.3 822.4C295.9 825.4 295.4 824.9 292.9 827.7C290.3 830.5 290.7 831.2 286.7 830.7C282.6 830.2 285.2 827.5 280.8 826.2C276.3 825 278.3 826.5 273.4 827C268.5 827.5 270.9 827.2 266 827.7C261.1 828.2 261.7 829.4 258.6 828.4C255.6 827.5 255.9 827.6 256.8 824.8Z" fill="#d91b06"/>
<path d="M246.5 839.5C248 836.4 248.7 836.9 252.7 833.3C256.7 829.8 254.2 830.7 258.6 828.9C263 827.1 261.1 828.4 266 827.9C270.9 827.3 268.6 827.7 273.4 827.3C278.1 826.9 278.1 825.3 280.2 826.7C282.2 828 281.8 829.5 279.6 831.4C277.3 833.3 278.4 831 273.4 832.3C268.4 833.6 270.4 833 264.5 835.2C258.6 837.5 261.1 836.4 255.7 838.9C250.2 841.4 251.3 842.6 248.3 842.8C245.2 843 245 842.7 246.5 839.5Z" fill="#ffd800"/>
<path d="M179.2 821.5C181.2 819.2 181.4 820.2 186.2 819.7C191.1 819.2 189.2 818.5 193.6 820C198.1 821.6 194.6 821.7 199.5 824.5C204.5 827.2 202.5 826.7 208.4 828.1C214.3 829.6 213.2 827.4 217.3 828.9C221.3 830.4 221.5 829.9 220.5 832.6C219.5 835.3 219.3 834.7 214.3 837C209.3 839.3 211.4 838.9 205.4 839.5C199.5 840.1 202 839.5 196.6 838.8C191.2 838 193.4 839.5 189.2 837.3C185 835.1 187.1 835.7 184 832.1C181 828.6 181.7 830.2 180 826.7C178.4 823.1 177.1 823.8 179.2 821.5Z" fill="#f3790f"/>
<path d="M188.9 837.7C191.9 837.5 191.1 839.2 199.5 838.9C208 838.7 207.3 839 214.3 837C221.3 835 218.9 832.9 220.5 833C222.1 833.1 222.1 834.6 219 837.3C216 840 217.8 840 211.4 841C204.9 842 206.4 840.9 199.5 840.4C192.6 839.9 194.2 840.4 190.7 839.5C187.1 838.6 185.9 837.9 188.9 837.7Z" fill="#ffd800"/>
<path d="M220.8 840.7C221.6 836.7 220.9 837.7 224.6 836.3C228.4 834.8 228 835.5 232 836.3C236.1 837 234.2 836.2 236.8 838.5C239.3 840.7 240.8 840.7 239.7 843.1C238.6 845.4 237.5 843.7 233.5 845.4C229.5 847.2 231.3 847.4 227.6 848.4C223.9 849.4 224.5 850.9 222.3 848.4C220 845.8 220 844.7 220.8 840.7Z" fill="#d91b06"/>
<path d="M222.1 849C223.6 846.8 223.7 848.4 229.1 846.6C234.4 844.8 236.2 843.1 238.2 843.7C240.3 844.2 238.3 845.5 235.3 848.4C232.2 851.2 232.6 850.6 229.1 852.2C225.5 853.8 227 854.3 224.6 853.3C222.3 852.2 220.7 851.2 222.1 849Z" fill="#ffd800"/>
<path d="M204 812.6C205.4 807.2 205 808.5 211.4 803.8C217.7 799.1 214.3 800.6 223.2 798.6C232 796.6 229.1 796.6 237.9 797.9C246.8 799.1 243.3 798.4 249.7 802.3C256.1 806.2 255.7 804.8 257.1 809.7C258.6 814.6 257.6 813.6 254.2 817.1C250.7 820.5 252.2 820 246.8 820C241.4 820 243.8 818.5 237.9 817.1C232 815.6 235 815.6 229.1 815.6C223.2 815.6 225.6 815.1 220.2 817.1C214.8 819 217.3 820.5 212.8 821.5C208.4 822.5 209.9 823 206.9 820C204 817.1 202.5 818.1 204 812.6Z" fill="#dbe4eb"/>
<g filter="url(#soft2)">
<path d="M198.1 820C199 816.1 196.6 815.1 201 808.2C205.4 801.3 203 804 211.4 799.4C219.7 794.7 216.3 795.9 226.1 794.2C236 792.5 232 792.5 240.9 794.2C249.7 795.9 246.3 794.7 252.7 799.4C259.1 804 258.1 802.3 260.1 808.2C262.1 814.1 259.1 814.1 258.6 817.1" fill="none" stroke="#8b9caa" stroke-width="2.8" stroke-opacity="0.4675" stroke-linecap="round"/>
<path d="M193.6 786.1C196.6 787 195.6 789.5 202.5 789C209.4 788.5 205.4 787 214.3 784.6C223.2 782.1 219.2 782.1 229.1 781.6C238.9 781.1 236 780.6 243.8 783.1C251.7 785.6 249.7 787 252.7 789" fill="none" stroke="#8b9caa" stroke-width="2.4" stroke-opacity="0.4675" stroke-linecap="round"/>
<path d="M206.9 820C209.4 821 208.9 819 214.3 823C219.7 826.9 217.3 827.4 223.2 831.8C229.1 836.3 229.1 834.8 232 836.3" fill="none" stroke="#8b9caa" stroke-width="2.2" stroke-opacity="0.4675" stroke-linecap="round"/>
<path d="M220.2 817.1C223.2 818.5 222.2 819.5 229.1 821.5C236 823.5 233 823.5 240.9 823C248.8 822.5 246.8 822 252.7 820C258.6 818.1 256.6 818.1 258.6 817.1" fill="none" stroke="#8b9caa" stroke-width="2" stroke-opacity="0.4675" stroke-linecap="round"/>
<path d="M239.4 846.6C241.9 842.7 240.9 842.2 246.8 834.8C252.7 827.4 253.7 827.9 257.1 824.5" fill="none" stroke="#8b9caa" stroke-width="2.2" stroke-opacity="0.4675" stroke-linecap="round"/>
<path d="M184.8 796.4C187.2 798.4 187.7 794.4 192.2 802.3C196.6 810.2 196.1 814.1 198.1 820" fill="none" stroke="#8b9caa" stroke-width="2" stroke-opacity="0.4675" stroke-linecap="round"/>
<path d="M264.5 769.8C265.5 773.8 264.5 774.2 267.5 781.6C270.4 789 269.4 787.5 273.4 792C277.3 796.4 277.3 793.9 279.3 794.9" fill="none" stroke="#9a1003" stroke-width="2.2" stroke-opacity="0.34" stroke-linecap="round"/>
<path d="M271.9 772.8C273.4 777.7 271.4 780.8 276.3 787.5C281.3 794.2 283.2 791.1 286.7 792.9" fill="none" stroke="#9a1003" stroke-width="2" stroke-opacity="0.2975" stroke-linecap="round"/>
</g>
<rect x="174.6" y="761.6" width="127" height="93.2" fill="url(#bshade)"/>
</g>
<path d="M176.6 817.1C176.2 810.2 176.2 813.6 178.9 806.7C181.6 799.8 179.8 803.3 184.8 796.4C189.7 789.5 187.2 792.5 193.6 786.1C200 779.7 196.6 782.1 204 777.2C211.4 772.3 207.4 774.5 215.8 771.3C224.1 768.1 220.7 769.6 229.1 767.6C237.4 765.6 234 766.7 240.9 765.4C247.8 764.1 244.2 763.9 249.7 763.6C255.3 763.3 252.5 762.4 257.4 764.5C262.3 766.6 259.7 767.1 264.5 769.8C269.3 772.6 267 769.3 271.9 772.8C276.8 776.2 274.4 775.2 279.3 780.2C284.2 785.1 282.1 781.6 286.7 787.5C291.2 793.4 289.3 791 292.9 797.9C296.4 804.8 295 801.8 297.3 808.2C299.6 814.6 299.7 811.7 299.7 817.1C299.7 822.5 300.1 819.9 297.3 824.5C294.5 829 296.4 828.6 291.4 830.7C286.4 832.7 288.2 830.2 282.2 830.7C276.2 831.2 279.3 830.7 273.4 832.1C267.5 833.6 270.4 832.9 264.5 835.1C258.6 837.3 261.6 836.3 255.7 838.8C249.7 841.2 252.2 839.8 246.8 842.5C241.4 845.2 244.3 843.9 239.4 846.9C234.5 849.9 236.5 849.4 232 851.3C227.6 853.3 229.6 853.3 226.1 852.8C222.7 852.3 224.1 852.8 221.7 849.9C219.2 846.9 222.2 845.9 218.7 843.9C215.3 842 214.3 845.4 211.4 843.9C208.4 842.5 213.8 841 209.9 839.5C205.9 838 205.9 839.8 199.5 839.5C193.1 839.3 195.6 840.3 190.7 838.8C185.8 837.3 188.2 838.9 184.8 835.1C181.3 831.3 183 833.4 180.3 827.4C177.6 821.4 177.1 824 176.6 817.1Z" fill="none" stroke="#7d8d9b" stroke-opacity="0.35" stroke-width="0.8"/>
</g>
<g filter="url(#soft)">
<path d="M356.1 723C355.3 717.5 355.6 720.5 356.8 714.1C358 707.7 356.8 710.2 359.8 703.8C362.7 697.4 361.2 700.3 365.7 694.9C370.1 689.5 367.6 692.5 373.1 687.5C378.5 682.6 375.5 684.3 381.9 680.2C388.3 676 384.9 677.9 392.3 675C399.6 672 396.7 673.3 404.1 671.3C411.5 669.3 408.5 670.3 414.4 669.1C420.3 667.8 416.4 668.3 421.8 667.6C427.2 666.9 424.7 666.6 430.7 666.9C436.6 667.1 434.1 666.6 439.5 668.3C444.9 670.1 442 669.1 446.9 672C451.8 675 449.9 673.3 454.3 677.2C458.7 681.1 456.3 678.9 460.2 683.8C464.1 688.8 462.7 686.3 466.1 692C469.5 697.6 467.6 695.4 470.5 700.8C473.5 706.2 472.3 703.3 475 708.2C477.7 713.1 477 710.7 478.6 715.6C480.3 720.5 480.1 718.1 480 723C479.8 727.9 479.9 726.3 478.2 730.4C476.5 734.4 478 733.5 475 735.1C471.9 736.7 473 735.6 469.1 735.1C465.1 734.6 467.1 733.1 463.1 733.6C459.2 734.1 462.2 734.8 457.2 736.6C452.3 738.3 453.3 736.8 448.4 738.8C443.5 740.7 447.4 739.8 442.5 742.5C437.5 745.2 439.5 744.2 433.6 746.9C427.7 749.6 430.7 748.4 424.7 750.6C418.8 752.8 421.3 751.9 415.9 753.5C410.5 755.2 413.4 755 408.5 755.5C403.6 756 405.5 756.2 401.1 755C396.7 753.9 398.7 754.8 395.2 752.1C391.8 749.4 391.8 750.6 390.8 746.9C389.8 743.2 393.2 743.2 392.3 741C391.3 738.8 391.8 739.8 387.8 740.3C383.9 740.7 385.9 742.2 380.4 742.5C375 742.7 377 743 371.6 741C366.2 739 368.4 740 364.2 736.6C360 733.1 361.7 735.2 359 730.7C356.3 726.1 356.8 728.5 356.1 723Z" fill="#c9d5de"/>
<g clip-path="url(#bc4)">
<path d="M354.2 723.7C353.2 719.6 354.2 719.7 355.6 712.3C357.1 705 355.6 708.2 358.6 701.7C361.5 695.2 360 698.3 364.5 692.9C369 687.4 366.5 690.4 372.2 685.5C377.9 680.5 374.9 682.2 381.6 678.1C388.3 673.9 384.8 676 392.3 673.1C399.7 670.1 396.4 671.2 404.1 669.2C411.8 667.3 411.5 666.2 415.3 667.2C419.1 668.1 417.4 668.2 415.6 672C413.8 675.9 412.8 674.5 410 678.7C407.1 682.9 410 683.6 407 684.6C404.1 685.6 405.5 682.1 401.1 681.6C396.7 681.1 398.7 681.1 393.7 683.1C388.8 685.1 390.3 684.1 386.4 687.5C382.4 691 385.9 690.5 381.9 693.4C378 696.4 379 694.8 374.5 696.4C370.1 698 371.6 695.6 368.6 698.2C365.7 700.7 367.8 700.1 365.7 704.1C363.5 708 364.1 705.6 362.1 710C360.2 714.4 360.9 712.4 359.8 717.4C358.6 722.3 360.5 722.6 358.6 724.8C356.7 726.9 355.1 727.9 354.2 723.7Z" fill="#e9480c"/>
<path d="M375.7 720C377 716.1 376.9 715.9 380.4 714.1C384 712.3 383.5 713.2 386.4 714.7C389.2 716.2 389.1 715.8 388.9 718.5C388.7 721.3 387.3 719.4 385.8 723C384.2 726.5 386.1 726.9 384.3 729.2C382.5 731.5 383 731 380.4 729.9C377.9 728.8 378.2 729.2 376.6 725.9C375 722.6 374.4 724 375.7 720Z" fill="#d91b06"/>
<path d="M420 700.8C421.5 696.9 421.2 698.7 424.7 694.9C428.3 691.2 426.2 691.9 430.7 689.6C435.1 687.3 433.5 688 438 688C442.6 688 441.9 686.8 444.2 689.6C446.6 692.4 445.1 692.2 445 696.4C444.9 700.6 443.7 698.4 443.9 702.3C444.2 706.2 446.7 705.7 445.7 708.2C444.7 710.8 444.5 710 441 710C437.4 710 439 707.7 435.1 708.2C431.1 708.7 433.1 710.6 429.2 711.5C425.2 712.3 426.2 712.3 423.3 710.7C420.3 709.1 421.4 710 420.3 706.7C419.2 703.4 418.5 704.8 420 700.8Z" fill="#d91b06"/>
<path d="M450.3 721.5C451 717.5 452 718.5 455.8 715.6C459.5 712.6 457.7 712.8 461.7 712.6C465.6 712.4 464.6 716.5 467.6 715C470.5 713.5 468 710.8 470.5 708.2C473.1 705.7 472.2 704.9 475.3 707.3C478.3 709.8 477.8 710.4 479.7 715.6C481.6 720.8 481.1 718 480.9 723C480.7 728 480.9 726.3 479.1 730.7C477.3 735 478.9 734.3 475.5 736C472.2 737.6 473.2 736.4 469.1 735.7C464.9 735 466.6 736.1 463.1 733.9C459.7 731.7 461.9 731.2 458.7 729.2C455.5 727.1 456.4 730.3 453.5 727.7C450.7 725.1 449.6 725.5 450.3 721.5Z" fill="#fbbc0c"/>
<path d="M396.4 748.4C398.1 745.2 398.6 746.2 404.1 742.2C409.6 738.1 407 740.2 412.9 736.3C418.8 732.3 415.9 734.8 421.8 730.4C427.7 725.9 424.7 727.7 430.7 723C436.6 718.3 433.6 719.5 439.5 716.3C445.4 713.1 444.1 713.6 448.4 713.4C452.7 713.1 451.6 712.8 452.4 715.6C453.1 718.4 452.9 718.3 450.6 721.8C448.3 725.3 449.1 723.8 445.4 726.2C441.7 728.7 443.9 726.2 439.5 729.2C435.1 732.1 437.1 731.9 432.1 735.1C427.2 738.3 428.7 736.3 424.7 738.8C420.8 741.2 423.8 740.7 420.3 742.5C416.9 744.2 418.3 742.5 414.4 743.9C410.5 745.4 412.4 744.7 408.5 746.9C404.6 749.1 405.8 749 402.6 750.6C399.4 752.2 401 752.4 398.9 751.6C396.8 750.9 394.7 751.5 396.4 748.4Z" fill="#f6960c"/>
<path d="M446.6 738.9C445 737.1 447.5 735.4 449.9 731.8C452.2 728.3 450.6 728.8 453.5 728.3C456.5 727.8 456.4 728.6 458.7 730.4C461 732.1 461.9 731.2 460.5 733.6C459.1 736 459.2 735.7 454.6 737.5C450 739.2 448.2 740.8 446.6 738.9Z" fill="#f6960c"/>
<path d="M389.6 746.9C389.6 744.6 389.9 743.9 392.3 744.2C394.6 744.6 393.6 745.2 396.7 748.1C399.7 750.9 401.4 750.8 401.4 752.8C401.4 754.8 399.7 754.6 396.7 754C393.6 753.4 394.6 753.4 392.3 751C389.9 748.7 389.6 749.2 389.6 746.9Z" fill="#d91b06"/>
<g filter="url(#soft2)">
<path d="M415.1 672C416.4 674.7 419.1 674 418.8 680.2C418.6 686.3 417.4 683.6 414.4 690.5C411.5 697.4 413.4 694.9 410 700.8C406.5 706.7 406 705.7 404.1 708.2" fill="none" stroke="#8b9caa" stroke-width="2.4" stroke-opacity="0.4675" stroke-linecap="round"/>
<path d="M421.8 667.6C422.8 670.8 424.7 670.6 424.7 677.2C424.7 683.8 423.8 681.1 421.8 687.5C419.8 693.9 419.8 693.4 418.8 696.4" fill="none" stroke="#8b9caa" stroke-width="2.4" stroke-opacity="0.4675" stroke-linecap="round"/>
<path d="M430.7 666.9C431.6 670.3 430.7 670.3 433.6 677.2C436.6 684.1 437.5 684.1 439.5 687.5" fill="none" stroke="#8b9caa" stroke-width="2.2" stroke-opacity="0.4675" stroke-linecap="round"/>
<path d="M439.5 668.3C442.5 672.3 444.4 673.3 448.4 680.2C452.3 687 451.3 683.1 451.3 689C451.3 694.9 449.4 694.9 448.4 697.9" fill="none" stroke="#8b9caa" stroke-width="2.2" stroke-opacity="0.4675" stroke-linecap="round"/>
<path d="M454.3 677.2C456.3 681.6 457.2 682.1 460.2 690.5C463.1 698.9 460.2 696.4 463.1 702.3C466.1 708.2 467.1 706.2 469.1 708.2" fill="none" stroke="#8b9caa" stroke-width="2.2" stroke-opacity="0.4675" stroke-linecap="round"/>
<path d="M368.6 698.2C372.6 699.5 372.6 701.4 380.4 702.3C388.3 703.2 384.4 703.3 392.3 700.8C400.1 698.4 398.2 699.4 404.1 694.9C410 690.5 408 690 410 687.5" fill="none" stroke="#8b9caa" stroke-width="2.2" stroke-opacity="0.4675" stroke-linecap="round"/>
<path d="M365.7 706.7C368.6 707.7 367.6 709.2 374.5 709.7C381.4 710.2 379.5 706.7 386.4 708.2C393.2 709.7 392.3 712.1 395.2 714.1" fill="none" stroke="#8b9caa" stroke-width="2" stroke-opacity="0.4675" stroke-linecap="round"/>
<path d="M359.8 720C363.7 721 366.2 719 371.6 723C377 726.9 370.6 726.2 376 731.8C381.4 737.5 383.9 737.3 387.8 740" fill="none" stroke="#8b9caa" stroke-width="2.2" stroke-opacity="0.4675" stroke-linecap="round"/>
<path d="M392.3 740.7C395.2 736.8 394.2 735.8 401.1 728.9C408 722 405.1 724.9 412.9 720C420.8 715.1 416.9 716.6 424.7 714.1C432.6 711.7 428.7 712.9 436.6 712.6C444.4 712.4 444.4 713.1 448.4 713.4" fill="none" stroke="#8b9caa" stroke-width="2.6" stroke-opacity="0.4675" stroke-linecap="round"/>
<path d="M389.3 717.1C392.3 718.1 391.3 721 398.2 720C405.1 719 402.6 718.1 410 714.1C417.4 710.2 416.9 710.2 420.3 708.2" fill="none" stroke="#8b9caa" stroke-width="2" stroke-opacity="0.4675" stroke-linecap="round"/>
<path d="M408.5 755.5C411.9 753 411.5 752.5 418.8 748.1C426.2 743.7 422.8 746.6 430.7 742.2C438.5 737.7 435.6 739.2 442.5 734.8C449.4 730.4 448.4 730.9 451.3 728.9" fill="none" stroke="#8b9caa" stroke-width="2.2" stroke-opacity="0.4675" stroke-linecap="round"/>
<path d="M445.4 708.2C448.4 708.2 448.9 706.7 454.3 708.2C459.7 709.7 459.2 711.2 461.7 712.6" fill="none" stroke="#8b9caa" stroke-width="2" stroke-opacity="0.4675" stroke-linecap="round"/>
<path d="M364.2 696.4C368.6 693.9 367.6 694.4 377.5 689C387.3 683.6 381.9 686.3 393.7 680.2C405.5 674 406.5 673.8 412.9 670.6" fill="none" stroke="#a52a04" stroke-width="2.4" stroke-opacity="0.2975" stroke-linecap="round"/>
</g>
<rect x="354.1" y="664.9" width="127.9" height="92.6" fill="url(#bshade)"/>
</g>
<path d="M356.1 723C355.3 717.5 355.6 720.5 356.8 714.1C358 707.7 356.8 710.2 359.8 703.8C362.7 697.4 361.2 700.3 365.7 694.9C370.1 689.5 367.6 692.5 373.1 687.5C378.5 682.6 375.5 684.3 381.9 680.2C388.3 676 384.9 677.9 392.3 675C399.6 672 396.7 673.3 404.1 671.3C411.5 669.3 408.5 670.3 414.4 669.1C420.3 667.8 416.4 668.3 421.8 667.6C427.2 666.9 424.7 666.6 430.7 666.9C436.6 667.1 434.1 666.6 439.5 668.3C444.9 670.1 442 669.1 446.9 672C451.8 675 449.9 673.3 454.3 677.2C458.7 681.1 456.3 678.9 460.2 683.8C464.1 688.8 462.7 686.3 466.1 692C469.5 697.6 467.6 695.4 470.5 700.8C473.5 706.2 472.3 703.3 475 708.2C477.7 713.1 477 710.7 478.6 715.6C480.3 720.5 480.1 718.1 480 723C479.8 727.9 479.9 726.3 478.2 730.4C476.5 734.4 478 733.5 475 735.1C471.9 736.7 473 735.6 469.1 735.1C465.1 734.6 467.1 733.1 463.1 733.6C459.2 734.1 462.2 734.8 457.2 736.6C452.3 738.3 453.3 736.8 448.4 738.8C443.5 740.7 447.4 739.8 442.5 742.5C437.5 745.2 439.5 744.2 433.6 746.9C427.7 749.6 430.7 748.4 424.7 750.6C418.8 752.8 421.3 751.9 415.9 753.5C410.5 755.2 413.4 755 408.5 755.5C403.6 756 405.5 756.2 401.1 755C396.7 753.9 398.7 754.8 395.2 752.1C391.8 749.4 391.8 750.6 390.8 746.9C389.8 743.2 393.2 743.2 392.3 741C391.3 738.8 391.8 739.8 387.8 740.3C383.9 740.7 385.9 742.2 380.4 742.5C375 742.7 377 743 371.6 741C366.2 739 368.4 740 364.2 736.6C360 733.1 361.7 735.2 359 730.7C356.3 726.1 356.8 728.5 356.1 723Z" fill="none" stroke="#7d8d9b" stroke-opacity="0.35" stroke-width="0.8"/>
</g>
<g filter="url(#soft)">
<path d="M491.8 720C491.8 714.6 491.1 717.1 494 711.2C497 705.3 498 707.7 500.7 702.3C503.4 696.9 499.2 699.8 502.2 694.9C505.1 690 506.1 692.5 509.5 687.5C513 682.6 509 684.6 512.5 680.2C515.9 675.7 515 677.2 519.9 674.2C524.8 671.3 522.3 674 527.3 671.3C532.2 668.6 529.7 668.2 534.6 666.1C539.6 664.1 537.1 664.9 542 665.1C546.9 665.2 544 665 549.4 666.6C554.8 668.1 552.4 668 558.3 669.8C564.2 671.6 561.2 670.3 567.1 672C573 673.8 569.6 672.3 576 675C582.4 677.7 579.9 676.2 586.3 680.2C592.7 684.1 589.8 681.9 595.2 686.8C600.6 691.7 598.1 689.3 602.6 694.9C607 700.6 605 697.9 608.5 703.8C611.9 709.7 610.6 706.7 612.9 712.6C615.2 718.5 614.7 716.1 615.3 721.5C615.9 726.9 616.4 724.4 614.7 728.9C613 733.4 613.3 731.8 610.3 735.1C607.2 738.4 610.1 736.8 605.5 738.8C601 740.7 602.6 740 596.7 741C590.8 742 592.7 741.7 587.8 741.7C582.9 741.7 584.1 739.3 581.9 741C579.7 742.7 582.8 743.7 581.3 746.9C579.8 750.1 580.7 749 577.5 750.6C574.2 752.2 575.5 750.2 571.6 751.6C567.6 753.1 570.1 754.6 565.7 755C561.2 755.4 563.2 755 558.3 752.8C553.3 750.6 555.8 751.6 550.9 748.4C546 745.2 548.9 746.2 543.5 743.2C538.1 740.3 540.5 741.5 534.6 739.5C528.7 737.5 531.2 738.8 525.8 737.3C520.4 735.8 523.8 736.6 518.4 735.1C513 733.6 515.4 734.4 509.5 732.9C503.6 731.4 505.8 732.5 500.7 730.7C495.5 728.8 497 731 494 727.4C491.1 723.9 491.8 725.4 491.8 720Z" fill="#c9d5de"/>
<g clip-path="url(#bc5)">
<path d="M536.6 665.4C538.3 662.9 540.2 662.9 543.5 665.4C546.8 667.8 544 667.8 546.5 672.8C548.9 677.7 548.4 675.2 550.9 680.2C553.3 685.1 551.4 682.1 553.8 687.5C556.3 693 555.8 690.5 558.3 696.4C560.7 702.3 559.5 699.8 561.2 705.3C563 710.7 564.1 709.4 563.6 712.6C563.1 715.9 562.5 715.5 559.7 715C557 714.5 557.8 713.4 555.3 711.2C552.9 708.9 553.6 711.2 552.4 708.2C551.1 705.3 552.6 706.7 551.6 702.3C550.6 697.9 551.6 699.4 549.4 694.9C547.2 690.5 547.9 693.4 545 689C542 684.6 542.8 687 540.5 681.6C538.3 676.2 539.7 678.2 538.3 672.8C537 667.4 534.8 667.8 536.6 665.4Z" fill="#f3790f"/>
<path d="M543.9 665.7C545.9 663.8 547.5 665.7 552.4 667.2C557.2 668.6 556 666.8 558.6 670.1C561.1 673.5 558.2 672.9 560 677.2C561.9 681.5 561.2 679.2 564.2 683.1C567.1 687 567.3 684.6 568.9 689C570.5 693.4 567.5 692 568.9 696.4C570.3 700.8 569.2 699.4 573 702.3C576.9 705.3 575.9 702.8 580.4 705.3C585 707.7 582.6 705.7 586.6 709.7C590.7 713.6 589.6 712.6 592.5 717.1C595.5 721.5 595.5 719.7 595.5 723C595.5 726.2 595.1 725.2 592.5 726.8C590 728.4 590.4 729.4 587.8 727.7C585.2 726 587.3 725.2 584.9 721.8C582.4 718.4 583.4 717.4 580.4 717.4C577.5 717.4 578.9 720.1 576 721.8C573 723.5 574.5 723.5 571.6 722.5C568.6 721.6 569.6 721.8 567.1 718.8C564.7 715.8 566.1 718.1 564.2 713.5C562.2 709 563.2 711 561.2 705.3C559.3 699.5 560.7 702.3 558.3 696.4C555.8 690.5 556.3 693 553.8 687.5C551.4 682.1 553.3 685.1 550.9 680.2C548.4 675.2 548.8 677.6 546.5 672.8C544.1 667.9 542 667.5 543.9 665.7Z" fill="#d91b06"/>
<path d="M577.2 735.1C576.8 730.6 578.4 732.4 580.4 727.4C582.5 722.4 580.9 720 583.4 720C585.8 720 584.9 725.1 587.8 727.4C590.8 729.7 588.8 728 592.2 726.8C595.7 725.6 594.2 724.2 598.1 723.9C602.1 723.6 601.5 723.8 604.1 725.9C606.6 728.1 604.1 727.2 605.8 730.4C607.6 733.5 609.4 732.4 609.4 735.4C609.4 738.3 610.1 737.2 605.8 739.2C601.6 741.2 602.7 740.6 596.7 741.4C590.7 742.3 592.8 742 587.8 741.9C582.8 741.7 585.1 743.3 581.6 741C578.1 738.7 577.6 739.6 577.2 735.1Z" fill="#f3790f"/>
<path d="M611.1 727.4C611.3 724.9 612.1 723.6 613.6 723.6C615.2 723.6 616 724.9 615.9 727.4C615.7 729.9 614.8 731 613.2 731C611.6 731 611 729.9 611.1 727.4Z" fill="#d91b06"/>
<path d="M519.6 718.5C519.8 715.3 520.8 715.7 524.3 714.7C527.8 713.7 526.3 713.8 530.2 715.6C534.1 717.4 533.2 720.5 536.1 720C539.1 719.5 538.9 717.1 539.1 714.1C539.3 711.2 535.7 712.9 536.7 711.2C537.7 709.4 537.8 708.3 542 708.8C546.3 709.3 544.5 709.9 549.4 712.6C554.3 715.4 551.9 714.1 556.8 717.1C561.7 720 559.7 718.1 564.2 721.5C568.6 724.9 566.6 723.5 570.1 727.4C573.5 731.3 571.6 729.4 574.5 733.3C577.5 737.3 576.9 735.3 578.9 739.2C581 743.2 581.1 741.6 580.7 745.1C580.3 748.7 580.8 747.9 577.8 749.9C574.7 751.8 575.1 752.1 571.6 751C568 750 571.1 749.6 567.1 746.6C563.2 743.7 564.7 744.9 559.7 742.2C554.8 739.5 557.3 740.9 552.4 738.5C547.4 736 549.9 737.3 545 734.8C540.1 732.3 542.5 733.6 537.6 731.1C532.7 728.6 534.9 729.6 530.2 727.4C525.5 725.2 527.1 727.4 523.6 724.5C520 721.5 519.3 721.8 519.6 718.5Z" fill="#d91b06"/>
<path d="M518.8 723C519.6 720.5 519.8 723.2 523.6 724.8C527.4 726.3 525.5 725.5 530.2 727.7C534.9 729.9 532.7 728.9 537.6 731.4C542.5 733.9 540.1 732.6 545 735.1C549.9 737.5 547.4 736.3 552.4 738.8C557.3 741.2 554.8 739.8 559.7 742.5C564.7 745.2 563.3 743.9 567.1 746.9C570.9 749.9 571.6 748.5 571.1 751.3C570.6 754.2 569.9 754.8 565.7 755.5C561.4 756.1 563.2 755.5 558.3 753.3C553.3 751 555.8 752 550.9 748.8C546 745.6 548.9 746.6 543.5 743.7C538.1 740.7 540.5 741.9 534.6 740C528.7 738 530.2 740.4 525.8 737.7C521.4 735.1 523.7 737.1 521.4 732.1C519 727.2 518.1 725.4 518.8 723Z" fill="#ffd800"/>
<path d="M515.1 733.6C515.3 731.7 517.3 730 519.6 730.4C521.8 730.8 520.4 732.4 521.9 734.8C523.5 737.2 525.3 737.1 524.3 737.5C523.3 737.8 522 737.3 519 736C515.9 734.7 515 735.5 515.1 733.6Z" fill="#e9480c"/>
<g filter="url(#soft2)">
<path d="M502.2 694.9C506.1 696.4 507.1 693.9 514 699.4C520.9 704.8 519.4 706 522.8 711.2C526.3 716.3 523.8 713.5 524.3 714.7" fill="none" stroke="#8b9caa" stroke-width="2.4" stroke-opacity="0.4675" stroke-linecap="round"/>
<path d="M509.5 687.5C513.5 688.5 514.5 686.6 521.4 690.5C528.2 694.4 525.1 692.5 530.2 699.4C535.3 706.2 534.5 707.2 536.7 711.2" fill="none" stroke="#8b9caa" stroke-width="2.4" stroke-opacity="0.4675" stroke-linecap="round"/>
<path d="M519.9 674.2C522.8 677.2 522.8 678.7 528.7 683.1C534.6 687.5 532.2 685.3 537.6 687.5C543 689.8 542.5 689 545 689.8" fill="none" stroke="#8b9caa" stroke-width="2.2" stroke-opacity="0.4675" stroke-linecap="round"/>
<path d="M494 711.2C497.7 711.7 498 709.7 505.1 712.6C512.2 715.6 510.6 716.6 515.4 720C520.3 723.5 518.2 722 519.6 723" fill="none" stroke="#8b9caa" stroke-width="2.2" stroke-opacity="0.4675" stroke-linecap="round"/>
<path d="M500.7 702.3C504.1 703.3 505.1 701.3 511 705.3C516.9 709.2 515.9 711.2 518.4 714.1" fill="none" stroke="#8b9caa" stroke-width="2" stroke-opacity="0.4675" stroke-linecap="round"/>
<path d="M494 727.4C498.2 726.4 498.5 724.5 506.6 724.5C514.7 724.5 514.5 726.4 518.4 727.4" fill="none" stroke="#8b9caa" stroke-width="2" stroke-opacity="0.4675" stroke-linecap="round"/>
<path d="M558.3 669.8C561.7 672.8 562.2 672.8 568.6 678.7C575 684.6 572.5 681.6 577.5 687.5C582.4 693.4 580.4 689 583.4 696.4C586.3 703.8 585.3 705.3 586.3 709.7" fill="none" stroke="#8b9caa" stroke-width="2.4" stroke-opacity="0.4675" stroke-linecap="round"/>
<path d="M576 675C579.9 679.2 580.9 679.4 587.8 687.5C594.7 695.7 591.7 690.5 596.7 699.4C601.6 708.2 602.1 705.9 602.6 714.1C603.1 722.3 599.6 720.6 598.1 723.9" fill="none" stroke="#8b9caa" stroke-width="2.2" stroke-opacity="0.4675" stroke-linecap="round"/>
<path d="M595.2 686.8C598.1 692 599.6 692.2 604.1 702.3C608.5 712.4 607 712.1 608.5 717.1" fill="none" stroke="#8b9caa" stroke-width="2" stroke-opacity="0.4675" stroke-linecap="round"/>
<path d="M568.6 696.4C571.6 696.4 571.6 694.4 577.5 696.4C583.4 698.4 581.4 695.4 586.3 702.3C591.3 709.2 590.3 712.1 592.2 717.1" fill="none" stroke="#8b9caa" stroke-width="2" stroke-opacity="0.4675" stroke-linecap="round"/>
<path d="M530.2 721.5C534.1 721 534.1 718.5 542 720C549.9 721.5 546 721 553.8 725.9C561.7 730.9 558.8 728.4 565.7 734.8C572.5 741.2 571.6 741.7 574.5 745.1" fill="none" stroke="#9a1003" stroke-width="2.4" stroke-opacity="0.34" stroke-linecap="round"/>
<path d="M574.5 733.3C577.5 728.9 581.4 725.3 583.4 720C585.3 714.7 581.4 718.3 580.4 717.4" fill="none" stroke="#8b9caa" stroke-width="2.2" stroke-opacity="0.4675" stroke-linecap="round"/>
</g>
<rect x="489.8" y="663.1" width="127.5" height="93.9" fill="url(#bshade)"/>
</g>
<path d="M491.8 720C491.8 714.6 491.1 717.1 494 711.2C497 705.3 498 707.7 500.7 702.3C503.4 696.9 499.2 699.8 502.2 694.9C505.1 690 506.1 692.5 509.5 687.5C513 682.6 509 684.6 512.5 680.2C515.9 675.7 515 677.2 519.9 674.2C524.8 671.3 522.3 674 527.3 671.3C532.2 668.6 529.7 668.2 534.6 666.1C539.6 664.1 537.1 664.9 542 665.1C546.9 665.2 544 665 549.4 666.6C554.8 668.1 552.4 668 558.3 669.8C564.2 671.6 561.2 670.3 567.1 672C573 673.8 569.6 672.3 576 675C582.4 677.7 579.9 676.2 586.3 680.2C592.7 684.1 589.8 681.9 595.2 686.8C600.6 691.7 598.1 689.3 602.6 694.9C607 700.6 605 697.9 608.5 703.8C611.9 709.7 610.6 706.7 612.9 712.6C615.2 718.5 614.7 716.1 615.3 721.5C615.9 726.9 616.4 724.4 614.7 728.9C613 733.4 613.3 731.8 610.3 735.1C607.2 738.4 610.1 736.8 605.5 738.8C601 740.7 602.6 740 596.7 741C590.8 742 592.7 741.7 587.8 741.7C582.9 741.7 584.1 739.3 581.9 741C579.7 742.7 582.8 743.7 581.3 746.9C579.8 750.1 580.7 749 577.5 750.6C574.2 752.2 575.5 750.2 571.6 751.6C567.6 753.1 570.1 754.6 565.7 755C561.2 755.4 563.2 755 558.3 752.8C553.3 750.6 555.8 751.6 550.9 748.4C546 745.2 548.9 746.2 543.5 743.2C538.1 740.3 540.5 741.5 534.6 739.5C528.7 737.5 531.2 738.8 525.8 737.3C520.4 735.8 523.8 736.6 518.4 735.1C513 733.6 515.4 734.4 509.5 732.9C503.6 731.4 505.8 732.5 500.7 730.7C495.5 728.8 497 731 494 727.4C491.1 723.9 491.8 725.4 491.8 720Z" fill="none" stroke="#7d8d9b" stroke-opacity="0.35" stroke-width="0.8"/>
</g>
<g filter="url(#soft)">
<path d="M356.1 820C355.8 814 355.8 816.6 357.6 811.2C359.3 805.7 358 809.2 361.2 803.8C364.4 798.4 364.7 800.3 367.2 794.9C369.6 789.5 365.2 793 368.6 787.5C372.1 782.1 372.1 783.6 377.5 778.7C382.9 773.8 380 776.2 384.9 772.8C389.8 769.3 386.8 770.9 392.3 768.3C397.7 765.7 394.7 766.1 401.1 764.9C407.5 763.8 405.1 764 411.5 764.9C417.9 765.9 413.9 766.6 420.3 767.9C426.7 769.2 423.3 767.6 430.7 768.9C438 770.3 434.6 768.9 442.5 771.9C450.3 774.8 447.3 773.6 454.3 777.8C461.3 782 457.9 779.6 463.4 784.6C469 789.6 466.4 786.8 470.8 792.7C475.3 798.6 473.7 795.7 476.7 802.3C479.8 808.9 478.7 806.2 480 812.6C481.3 819 481.2 816 480.6 821.5C480 827 480.5 824.7 478.2 829.2C475.9 833.7 477.8 831.9 473.8 835.1C469.7 838.3 471.6 837.1 466.1 838.8C460.6 840.5 463.1 840.3 457.2 840.3C451.3 840.3 452.3 838 448.4 838.8C444.4 839.5 446.8 839.3 445.4 842.5C444 845.7 446.2 845.4 444.2 848.4C442.3 851.3 444 849.6 439.5 851.3C435 853.1 436.1 853.6 430.7 853.7C425.2 853.7 427.7 853.7 423.3 851.5C418.8 849.2 422.3 849.9 417.4 846.9C412.4 843.9 414.4 845.2 408.5 842.5C402.6 839.8 405.5 840.7 399.6 838.8C393.7 836.8 396.7 837.8 390.8 836.6C384.9 835.3 387.8 835.8 381.9 835.1C376 834.4 379 835.1 373.1 834.4C367.2 833.6 369.1 834.6 364.2 832.9C359.3 831.2 361 833.5 358.3 829.2C355.6 824.9 356.3 826 356.1 820Z" fill="#c9d5de"/>
<g clip-path="url(#bc6)">
<path d="M420.8 766.9C424 764.7 423.4 766.5 430.7 767.7C437.9 769 434.4 767.6 442.5 770.7C450.5 773.8 447.6 772.6 454.9 776.9C462.2 781.2 458.7 778.7 464.3 783.7C469.9 788.7 467.3 786 471.7 792C476.1 798 474.5 794.9 477.6 801.7C480.8 808.5 479.9 806.1 481.2 812.3C482.4 818.5 484.5 817.9 481.5 820.3C478.4 822.8 477.6 820.8 472 819.7C466.4 818.6 468.1 819.9 464.6 817.1C461.2 814.2 464.1 814.6 461.7 811.2C459.2 807.7 460.7 810.2 457.2 806.7C453.8 803.3 455.3 804.3 451.3 800.8C447.4 797.4 450.3 798.9 445.4 796.4C440.5 793.9 442 795.7 436.6 793.4C431.1 791.2 434.1 791.5 429.2 789.8C424.3 788 425 791 421.8 788.3C418.6 785.6 419.8 786.3 419.6 781.6C419.3 777 420.7 779.2 421.1 774.2C421.4 769.3 417.6 769 420.8 766.9Z" fill="#e6400a"/>
<path d="M403.8 789.8C405.3 788 405 788.4 410 788.1C415 787.8 412.9 788.1 418.8 788.9C424.7 789.6 422.2 789.1 427.7 790.3C433.2 791.6 432.6 790.4 435.4 792.6C438.2 794.7 438.2 795 436.1 796.7C434.1 798.4 434.4 797.2 429.2 797.7C423.9 798.3 426.2 797.6 420.3 798.3C414.4 799 415.6 800.1 411.5 799.8C407.3 799.4 409.7 799.4 407.8 797.3C405.8 795.2 406.9 796 405.5 793.4C404.2 790.9 402.3 791.5 403.8 789.8Z" fill="#e9480c"/>
<path d="M454.7 807.3C456.3 805.4 456.7 805.5 459.6 808.2C462.5 811 462.7 810.7 463.4 815.6C464.2 820.5 464.5 818.9 462 823C459.4 827 460.3 825.7 455.8 827.7C451.2 829.7 453.4 829.1 448.4 828.9C443.4 828.6 441.2 828.6 440.7 827C440.2 825.3 442.9 826.2 446.9 823.9C450.9 821.6 450.1 823.3 452.8 820C455.5 816.8 454.4 818.4 455 814.1C455.7 809.9 453.2 809.3 454.7 807.3Z" fill="#f6960c"/>
<path d="M354.7 820.8C354 813 354.9 814.7 357.4 809.4C359.9 804.1 360.3 803.9 362.1 805C364 806 363.5 808.6 363 812.6C362.5 816.7 360.8 813.6 360.7 817.1C360.6 820.5 360.1 821.5 362.7 823C365.4 824.5 364.7 823.5 368.6 821.5C372.6 819.5 370.1 818.8 374.5 817.1C379 815.3 377 815.8 381.9 816.3C386.8 816.8 384.9 816.3 389.3 818.5C393.7 820.8 392.2 820.2 395.2 823C398.3 825.7 399.4 825.3 398.5 826.8C397.5 828.3 396.8 827.6 392.3 827.6C387.7 827.6 389.3 826.8 384.9 826.8C380.4 826.8 382.4 826.3 379 827.6C375.5 828.8 378.5 828.4 374.5 830.5C370.6 832.6 372.1 833.2 367.2 833.9C362.2 834.6 363.9 837.1 359.8 832.7C355.6 828.3 355.5 828.5 354.7 820.8Z" fill="#fbbc0c"/>
<path d="M360.4 817.1C361.8 814 361.9 815.6 367.2 814.1C372.4 812.6 371 812.3 376 812.6C381 812.9 382.7 813.4 382.2 815C381.7 816.6 379.1 815.1 374.5 817.4C370 819.6 372.6 819.8 368.6 821.8C364.7 823.8 365.5 824.8 362.7 823.3C360 821.7 358.9 820.1 360.4 817.1Z" fill="#e9480c"/>
<path d="M374.2 830.5C375.2 827.9 375.9 828.3 381.9 827.4C387.9 826.5 386.4 826.2 392.3 827.7C398.2 829.2 394.7 828.5 399.6 831.8C404.6 835.2 403.5 834.7 407 837.7C410.6 840.8 411.3 839.7 410.3 841C409.3 842.3 409.1 842.7 404.1 841.7C399.1 840.7 401.1 839.8 395.2 838C389.3 836.3 391.8 837.5 386.4 836.6C380.9 835.7 383 837.4 379 835.4C374.9 833.4 373.3 833.2 374.2 830.5Z" fill="#f3790f"/>
<path d="M399.3 825.9C399.8 823.3 401 823.3 404.1 824.3C407.1 825.3 405.1 825.6 408.5 828.9C411.9 832.1 410.9 831.1 414.4 834.1C418 837 418.1 834 419.1 837.7C420.2 841.5 420.2 843.9 417.7 845.4C415.1 847 415 845.4 411.5 842.5C407.9 839.5 410 840 407 836.6C404.1 833.1 405.2 835.7 402.6 832.1C400 828.6 398.9 828.5 399.3 825.9Z" fill="#e9480c"/>
<path d="M418 837.7C418.9 834.5 419.5 835.1 423.3 835.4C427 835.6 426.2 838.2 429.2 838.5C432.1 838.7 430.1 835.4 432.1 836.1C434.2 836.9 434.8 837.2 435.4 840.7C436 844.2 434.9 842.5 433.9 846.6C432.9 850.7 434.5 851.4 432.4 853.1C430.4 854.8 429.8 853.8 427.7 851.6C425.6 849.5 428.7 848.8 426.2 846.6C423.8 844.4 423.1 848.1 420.3 845.1C417.6 842.2 417 841 418 837.7Z" fill="#ffe91a"/>
<path d="M433.6 840.7C435.5 838.4 435.8 839.3 439.5 839.8C443.3 840.3 442.7 839.9 444.8 842.2C447 844.4 447.2 843.6 446 846.6C444.8 849.7 444.9 849.4 441.3 851.3C437.6 853.3 437.5 854.1 435.1 852.5C432.6 850.9 434.4 850.5 433.9 846.6C433.4 842.7 431.7 843 433.6 840.7Z" fill="#d91b06"/>
<path d="M424.5 849.9C424.5 848.1 425 847 427.7 848.1C430.4 849.2 432.4 851.3 432.4 853.1C432.4 854.9 430.4 854.5 427.7 853.4C425 852.3 424.5 851.6 424.5 849.9Z" fill="#f3790f"/>
<path d="M401.1 809.7C403.1 804.8 401.6 806 408.5 802.3C415.4 798.6 412.4 799.6 421.8 798.6C431.1 797.6 427.7 797.1 436.6 799.4C445.4 801.6 442.5 800.3 448.4 805.3C454.3 810.2 453.3 808.7 454.3 814.1C455.3 819.5 455.3 818.5 451.3 821.5C447.4 824.5 448.4 823.5 442.5 823C436.6 822.5 439.5 822 433.6 820C427.7 818.1 430.7 818.1 424.7 817.1C418.8 816.1 421.3 816.1 415.9 817.1C410.5 818.1 412.9 820 408.5 820C404.1 820 405.1 820.5 402.6 817.1C400.1 813.6 399.1 814.6 401.1 809.7Z" fill="#dbe4eb"/>
<g filter="url(#soft2)">
<path d="M399.9 811.2C402.3 808 399.7 806.1 407 801.7C414.3 797.3 411.5 799 421.8 797.9C432.1 796.8 428.7 796.1 438 798.5C447.4 800.8 443.9 799.7 449.9 805C455.8 810.2 453.8 811.1 455.8 814.1" fill="none" stroke="#8b9caa" stroke-width="2.8" stroke-opacity="0.4675" stroke-linecap="round"/>
<path d="M407.8 797.3C410.5 794 411.9 792.8 415.9 787.5C419.8 782.3 418.3 783.6 419.6 781.6" fill="none" stroke="#8b9caa" stroke-width="2.2" stroke-opacity="0.4675" stroke-linecap="round"/>
<path d="M392.3 768.3C392.7 772.3 390.8 773.8 393.7 780.2C396.7 786.6 397.7 784.3 401.1 787.5C404.6 790.7 403.1 789 404.1 789.8" fill="none" stroke="#8b9caa" stroke-width="2.2" stroke-opacity="0.4675" stroke-linecap="round"/>
<path d="M377.5 778.7C380.4 781.6 380.9 780.6 386.4 787.5C391.8 794.4 389.2 791.5 393.7 799.4C398.3 807.2 397.9 807.2 399.9 811.2" fill="none" stroke="#8b9caa" stroke-width="2.2" stroke-opacity="0.4675" stroke-linecap="round"/>
<path d="M367.2 794.9C370.6 796.4 370.1 794.4 377.5 799.4C384.9 804.3 383.4 801.8 389.3 809.7C395.2 817.6 393.2 818.5 395.2 823" fill="none" stroke="#8b9caa" stroke-width="2.2" stroke-opacity="0.4675" stroke-linecap="round"/>
<path d="M361.2 803.8C364.7 804.8 364.7 802.5 371.6 806.7C378.5 810.9 378.5 813.1 381.9 816.3" fill="none" stroke="#8b9caa" stroke-width="2" stroke-opacity="0.4675" stroke-linecap="round"/>
<path d="M408.5 820C410.5 822.5 409 823.5 414.4 827.4C419.8 831.3 417.4 831.3 424.7 831.8C432.1 832.3 431.1 830.5 436.6 828.9C442 827.3 439.5 827.6 441 827" fill="none" stroke="#8b9caa" stroke-width="2.2" stroke-opacity="0.4675" stroke-linecap="round"/>
<path d="M419.1 837.7C422 835.8 420.9 833.8 427.7 831.8C434.5 829.9 432.6 829.5 439.5 831.8C446.4 834.2 445.4 836.5 448.4 838.8" fill="none" stroke="#8b9caa" stroke-width="2" stroke-opacity="0.4675" stroke-linecap="round"/>
<path d="M472 819.7C471 822.8 472 823.9 469.1 828.9C466.1 833.9 465.1 832.8 463.1 834.8" fill="none" stroke="#8b9caa" stroke-width="2" stroke-opacity="0.4675" stroke-linecap="round"/>
<path d="M427.7 774.2C432.6 775.7 433.1 773.8 442.5 778.7C451.8 783.6 447.9 781.1 455.8 789C463.6 796.9 460.7 793 466.1 802.3C471.5 811.7 470 812.1 472 817.1" fill="none" stroke="#a52a04" stroke-width="2.4" stroke-opacity="0.2975" stroke-linecap="round"/>
</g>
<rect x="354.1" y="762.9" width="128.5" height="92.8" fill="url(#bshade)"/>
</g>
<path d="M356.1 820C355.8 814 355.8 816.6 357.6 811.2C359.3 805.7 358 809.2 361.2 803.8C364.4 798.4 364.7 800.3 367.2 794.9C369.6 789.5 365.2 793 368.6 787.5C372.1 782.1 372.1 783.6 377.5 778.7C382.9 773.8 380 776.2 384.9 772.8C389.8 769.3 386.8 770.9 392.3 768.3C397.7 765.7 394.7 766.1 401.1 764.9C407.5 763.8 405.1 764 411.5 764.9C417.9 765.9 413.9 766.6 420.3 767.9C426.7 769.2 423.3 767.6 430.7 768.9C438 770.3 434.6 768.9 442.5 771.9C450.3 774.8 447.3 773.6 454.3 777.8C461.3 782 457.9 779.6 463.4 784.6C469 789.6 466.4 786.8 470.8 792.7C475.3 798.6 473.7 795.7 476.7 802.3C479.8 808.9 478.7 806.2 480 812.6C481.3 819 481.2 816 480.6 821.5C480 827 480.5 824.7 478.2 829.2C475.9 833.7 477.8 831.9 473.8 835.1C469.7 838.3 471.6 837.1 466.1 838.8C460.6 840.5 463.1 840.3 457.2 840.3C451.3 840.3 452.3 838 448.4 838.8C444.4 839.5 446.8 839.3 445.4 842.5C444 845.7 446.2 845.4 444.2 848.4C442.3 851.3 444 849.6 439.5 851.3C435 853.1 436.1 853.6 430.7 853.7C425.2 853.7 427.7 853.7 423.3 851.5C418.8 849.2 422.3 849.9 417.4 846.9C412.4 843.9 414.4 845.2 408.5 842.5C402.6 839.8 405.5 840.7 399.6 838.8C393.7 836.8 396.7 837.8 390.8 836.6C384.9 835.3 387.8 835.8 381.9 835.1C376 834.4 379 835.1 373.1 834.4C367.2 833.6 369.1 834.6 364.2 832.9C359.3 831.2 361 833.5 358.3 829.2C355.6 824.9 356.3 826 356.1 820Z" fill="none" stroke="#7d8d9b" stroke-opacity="0.35" stroke-width="0.8"/>
</g>
<g filter="url(#soft)">
<path d="M491.1 820C491.3 815 490.3 816.6 492.6 809.7C494.8 802.8 493.5 806.2 497.7 799.4C501.9 792.5 499.2 795.4 505.1 789C511 782.6 508.1 785.3 515.4 780.2C522.8 775 518.9 777.2 527.3 773.5C535.6 769.8 531.7 771.3 540.5 769.1C549.4 766.9 546.5 768.6 553.8 766.9C561.2 765.1 557.2 764.9 562.7 763.9C568.2 762.9 565.5 762.2 570.4 763.9C575.3 765.6 572.6 766.1 577.5 769.1C582.3 772 579.9 769.1 584.9 772.8C589.8 776.5 588.3 775.2 592.2 780.2C596.2 785.1 592.7 783.6 596.7 787.5C600.6 791.5 599.5 787.5 604.1 792C608.6 796.4 606.7 794.4 610.3 800.8C613.8 807.2 613 804.3 614.7 811.2C616.4 818.1 616.3 816 615.3 821.5C614.3 827 615 825.1 611.7 827.7C608.5 830.3 610.5 828.2 605.5 829.2C600.5 830.2 602.1 829.4 596.7 830.7C591.3 831.9 594.7 830.9 589.3 832.9C583.9 834.8 586.3 833.9 580.4 836.6C574.5 839.3 577.5 838 571.6 841C565.7 843.9 568.6 842.5 562.7 845.4C556.8 848.4 559.7 847.1 553.8 849.9C547.9 852.6 550.4 852.9 545 853.7C539.6 854.5 542 854 537.6 852.2C533.2 850.4 535.1 851.1 531.7 848.4C528.2 845.6 528.2 846.9 527.3 843.9C526.3 841 530.7 841 528.7 839.5C526.8 838 527.7 839.6 521.4 839.5C515 839.4 516.4 840.2 509.5 839.2C502.6 838.2 505.6 839.4 500.7 836.6C495.8 833.7 497.7 834.6 494.8 830.7C491.8 826.7 493 828.3 491.8 824.8C490.6 821.2 490.8 825 491.1 820Z" fill="#c9d5de"/>
<g clip-path="url(#bc7)">
<path d="M569.8 763.6C571.8 762 572.3 765.2 577.5 768C582.7 770.9 580.2 768.2 585.4 772.2C590.7 776.1 589.4 774.7 593.1 779.9C596.9 785 596.4 782.5 596.7 787.5C597 792.6 595.9 790 594 794.9C592.1 799.8 593.5 797.9 591.1 802.3C588.6 806.7 589.2 804.7 586.6 808.2C584.1 811.8 585.4 813.4 583.4 812.9C581.3 812.4 581.9 811.3 580.4 806.7C578.9 802.2 580.9 803.3 578.9 799.4C577 795.4 578 796.9 574.5 794.9C571.1 793 570.8 795.9 568.6 793.4C566.4 791 567.1 792 567.9 787.5C568.6 783.1 569.6 785.1 570.8 780.2C572.1 775.2 571.9 778.3 571.6 772.8C571.2 767.3 567.8 765.2 569.8 763.6Z" fill="#e0280a"/>
<path d="M562.4 764.5C563.9 762.8 565.6 762.2 568.6 762.7C571.7 763.2 571.6 764 571.6 766C571.6 768 571.1 768.2 568.6 768.8C566.1 769.4 566.2 769.2 564.2 767.7C562.1 766.3 560.9 766.2 562.4 764.5Z" fill="#f3790f"/>
<path d="M563.1 799.4C563.1 797.3 564.3 796.5 568.6 795.5C572.9 794.5 572.4 794 576 796.2C579.5 798.5 577.7 797.8 579.2 802.3C580.8 806.8 580.7 805.3 580.7 809.7C580.7 814.1 581.2 812.1 579.2 815.6C577.3 819.1 577.9 817.8 574.8 820.3C571.8 822.9 572.2 823.9 570.1 823.3C568 822.7 567.6 822.1 568.6 818.5C569.6 815 571.3 817.1 573 812.6C574.8 808.2 575.3 808.9 573.8 805.3C572.3 801.6 572.2 803.7 568.6 801.7C565.1 799.7 563.1 801.4 563.1 799.4Z" fill="#fbbc0c"/>
<path d="M514 806C514.9 802.7 516.4 804.3 521.4 800.8C526.3 797.3 524 798.3 528.7 795.5C533.5 792.7 532.5 791.8 535.5 792.4C538.6 793 539.7 794.4 537.9 797.3C536.1 800.2 534.7 798.4 530.2 801.1C525.7 803.9 528.1 802.4 524.3 805.6C520.5 808.8 522.1 810.6 518.7 810.7C515.2 810.9 513.1 809.3 514 806Z" fill="#d91b06"/>
<path d="M489.7 820.8C491.9 819 492.1 819.9 497.7 819.9C503.3 819.8 501.2 819.1 506.6 820.6C512 822.1 508.6 822.2 514 824.5C519.4 826.7 516.9 825.9 522.8 827.4C528.7 828.9 527.4 827.4 531.7 828.9C536 830.4 536.1 829.3 535.7 831.8C535.3 834.4 535.3 833.9 530.5 836.6C525.7 839.2 528.3 838.8 521.4 839.8C514.4 840.8 516.4 840.5 509.5 839.5C502.6 838.5 505.7 839.7 500.7 836.9C495.7 834 497.6 834.8 494.5 831C491.3 827.1 492.8 828.6 491.2 825.2C489.6 821.8 487.6 822.5 489.7 820.8Z" fill="#f2700c"/>
<path d="M551.3 838.5C551.8 835.2 552.5 837 556.8 833.3C561.1 829.6 560.2 830.9 564.2 827.4C568.1 824 565.8 824.2 568.6 823C571.4 821.7 571.5 821.6 572.6 823.7C573.7 825.8 574.2 825.4 571.9 829.2C569.5 833 569.7 831.4 565.7 835.1C561.6 838.8 563.2 837.5 559.7 840.3C556.3 843 558.1 843.8 555.3 843.2C552.5 842.6 550.8 841.8 551.3 838.5Z" fill="#d91b06"/>
<path d="M586 812.6C585.5 811.1 586.7 810.3 590.8 810.3C594.8 810.3 593.2 810.4 598.1 812.6C603.1 814.9 601.5 816.7 605.5 817.1C609.6 817.5 607.9 812.8 610.3 813.8C612.6 814.8 612.4 816.6 612.6 820C612.9 823.4 613.4 823.7 611 824C608.6 824.3 609.8 823.2 605.5 820.9C601.2 818.6 602.6 819.2 598.1 817.2C593.7 815.3 596.3 816.5 592.2 815C588.2 813.5 586.5 814.2 586 812.6Z" fill="#d91b06"/>
<path d="M568.3 831.8C571.8 828.9 569.5 828.6 574.5 827.4C579.5 826.2 577.5 828.1 583.4 828.1C589.3 828.1 587.6 826.7 592.2 827.4C596.9 828.1 598.2 828.5 597.3 830.4C596.3 832.2 594.9 830.9 589.3 833C583.7 835.1 586.3 834 580.4 836.7C574.5 839.4 577.5 838.2 571.6 841.1C565.7 844.1 566.6 845.7 562.7 845.6C558.8 845.4 559.3 843.8 559.7 840.7C560.2 837.6 561.3 839.2 564.2 836.3C567 833.3 564.9 834.8 568.3 831.8Z" fill="#e9480c"/>
<path d="M546.2 849C548.4 845.8 548.3 846.7 553.8 843.7C559.4 840.7 557.7 841.7 562.7 840C567.7 838.2 568.8 836.7 568.9 838.5C569 840.3 568 841.5 563 845.4C558 849.4 559.1 847.7 553.8 850.3C548.6 852.9 549.8 853.5 547.2 853.1C544.6 852.7 543.9 852.1 546.2 849Z" fill="#ffe91a"/>
<path d="M538 851.3C539.5 849.7 540.6 848.4 543.5 848.1C546.4 847.8 546.2 848.5 546.8 850.4C547.3 852.4 547.8 853.1 545.3 854C542.7 854.9 541.5 854 539.1 853.1C536.7 852.2 536.6 853 538 851.3Z" fill="#f3790f"/>
<path d="M518.7 817.1C519.7 812.6 518.5 813.6 524.3 808.2C530.1 802.8 527.3 804.2 536.1 800.8C545 797.5 542 798.2 550.9 798.2C559.7 798.2 555.8 797.5 562.7 800.8C569.6 804.2 568.6 802.8 571.6 808.2C574.5 813.6 574 812.1 571.6 817.1C569.1 822 570.1 821 564.2 823C558.3 824.9 560.2 824 553.8 823C547.4 822 550.9 821 545 820C539.1 819 542 819 536.1 820C530.2 821 532.2 822.5 527.3 823C522.3 823.5 524.2 823.5 521.4 821.5C518.5 819.5 517.7 821.5 518.7 817.1Z" fill="#dbe4eb"/>
<g filter="url(#soft2)">
<path d="M514 824.5C514.1 820.5 511.3 820 514.3 812.6C517.2 805.3 515.5 808.1 522.8 802.3C530.1 796.5 526.8 798.2 536.1 795.2C545.5 792.3 541.5 793 550.9 793.4C560.2 793.9 556.7 792.8 564.2 796.7C571.7 800.6 570.3 802.4 573.3 805.3" fill="none" stroke="#8b9caa" stroke-width="2.8" stroke-opacity="0.4675" stroke-linecap="round"/>
<path d="M505.1 789C508.6 790 508.1 793 515.4 792C522.8 791 518.4 789.5 527.3 786.1C536.1 782.6 532.2 782.9 542 781.6C551.9 780.4 548.2 780.4 556.8 782.4C565.4 784.3 564.2 785.8 567.9 787.5" fill="none" stroke="#8b9caa" stroke-width="2.4" stroke-opacity="0.4675" stroke-linecap="round"/>
<path d="M497.7 799.4C500.2 801.3 501.2 799.4 505.1 805.3C509 811.2 506.6 810.7 509.5 817.1C512.5 823.5 512.5 822 514 824.5" fill="none" stroke="#8b9caa" stroke-width="2" stroke-opacity="0.4675" stroke-linecap="round"/>
<path d="M521.4 821.5C524.3 823.5 524.3 823 530.2 827.4C536.1 831.8 534.1 830.4 539.1 834.8C544 839.2 540.9 839.5 545 840.7C549.1 841.9 549.2 839.2 551.3 838.5" fill="none" stroke="#8b9caa" stroke-width="2.2" stroke-opacity="0.4675" stroke-linecap="round"/>
<path d="M536.1 820C540.1 821.5 540.1 823.5 547.9 824.5C555.8 825.4 552.9 824.9 559.7 823C566.6 821 565.7 820 568.6 818.5" fill="none" stroke="#8b9caa" stroke-width="2" stroke-opacity="0.4675" stroke-linecap="round"/>
<path d="M596.7 787.5C597.2 791.5 599.6 792.5 598.1 799.4C596.7 806.2 596.2 803.8 592.2 808.2C588.3 812.6 588.3 811.2 586.3 812.6" fill="none" stroke="#8b9caa" stroke-width="2.2" stroke-opacity="0.4675" stroke-linecap="round"/>
<path d="M604.1 792C604.5 796.4 605 796.9 605.5 805.3C606 813.6 605.5 813.1 605.5 817.1" fill="none" stroke="#8b9caa" stroke-width="2" stroke-opacity="0.4675" stroke-linecap="round"/>
<path d="M577.5 769.1C578.5 773.8 577.5 774 580.4 783.1C583.4 792.2 582.8 790 586.3 796.4C589.9 802.8 589.5 800.3 591.1 802.3" fill="none" stroke="#9a1003" stroke-width="2.2" stroke-opacity="0.34" stroke-linecap="round"/>
</g>
<rect x="489.1" y="761.9" width="128.2" height="93.8" fill="url(#bshade)"/>
</g>
<path d="M491.1 820C491.3 815 490.3 816.6 492.6 809.7C494.8 802.8 493.5 806.2 497.7 799.4C501.9 792.5 499.2 795.4 505.1 789C511 782.6 508.1 785.3 515.4 780.2C522.8 775 518.9 777.2 527.3 773.5C535.6 769.8 531.7 771.3 540.5 769.1C549.4 766.9 546.5 768.6 553.8 766.9C561.2 765.1 557.2 764.9 562.7 763.9C568.2 762.9 565.5 762.2 570.4 763.9C575.3 765.6 572.6 766.1 577.5 769.1C582.3 772 579.9 769.1 584.9 772.8C589.8 776.5 588.3 775.2 592.2 780.2C596.2 785.1 592.7 783.6 596.7 787.5C600.6 791.5 599.5 787.5 604.1 792C608.6 796.4 606.7 794.4 610.3 800.8C613.8 807.2 613 804.3 614.7 811.2C616.4 818.1 616.3 816 615.3 821.5C614.3 827 615 825.1 611.7 827.7C608.5 830.3 610.5 828.2 605.5 829.2C600.5 830.2 602.1 829.4 596.7 830.7C591.3 831.9 594.7 830.9 589.3 832.9C583.9 834.8 586.3 833.9 580.4 836.6C574.5 839.3 577.5 838 571.6 841C565.7 843.9 568.6 842.5 562.7 845.4C556.8 848.4 559.7 847.1 553.8 849.9C547.9 852.6 550.4 852.9 545 853.7C539.6 854.5 542 854 537.6 852.2C533.2 850.4 535.1 851.1 531.7 848.4C528.2 845.6 528.2 846.9 527.3 843.9C526.3 841 530.7 841 528.7 839.5C526.8 838 527.7 839.6 521.4 839.5C515 839.4 516.4 840.2 509.5 839.2C502.6 838.2 505.6 839.4 500.7 836.6C495.8 833.7 497.7 834.6 494.8 830.7C491.8 826.7 493 828.3 491.8 824.8C490.6 821.2 490.8 825 491.1 820Z" fill="none" stroke="#7d8d9b" stroke-opacity="0.35" stroke-width="0.8"/>
</g>
<g filter="url(#soft)">
<path d="M664.6 717.1C664.4 711.1 664.4 713.1 666.1 706.7C667.8 700.3 666.6 703.8 669.8 697.9C673 692 671.2 694.4 675.7 689C680.1 683.6 677.6 686.3 683.1 681.6C688.5 677 685.5 678.7 691.9 675C698.3 671.3 695.4 673.3 702.3 670.6C709.1 667.8 706.2 668.6 712.6 666.9C719 665.1 716 666.7 721.5 665.4C726.9 664.1 723.4 664.1 728.8 663C734.3 661.9 732.2 661.9 737.7 662.1C743.2 662.3 740.5 661.8 745.4 663.6C750.3 665.4 747.6 664.4 752.5 667.5C757.3 670.5 754.9 669 759.9 672.8C764.8 676.5 762.7 674.2 767.2 678.7C771.8 683.1 769.4 680.6 773.4 686.1C777.5 691.5 775.9 689 779.3 694.9C782.8 700.8 781.3 697.9 783.8 703.8C786.2 709.7 785.5 707.2 786.7 712.6C788 718.1 788.1 715.5 787.6 720C787.1 724.6 787.6 722.7 785.3 726.2C782.9 729.8 784.6 729.4 780.5 730.7C776.5 731.9 778.1 730.9 773.1 729.9C768.2 728.9 770.2 728.9 765.8 727.7C761.3 726.5 763.3 725.2 759.9 726.2C756.4 727.2 758.9 728.2 755.4 730.7C752 733.1 754.4 731.2 749.5 733.6C744.6 736.1 746.6 735.1 740.7 738C734.7 741 737.7 739.5 731.8 742.5C725.9 745.4 728.3 744.4 722.9 746.9C717.5 749.4 720 749.2 715.5 750C711.1 750.8 713.6 750.3 709.6 749.3C705.7 748.2 707.2 749.2 703.7 746.9C700.3 744.6 700.8 745.9 699.3 742.5C697.8 739 700.8 739 699.3 736.6C697.8 734.1 698.8 735.1 694.9 735.1C690.9 735.1 692.9 736.6 687.5 736.6C682.1 736.6 684 736.8 678.6 735.1C673.2 733.4 675.2 734.8 671.2 731.4C667.3 728 669 729.5 666.8 724.8C664.6 720 664.8 723.1 664.6 717.1Z" fill="#c9d5de"/>
<g clip-path="url(#bc8)">
<path d="M663.9 717.1C664.5 711.9 665 714.6 668 709.7C670.9 704.8 669.7 707.2 672.7 702.3C675.8 697.4 673.2 698.6 677.2 694.9C681.1 691.2 679.6 693.7 684.5 691.2C689.5 688.8 687.6 688 691.9 687.5C696.2 687 694.8 686.8 697.4 689.8C699.9 692.7 699.5 692.7 699.6 696.4C699.7 700.1 700.4 697.9 697.8 700.8C695.3 703.8 695.4 702.3 691.9 705.3C688.5 708.2 690 706.7 687.5 709.7C685 712.6 686 711.2 684.5 714.1C683.1 717.1 685 716.1 683.1 718.5C681.1 721 681.1 719.5 678.6 721.5C676.2 723.5 677.2 721.9 675.7 724.5C674.2 727 676.2 727 674.2 729.2C672.2 731.3 672.5 732.3 669.8 731C667 729.6 667.9 729.8 665.9 725.2C664 720.6 663.2 722.2 663.9 717.1Z" fill="#d91b06"/>
<path d="M684.2 714.9C685.2 711.4 685.7 711.9 689 709.7C692.3 707.5 691.3 707.2 694.1 708.2C696.9 709.2 697 709.7 697.4 712.6C697.7 715.6 696.2 713.5 695.2 717.1C694.1 720.6 696.4 721 694.3 723.3C692.2 725.6 691.7 725.1 689 724C686.2 722.9 687.6 723.1 686 720C684.4 717 683.3 718.3 684.2 714.9Z" fill="#ffd800"/>
<path d="M669.5 731.4C670.9 729.8 671.1 729.2 675.7 728.9C680.2 728.5 678.1 730.4 683.1 730.4C688 730.4 686.5 731.3 690.4 728.9C694.4 726.4 692.4 723.5 694.9 723C697.3 722.5 695.3 724.8 697.8 727.4C700.4 730 702 727.5 702.6 730.7C703.1 733.8 702.7 735.1 699.6 736.9C696.5 738.6 697.4 735.8 693.4 735.8C689.4 735.9 692.4 737.1 687.5 737C682.6 736.9 683.9 736.7 678.6 735.5C673.3 734.4 674.6 735 671.5 733.6C668.5 732.2 668.1 733 669.5 731.4Z" fill="#ffd800"/>
<path d="M681.3 735.8C682.3 734.9 685.8 734.9 690.4 735.1C695.1 735.2 696.2 735.4 695.2 736.3C694.2 737.2 692.1 737.9 687.5 737.7C682.9 737.6 680.3 736.7 681.3 735.8Z" fill="#d91b06"/>
<path d="M721.9 665.4C725.3 661.4 725 662.9 728.8 662.4C732.7 661.9 732.6 661 733.6 663.9C734.5 666.9 733.9 666.9 731.8 671.3C729.7 675.7 729.8 672.8 727.4 677.2C724.9 681.6 726.4 679.7 724.4 684.6C722.4 689.5 723.4 686.6 721.5 692C719.5 697.4 720 695.4 718.5 700.8C717 706.2 719 703.2 717 708.2C715.1 713.2 715.6 712.5 712.6 715.9C709.5 719.2 709.6 720.3 707.9 718.3C706.1 716.2 707.2 715.5 707.3 709.7C707.4 703.9 707.4 706.2 708.2 700.8C709 695.4 708.7 697.9 709.6 693.4C710.6 689 710.9 690.7 711.1 687.5C711.3 684.3 708.8 685.8 710.2 683.8C711.7 681.9 712.8 684.8 715.5 681.6C718.3 678.4 716.4 679.7 718.5 674.2C720.6 668.8 718.5 669.3 721.9 665.4Z" fill="#e9480c"/>
<path d="M733 663.9C735.4 660.7 734.9 661.7 739.2 661.5C743.4 661.3 744.2 660.1 745.7 663.3C747.2 666.6 745.3 666.7 743.6 671.3C741.9 675.9 742.1 673.3 740.7 677.2C739.2 681.1 741.1 679.7 739.2 683.1C737.2 686.6 737.2 684.1 734.7 687.5C732.3 691 733.3 689 731.8 693.4C730.3 697.9 732.3 696.4 730.3 700.8C728.3 705.3 728.8 703.3 725.9 706.7C722.9 710.2 724.4 709.1 721.5 711.2C718.5 713.2 718.5 713.9 717 712.9C715.5 712 716.5 712.2 717 708.2C717.5 704.2 717 706.2 718.5 700.8C720 695.4 719.5 697.4 721.5 692C723.4 686.6 722.4 689.5 724.4 684.6C726.4 679.7 724.9 681.6 727.4 677.2C729.8 672.8 729.9 675.7 731.8 671.3C733.7 666.9 730.5 667.2 733 663.9Z" fill="#d91b06"/>
<path d="M731.5 693.4C734 688 733.7 689.5 737.7 686.1C741.7 682.6 739.2 683.6 743.6 683.1C748 682.6 747.9 681.6 751 684.6C754 687.5 752.5 687 752.8 692C753.1 696.9 751.6 694.9 751.9 699.4C752.1 703.8 754.3 702.2 753.5 705.3C752.7 708.3 752.8 708 749.5 708.5C746.2 709 747.1 706.5 743.6 706.7C740.2 706.9 742.1 709.1 739.2 709.1C736.2 709.1 737.7 709 734.7 706.7C731.8 704.5 731.4 706.7 730.3 702.3C729.2 697.9 729 698.9 731.5 693.4Z" fill="#d91b06"/>
<path d="M743.3 671.3C744.4 667.3 741.6 665.2 744.8 663.6C747.9 662 747.5 663.8 752.8 666.6C758 669.3 755.3 668 760.4 671.9C765.6 675.7 763.5 673.6 768.1 678.1C772.7 682.6 770.3 680.1 774.3 685.5C778.4 690.9 777.9 689.2 780.2 694.3C782.6 699.4 782.8 697.6 781.4 700.8C780 704.1 778.9 705.6 776.1 704.1C773.3 702.6 775.6 701.9 773.1 696.4C770.7 690.9 772.2 692.5 768.7 687.5C765.3 682.6 766.3 683.1 762.8 681.6C759.4 680.2 761.3 681.8 758.4 683.1C755.4 684.4 756.4 685 753.9 685.5C751.5 686 754.4 685.4 751 684.6C747.5 683.8 747.3 684.6 743.6 683.1C739.9 681.6 740.7 682.6 739.9 680.2C739.2 677.7 740.3 678.7 741.4 675.7C742.5 672.8 742.2 675.3 743.3 671.3Z" fill="#f6960c"/>
<path d="M699 741C699.1 737 698.2 738.3 700.8 733.3C703.3 728.3 702.3 730.4 706.7 725.9C711.1 721.5 709.1 723.5 714.1 720C719 716.6 717.5 717.6 721.5 715.6C725.4 713.6 722.9 715.3 725.9 714.1C728.8 712.9 726.4 713.9 730.3 711.9C734.3 709.9 733.3 710.9 737.7 708.2C742.1 705.5 739.6 705 743.6 703.8C747.6 702.5 747.3 703 749.8 704.5C752.4 706 752.9 706.5 751.3 708.2C749.7 709.9 748.6 708.2 745.1 709.7C741.5 711.2 743.6 710.2 740.7 712.6C737.7 715.1 740.2 714.1 736.2 717.1C732.3 720 733.8 718.5 728.8 721.5C723.9 724.5 726.4 723 721.5 725.9C716.5 728.9 718 726.9 714.1 730.4C710.1 733.8 712.6 732.3 709.6 736.3C706.7 740.2 707.2 738.6 705.2 742.2C703.2 745.7 705.3 745.8 703.7 746.9C702.2 748 702.1 747.4 700.5 745.4C698.9 743.5 698.9 745 699 741Z" fill="#f28c0e"/>
<path d="M736.7 716.5C738.1 713.7 738.8 713.7 743.6 711.2C748.4 708.7 747.4 709.4 751 708.9C754.5 708.5 754.7 707.9 754.2 709.7C753.7 711.5 753.1 711.9 749.5 714.4C746 717 747.1 715.6 743.6 717.4C740.2 719.1 741.5 719.9 739.2 719.6C736.9 719.3 735.2 719.3 736.7 716.5Z" fill="#d91b06"/>
<path d="M707.9 745.4C710.4 742.6 711 743.8 717 740.7C723 737.6 720.5 739.2 725.9 736.3C731.3 733.3 728.3 734.3 733.3 731.8C738.2 729.4 735.7 731.3 740.7 728.9C745.6 726.4 743.1 727.4 748 724.5C753 721.5 751.4 722.6 755.4 720C759.5 717.5 758.3 716.3 760.1 716.8C762 717.3 762 717.9 760.9 721.5C759.8 725.1 760.7 723.6 756.9 727.7C753.1 731.8 754.9 730.3 749.5 733.8C744.1 737.3 746.6 735.2 740.7 738.2C734.7 741.1 737.7 739.7 731.8 742.6C725.9 745.6 728.3 744.4 722.9 747.1C717.5 749.7 720.1 749.7 715.5 750.4C711 751.2 711.9 750.9 709.3 749.3C706.8 747.6 705.3 748.3 707.9 745.4Z" fill="#ffd800"/>
<path d="M698.1 740.7C698.6 742 698.9 744 702.3 746.9C705.6 749.8 707.2 749.9 708.2 749.3C709.1 748.7 707.7 747.2 705.2 745.1C702.7 743 703.1 744.4 700.8 742.9C698.4 741.4 697.6 739.4 698.1 740.7Z" fill="#e9480c"/>
<g filter="url(#soft2)">
<path d="M675.7 689C679.6 688 679.6 689 687.5 686.1C695.4 683.1 691.4 680.9 699.3 680.2C707.2 679.4 707.2 682.6 711.1 683.8" fill="none" stroke="#8b9caa" stroke-width="2.2" stroke-opacity="0.4675" stroke-linecap="round"/>
<path d="M691.9 675C694.4 677.7 694.9 677 699.3 683.1C703.7 689.3 702.5 684.6 705.2 693.4C707.9 702.3 706.7 704.3 707.4 709.7" fill="none" stroke="#8b9caa" stroke-width="2.2" stroke-opacity="0.4675" stroke-linecap="round"/>
<path d="M697.8 700.8C699.8 702.8 700.4 700.9 703.7 706.7C707.1 712.5 706.5 714.4 707.9 718.3" fill="none" stroke="#8b9caa" stroke-width="2" stroke-opacity="0.4675" stroke-linecap="round"/>
<path d="M696.4 714.1C697.3 717.1 697.2 717.5 699.3 723C701.4 728.5 701.5 728.1 702.6 730.7" fill="none" stroke="#8b9caa" stroke-width="2" stroke-opacity="0.4675" stroke-linecap="round"/>
<path d="M752.5 685.3C754.4 688.5 754.9 687.8 758.4 694.9C761.8 702.1 759.9 699.4 762.8 706.7C765.8 714.1 763.8 712.6 767.2 717.1C770.7 721.5 771.2 719 773.1 720" fill="none" stroke="#8b9caa" stroke-width="2.4" stroke-opacity="0.4675" stroke-linecap="round"/>
<path d="M758.4 683.1C761.3 686.6 762.3 685.6 767.2 693.4C772.2 701.3 768.7 699.8 773.1 706.7C777.6 713.6 778.1 711.7 780.5 714.1" fill="none" stroke="#8b9caa" stroke-width="2.2" stroke-opacity="0.4675" stroke-linecap="round"/>
<path d="M751.3 708.2C753.6 709.2 753.6 707.2 758.4 711.2C763.2 715.1 762.8 714.6 765.8 720C768.7 725.4 766.7 724.9 767.2 727.4" fill="none" stroke="#8b9caa" stroke-width="2.2" stroke-opacity="0.4675" stroke-linecap="round"/>
<path d="M705.2 742.5C708.2 740.4 707.2 740.3 714.1 736.3C721 732.2 718 734.3 725.9 730.4C733.8 726.4 729.8 728.9 737.7 724.5C745.6 720 742.6 720.5 749.5 717.1C756.4 713.6 755.4 715.1 758.4 714.1" fill="none" stroke="#8b9caa" stroke-width="2.4" stroke-opacity="0.4675" stroke-linecap="round"/>
<path d="M780.5 700.8C781.5 704.3 783.5 703.8 783.5 711.2C783.5 718.5 781.5 719 780.5 723" fill="none" stroke="#8b9caa" stroke-width="2" stroke-opacity="0.4675" stroke-linecap="round"/>
<path d="M722.9 680.2C721.9 684.1 721.9 683.6 720 692C718 700.3 718 700.8 717 705.3" fill="none" stroke="#9a1003" stroke-width="2.2" stroke-opacity="0.34" stroke-linecap="round"/>
<path d="M669.8 714.1C672.2 712.1 672.2 712.1 677.2 708.2C682.1 704.3 679.6 705.3 684.5 702.3C689.5 699.4 689.5 700.3 691.9 699.4" fill="none" stroke="#9a1003" stroke-width="2" stroke-opacity="0.2975" stroke-linecap="round"/>
</g>
<rect x="662.6" y="660.1" width="127" height="91.9" fill="url(#bshade)"/>
</g>
<path d="M664.6 717.1C664.4 711.1 664.4 713.1 666.1 706.7C667.8 700.3 666.6 703.8 669.8 697.9C673 692 671.2 694.4 675.7 689C680.1 683.6 677.6 686.3 683.1 681.6C688.5 677 685.5 678.7 691.9 675C698.3 671.3 695.4 673.3 702.3 670.6C709.1 667.8 706.2 668.6 712.6 666.9C719 665.1 716 666.7 721.5 665.4C726.9 664.1 723.4 664.1 728.8 663C734.3 661.9 732.2 661.9 737.7 662.1C743.2 662.3 740.5 661.8 745.4 663.6C750.3 665.4 747.6 664.4 752.5 667.5C757.3 670.5 754.9 669 759.9 672.8C764.8 676.5 762.7 674.2 767.2 678.7C771.8 683.1 769.4 680.6 773.4 686.1C777.5 691.5 775.9 689 779.3 694.9C782.8 700.8 781.3 697.9 783.8 703.8C786.2 709.7 785.5 707.2 786.7 712.6C788 718.1 788.1 715.5 787.6 720C787.1 724.6 787.6 722.7 785.3 726.2C782.9 729.8 784.6 729.4 780.5 730.7C776.5 731.9 778.1 730.9 773.1 729.9C768.2 728.9 770.2 728.9 765.8 727.7C761.3 726.5 763.3 725.2 759.9 726.2C756.4 727.2 758.9 728.2 755.4 730.7C752 733.1 754.4 731.2 749.5 733.6C744.6 736.1 746.6 735.1 740.7 738C734.7 741 737.7 739.5 731.8 742.5C725.9 745.4 728.3 744.4 722.9 746.9C717.5 749.4 720 749.2 715.5 750C711.1 750.8 713.6 750.3 709.6 749.3C705.7 748.2 707.2 749.2 703.7 746.9C700.3 744.6 700.8 745.9 699.3 742.5C697.8 739 700.8 739 699.3 736.6C697.8 734.1 698.8 735.1 694.9 735.1C690.9 735.1 692.9 736.6 687.5 736.6C682.1 736.6 684 736.8 678.6 735.1C673.2 733.4 675.2 734.8 671.2 731.4C667.3 728 669 729.5 666.8 724.8C664.6 720 664.8 723.1 664.6 717.1Z" fill="none" stroke="#7d8d9b" stroke-opacity="0.35" stroke-width="0.8"/>
</g>
<g filter="url(#soft)">
<path d="M803.1 717.1C803.4 713.1 802.4 714.1 804.6 709.7C806.8 705.3 807.1 708.2 809.8 703.8C812.5 699.4 811.2 701.3 812.7 696.4C814.2 691.5 811.2 693.4 814.2 689C817.2 684.6 817.6 687.5 821.6 683.1C825.5 678.7 821.6 679.7 826 675.7C830.4 671.8 830 674.5 834.9 671.3C839.8 668.1 836.4 668.9 840.8 666.1C845.2 663.3 843.2 663.5 848.2 662.9C853.1 662.3 851.1 663.5 855.5 664.4C860 665.2 856.5 664.3 861.5 665.4C866.4 666.5 864.4 666.4 870.3 667.6C876.2 668.8 872.8 667.4 879.2 669.1C885.6 670.8 883.1 669.8 889.5 672.8C895.9 675.7 892.5 674 898.4 677.9C904.3 681.9 901.7 679.7 907.2 684.6C912.7 689.5 910.4 686.8 914.9 692.7C919.4 698.6 917.6 696.2 920.8 702.3C924 708.5 923 705.3 924.5 711.2C926 717.1 926 714.5 925.3 720C924.5 725.5 924.3 723.7 922.3 727.7C920.3 731.7 923.4 729.7 919.3 732.1C915.3 734.6 916.2 733.6 910.2 735.1C904.2 736.6 907.2 736.3 901.3 736.6C895.4 736.8 895.8 734.4 892.5 735.8C889.1 737.3 892.7 738 891.3 741C889.9 743.9 891.4 742.7 888.3 744.7C885.3 746.7 885.7 744.9 882.1 746.9C878.6 748.9 881.1 748.8 877.7 750.6C874.3 752.4 876.2 753 871.8 752.2C867.4 751.5 869.3 751.1 864.4 748.4C859.5 745.6 861.9 746.9 857 743.9C852.1 741 855.1 742.5 849.6 739.5C844.2 736.6 846.2 737.5 840.8 735.1C835.4 732.6 838.3 733.6 833.4 732.1C828.5 730.7 831.4 731.9 826 730.7C820.6 729.4 823.1 729.9 817.2 728.4C811.2 727 812.7 728.5 808.3 726.2C803.9 723.9 805.6 724.6 803.9 721.5C802.1 718.5 802.9 721 803.1 717.1Z" fill="#c9d5de"/>
<g clip-path="url(#bc9)">
<path d="M811.5 701.1C811.1 697.6 809.9 696.4 813 690.2C816.2 684 816.9 687.5 821 682.5C825.1 677.5 820.9 679.2 825.4 675.1C830 671.1 829.6 673.7 834.6 670.4C839.6 667.1 836 668 840.5 665.2C845 662.4 843 662.1 848.2 662C853.3 661.8 853.1 661.2 855.8 664.8C858.6 668.4 855.1 668.6 856.4 672.8C857.8 676.9 857.3 673.8 860 677.2C862.6 680.6 861.9 679.2 864.4 683.1C866.9 687 865.4 684.6 867.4 689C869.3 693.4 868.8 691.5 870.3 696.4C871.8 701.3 870.7 699.1 871.8 703.8C872.9 708.5 874.5 707.5 873.6 710.6C872.6 713.6 871.9 713.7 868.8 712.9C865.8 712.1 866.6 711.3 864.4 708.2C862.2 705.2 862.7 707.7 862.2 703.8C861.7 699.8 863.7 701.3 862.9 696.4C862.2 691.5 862.9 693 860 689C857 685.1 858 686.3 854.1 684.6C850.1 682.9 851.6 682.9 848.2 683.8C844.7 684.8 846.2 684.8 843.7 687.5C841.3 690.2 843.2 692 840.8 692C838.3 692 839.8 690.2 836.4 687.5C832.9 684.8 834.4 684.6 830.4 683.8C826.5 683.1 828.2 683.4 824.5 685.3C820.8 687.3 822.3 686.6 819.4 689.8C816.4 693 817.4 691.2 815.7 694.9C814 698.6 815.6 698.8 814.2 700.8C812.8 702.9 811.9 704.7 811.5 701.1Z" fill="#d91b06"/>
<path d="M813.9 707C812.9 702.7 813.9 702.2 815.7 696.4C817.5 690.6 816.4 693.4 819.4 689.8C822.3 686.1 820.6 687.3 824.5 685.3C828.5 683.4 827 683.1 831.2 683.8C835.4 684.6 833.9 684.3 837.1 687.5C840.3 690.7 839.1 689 840.8 693.4C842.5 697.9 840.3 696.4 842.3 700.8C844.2 705.3 843.6 702.3 846.7 706.7C849.7 711.2 850.9 710.6 851.4 714.1C851.9 717.7 851.2 717.3 848.2 717.4C845.1 717.5 846.7 716.4 842.3 714.4C837.8 712.4 838.8 711.5 834.9 711.5C830.9 711.5 833.9 714.4 830.4 714.4C827 714.4 828.5 713.2 824.5 711.5C820.6 709.7 822.2 710.7 818.6 709.2C815.1 707.8 814.9 711.3 813.9 707Z" fill="#e9480c"/>
<path d="M830.1 726.2C829.4 721.1 829.6 721.8 831.2 717.1C832.8 712.3 831.2 712.6 834.9 711.9C838.6 711.2 837.3 712.6 842.3 714.9C847.2 717.1 844.7 715.3 849.6 718.5C854.6 721.7 851.6 720.5 857 724.5C862.4 728.4 860 726.4 865.9 730.4C871.8 734.3 869.3 732.3 874.7 736.3C880.2 740.2 879.1 738.6 882.1 742.2C885.2 745.7 885.4 743.9 883.9 746.9C882.4 749.9 881.7 749.1 877.7 751C873.7 753 876.2 753.4 871.8 752.7C867.4 751.9 869.3 751.6 864.4 748.8C859.5 746.1 861.9 747.3 857 744.4C852.1 741.4 855.1 742.9 849.6 740C844.2 737 846.2 738 840.8 735.5C835.4 733.1 836.9 735.7 833.4 732.6C829.9 729.5 830.9 731.4 830.1 726.2Z" fill="#ee600c"/>
<path d="M846.4 707.5C847.9 705 849.5 705.5 854.1 706.7C858.6 708 855.1 708.5 860 711.2C864.9 713.9 862.9 712.4 868.8 714.9C874.7 717.3 872.8 715.3 877.7 718.5C882.6 721.7 880.2 720 883.6 724.5C887.1 728.9 885.5 726.9 888 731.8C890.6 736.8 891.1 734.9 891.3 739.2C891.5 743.6 891.2 742.7 888.6 744.8C886.1 747 886.3 748.1 883.6 745.7C880.9 743.4 883.6 741.9 880.7 737.7C877.7 733.6 879.2 736.8 874.7 733.3C870.3 729.9 872.3 730.9 867.4 727.4C862.4 724 864.4 725.9 860 723C855.5 720 857.5 721.5 854.1 718.5C850.6 715.6 852.2 717.8 849.6 714.1C847.1 710.4 844.9 709.9 846.4 707.5Z" fill="#f28c0e"/>
<path d="M855.3 707.3C856.2 706.6 856.9 706.9 861.5 708.9C866 711 863.4 710.4 868.8 713.4C874.3 716.4 872.8 715.2 877.7 718C882.6 720.8 879.7 722.1 883.6 721.8C887.5 721.5 886.2 719.1 889.5 717.1C892.8 715 892.4 714.1 893.5 715.6C894.6 717.1 894.5 717 892.8 721.5C891 726 890.8 728.1 888.3 729.2C885.9 730.3 887.7 727.6 885.4 724.8C883.1 721.9 884.9 722.8 881.4 720.8C877.8 718.7 879.9 720.5 874.7 718.5C869.6 716.6 871.3 717.3 865.9 714.9C860.5 712.4 862 713.7 858.5 711.2C855 708.7 854.3 708.1 855.3 707.3Z" fill="#d91b06"/>
<path d="M876.7 681.6C876.9 678.4 877.6 677.7 881.4 677.2C885.2 676.7 883.4 677.9 888 680.2C892.7 682.4 892.1 681.1 895.4 683.8C898.7 686.6 898.4 685.3 897.9 688.3C897.4 691.3 896.8 690.1 893.9 692.9C891.1 695.6 892 694.3 889.5 696.5C887.1 698.8 888.5 699.7 886.6 699.6C884.6 699.6 885.8 698.7 883.6 696.4C881.4 694.1 880.9 695.9 879.9 692.7C878.9 689.5 881.7 690.5 880.7 686.8C879.6 683.1 876.4 684.8 876.7 681.6Z" fill="#f28c0e"/>
<path d="M887.7 697.9C889.2 694.9 889.4 694.7 893.9 693.4C898.5 692.2 895.9 693.7 901.3 694.2C906.7 694.7 905.2 692.7 910.2 694.9C915.2 697.1 912.7 696.4 916.4 700.8C920 705.3 918.3 703.3 921.1 708.2C924 713.1 923.9 710.7 925 715.6C926 720.5 926 718.4 924.4 723C922.7 727.6 924.2 727.9 919.9 729.5C915.7 731.1 916.9 728.3 911.7 727.7C906.4 727.1 908.7 728 904.3 727.7C899.9 727.5 901.9 728.5 898.4 727C894.8 725.4 893.6 723.6 893.6 723C893.6 722.4 894.8 725.2 898.4 725.2C901.9 725.2 901.8 725.7 904.3 723C906.7 720.3 906.3 721 905.8 717.1C905.3 713.1 905.3 714.1 902.8 711.2C900.3 708.2 901.3 710.2 898.4 708.2C895.4 706.2 896.9 707.2 893.9 705.3C891 703.3 891.6 704.8 889.5 702.3C887.4 699.8 886.3 700.8 887.7 697.9Z" fill="#d91b06"/>
<path d="M887.7 730.4C888.7 726.8 888.9 724.1 892.5 723C896 721.9 893.5 725.4 898.4 727.1C903.3 728.8 901.3 727.3 907.2 728.1C913.1 729 911.9 728.1 916.1 729.6C920.3 731.2 921.9 730.7 919.9 732.7C918 734.8 916.4 734.3 910.2 735.8C904 737.4 907.2 737.1 901.3 737.3C895.4 737.5 896.4 737.6 892.5 736.4C888.5 735.2 891.1 735.6 889.5 733.6C887.9 731.6 886.8 733.9 887.7 730.4Z" fill="#f28c0e"/>
<g filter="url(#soft2)">
<path d="M855.5 664.8C857.5 667.9 857 668.6 861.5 674.2C865.9 679.9 864.4 675.7 868.8 681.6C873.3 687.5 871.8 685.1 874.7 692C877.7 698.9 874.7 696.4 877.7 702.3C880.7 708.2 881.6 707.2 883.6 709.7" fill="none" stroke="#8b9caa" stroke-width="2.4" stroke-opacity="0.4675" stroke-linecap="round"/>
<path d="M870.3 667.6C872.8 670.3 875.6 671 877.7 675.7C879.8 680.4 877 679.7 876.7 681.6" fill="none" stroke="#8b9caa" stroke-width="2" stroke-opacity="0.4675" stroke-linecap="round"/>
<path d="M889.5 672.8C892.5 676.2 892.5 676.7 898.4 683.1C904.3 689.5 902.3 687 907.2 692C912.2 696.9 911.2 695.9 913.1 697.9" fill="none" stroke="#8b9caa" stroke-width="2.2" stroke-opacity="0.4675" stroke-linecap="round"/>
<path d="M877.7 702.3C880.7 702.3 880.7 700.3 886.6 702.3C892.5 704.3 890.5 703.3 895.4 708.2C900.3 713.1 900.3 711.4 901.3 717.1C902.3 722.7 899.4 722.5 898.4 725.2" fill="none" stroke="#8b9caa" stroke-width="2.4" stroke-opacity="0.4675" stroke-linecap="round"/>
<path d="M843.7 687.5C844.2 691 841.8 693 845.2 697.9C848.7 702.8 849.1 701.3 854.1 702.3C859 703.3 857.3 700.3 860 700.8C862.7 701.3 861.5 702.8 862.2 703.8" fill="none" stroke="#8b9caa" stroke-width="2.4" stroke-opacity="0.4675" stroke-linecap="round"/>
<path d="M803.9 721.5C807.3 720 807.3 717.6 814.2 717.1C821.1 716.6 819.1 717.1 824.5 720C830 723 828.5 724 830.4 725.9" fill="none" stroke="#8b9caa" stroke-width="2.2" stroke-opacity="0.4675" stroke-linecap="round"/>
<path d="M809.8 703.8C811.2 705.3 812.8 704.8 814.2 708.2C815.6 711.7 811.4 711.2 813.9 714.1C816.4 717.1 819 716.1 821.6 717.1" fill="none" stroke="#8b9caa" stroke-width="2" stroke-opacity="0.4675" stroke-linecap="round"/>
<path d="M808.3 726.2C811.7 725.1 812.2 722.6 818.6 723C825 723.4 824.5 725.9 827.5 727.4" fill="none" stroke="#8b9caa" stroke-width="2" stroke-opacity="0.4675" stroke-linecap="round"/>
<path d="M834.9 711.9C838.3 714.6 837.8 714.9 845.2 720C852.6 725.2 849.1 722 857 727.4C864.9 732.8 861 730.4 868.8 736.3C876.7 742.2 876.7 742.2 880.7 745.1" fill="none" stroke="#a52a04" stroke-width="2.4" stroke-opacity="0.34" stroke-linecap="round"/>
<path d="M821.6 683.1C824 686.1 823.6 685.6 829 692C834.4 698.4 831.9 697.4 837.8 702.3C843.7 707.2 843.7 705.3 846.7 706.7" fill="none" stroke="#9a1003" stroke-width="2" stroke-opacity="0.2975" stroke-linecap="round"/>
</g>
<rect x="801.1" y="660.9" width="126.1" height="93.3" fill="url(#bshade)"/>
</g>
<path d="M803.1 717.1C803.4 713.1 802.4 714.1 804.6 709.7C806.8 705.3 807.1 708.2 809.8 703.8C812.5 699.4 811.2 701.3 812.7 696.4C814.2 691.5 811.2 693.4 814.2 689C817.2 684.6 817.6 687.5 821.6 683.1C825.5 678.7 821.6 679.7 826 675.7C830.4 671.8 830 674.5 834.9 671.3C839.8 668.1 836.4 668.9 840.8 666.1C845.2 663.3 843.2 663.5 848.2 662.9C853.1 662.3 851.1 663.5 855.5 664.4C860 665.2 856.5 664.3 861.5 665.4C866.4 666.5 864.4 666.4 870.3 667.6C876.2 668.8 872.8 667.4 879.2 669.1C885.6 670.8 883.1 669.8 889.5 672.8C895.9 675.7 892.5 674 898.4 677.9C904.3 681.9 901.7 679.7 907.2 684.6C912.7 689.5 910.4 686.8 914.9 692.7C919.4 698.6 917.6 696.2 920.8 702.3C924 708.5 923 705.3 924.5 711.2C926 717.1 926 714.5 925.3 720C924.5 725.5 924.3 723.7 922.3 727.7C920.3 731.7 923.4 729.7 919.3 732.1C915.3 734.6 916.2 733.6 910.2 735.1C904.2 736.6 907.2 736.3 901.3 736.6C895.4 736.8 895.8 734.4 892.5 735.8C889.1 737.3 892.7 738 891.3 741C889.9 743.9 891.4 742.7 888.3 744.7C885.3 746.7 885.7 744.9 882.1 746.9C878.6 748.9 881.1 748.8 877.7 750.6C874.3 752.4 876.2 753 871.8 752.2C867.4 751.5 869.3 751.1 864.4 748.4C859.5 745.6 861.9 746.9 857 743.9C852.1 741 855.1 742.5 849.6 739.5C844.2 736.6 846.2 737.5 840.8 735.1C835.4 732.6 838.3 733.6 833.4 732.1C828.5 730.7 831.4 731.9 826 730.7C820.6 729.4 823.1 729.9 817.2 728.4C811.2 727 812.7 728.5 808.3 726.2C803.9 723.9 805.6 724.6 803.9 721.5C802.1 718.5 802.9 721 803.1 717.1Z" fill="none" stroke="#7d8d9b" stroke-opacity="0.35" stroke-width="0.8"/>
</g>
<g filter="url(#soft)">
<path d="M664.6 817.1C664.8 812.6 663.9 814.6 666.1 809.7C668.3 804.8 668.5 807.7 671.2 802.3C674 796.9 671.2 798.9 674.2 793.4C677.2 788 675.7 791.5 680.1 786.1C684.5 780.6 682.1 782.1 687.5 777.2C692.9 772.3 690.4 775 696.4 771.3C702.3 767.6 699.3 768.6 705.2 766.1C711.1 763.7 708.2 764.5 714.1 763.9C720 763.3 717.5 763.2 722.9 764.4C728.3 765.5 724.4 765.9 730.3 767.5C736.2 769 733.3 767.5 740.7 768.9C748 770.4 744.6 768.9 752.5 771.9C760.3 774.8 757.3 773.6 764.3 777.8C771.3 782 767.9 779.4 773.4 784.6C779 789.8 776.9 787 780.8 793.4C784.8 799.8 783 796.9 785.3 803.8C787.5 810.7 787.1 807.7 787.6 814.1C788.2 820.5 788.2 817.5 786.9 823C785.6 828.5 786.3 826.1 783.8 830.7C781.3 835.2 783.9 833.6 779.3 836.6C774.8 839.6 776.2 838.9 770.2 839.7C764.2 840.5 766.7 839.5 761.3 838.9C755.9 838.4 756.6 836.4 753.9 838C751.3 839.7 754.8 840.2 753.4 843.9C751.9 847.7 753.3 846.8 749.5 849.3C745.8 851.8 747.1 850.7 742.1 851.5C737.2 852.2 739.2 852.8 734.7 851.5C730.3 850.2 733.8 850.4 728.8 847.6C723.9 844.9 725.4 845.7 720 843.2C714.6 840.7 717.5 842 712.6 840.3C707.7 838.5 710.6 839.8 705.2 838C699.8 836.3 702.3 837.1 696.4 835.1C690.4 833.1 693.4 833.6 687.5 832.1C681.6 830.7 684.5 832.1 678.6 830.7C672.7 829.2 674.2 830.3 669.8 827.7C665.3 825.1 667.1 826.5 665.3 823C663.6 819.4 664.4 821.5 664.6 817.1Z" fill="#c9d5de"/>
<g clip-path="url(#bc10)">
<path d="M685.7 780.2C687.9 776.6 687.9 777.1 691.9 773.9C696 770.8 693.4 773.6 697.8 770.7C702.3 767.8 699.8 767.9 705.2 765.4C710.6 762.9 708.2 763.8 714.1 763.2C720 762.6 717.8 762.5 722.9 763.6C728.1 764.7 727.7 763 729.4 766.6C731.2 770.1 728.4 769.2 728.2 774.2C728.1 779.3 728.8 777.2 728.8 781.6C728.8 786.1 731.2 785.6 728.2 787.5C725.3 789.5 725 787.3 720 787.5C715 787.8 716.3 786.3 713.3 788.3C710.4 790.2 713.8 790.7 711.1 793.4C708.4 796.2 708.7 793.4 705.2 796.4C701.8 799.4 702.7 797.9 700.8 802.3C698.8 806.7 700.8 805.7 699.3 809.7C697.8 813.7 698.8 814.4 696.4 814.4C693.9 814.4 694.6 813.7 691.9 809.7C689.2 805.7 690.7 806.7 688.2 802.3C685.8 797.9 686 800.3 684.5 796.4C683.1 792.5 683.6 794.4 683.8 790.5C684 786.6 684.6 788 685.3 784.6C685.9 781.1 683.5 783.7 685.7 780.2Z" fill="#d91b06"/>
<path d="M687.2 776.9C688.3 774.1 689.2 774.5 693.1 772.2C697 769.8 695.5 771.9 699 769.8C702.6 767.7 701.1 766.8 703.7 766C706.4 765.2 708.5 764.7 707 767.5C705.5 770.2 703.8 770.5 699.3 774.2C694.8 778 696.6 776.6 693.4 778.7C690.2 780.7 691.8 781 689.7 780.4C687.6 779.9 686.1 779.7 687.2 776.9Z" fill="#f6960c"/>
<path d="M673.3 794.9C675.8 789.2 675.2 790.4 678.9 786.9C682.7 783.5 681.9 783.4 684.5 784.6C687.1 785.8 687 787 686.8 790.5C686.5 793.9 686.5 793 683.8 794.9C681.1 796.9 681.3 793.9 678.6 796.4C675.9 798.9 678 799.7 675.7 802.3C673.3 804.9 672.3 806.5 671.5 804.1C670.8 801.6 670.9 800.6 673.3 794.9Z" fill="#f6960c"/>
<path d="M668.3 812.1C668.3 808.5 669.8 808.8 672.7 803.8C675.7 798.8 673.5 799.8 677.2 797.1C680.8 794.4 680.1 793.9 683.8 795.7C687.5 797.4 685.5 797.6 688.2 802.3C690.9 807 691.7 806.1 691.9 809.7C692.2 813.2 691.9 811.7 689 812.9C686 814.2 687 813.5 683.1 813.5C679.1 813.5 680.6 812.6 677.2 812.9C673.7 813.2 675.7 814.7 672.7 814.4C669.8 814.1 668.3 815.6 668.3 812.1Z" fill="#e9480c"/>
<path d="M670.9 823C671.4 820.2 671.6 821.3 675.7 818.5C679.7 815.8 677.6 816.3 683.1 814.9C688.5 813.4 686.5 813.4 691.9 814.1C697.3 814.9 694.9 814.6 699.3 817.1C703.7 819.5 702 818.5 705.2 821.5C708.5 824.6 709.5 824.4 709.1 826.2C708.6 828 708 827 703.7 827C699.5 827 701.3 826 696.4 826.2C691.4 826.5 693.9 827 689 827.7C684 828.4 686.5 828.7 681.6 828.4C676.7 828.2 677.7 828.8 674.2 827C670.7 825.1 670.5 825.8 670.9 823Z" fill="#d91b06"/>
<path d="M711.6 789.8C713.8 787.2 714.2 787.9 720 787.4C725.7 786.8 722.9 787.4 728.8 788.1C734.7 788.9 732.9 787.8 737.7 789.6C742.5 791.4 741.6 790.9 743.2 793.4C744.7 796 745.2 796 742.4 797.3C739.6 798.6 740.3 797 734.7 797.3C729.2 797.5 731.8 797.5 725.9 798C720 798.5 721.2 799.8 717 798.8C712.8 797.7 715.2 797.9 713.3 794.9C711.5 791.9 709.3 792.3 711.6 789.8Z" fill="#ee500c"/>
<path d="M700.5 802.3C702.5 797.9 701.4 799.4 705.2 796.4C709 793.4 708.3 793.2 711.9 793.4C715.4 793.7 716.6 794.9 715.8 797.1C715.1 799.4 712.9 797.5 709.6 800.2C706.3 802.9 707.2 801.1 705.9 805.3C704.7 809.4 705 807.7 705.9 812.6C706.9 817.6 707.6 816.5 708.9 820C710.2 823.6 711.2 822.7 709.9 823.3C708.7 823.9 708 823.9 705.2 821.8C702.4 819.7 703.5 821.1 701.5 817.1C699.5 813 699.6 814.6 699.3 809.7C699 804.8 698.5 806.7 700.5 802.3Z" fill="#f6960c"/>
<path d="M704.9 821.5C705.2 819.9 706.6 821 709.6 823C712.7 824.9 710.6 824.5 714.1 827.4C717.5 830.4 715.9 828.9 720 831.8C724 834.8 724.1 832.5 726.2 836.3C728.2 840.1 728.2 841.6 726.2 843.2C724.1 844.8 724 843.7 720 841C715.9 838.3 717.8 839.5 714.1 835.1C710.4 830.7 712 832.2 708.9 827.7C705.9 823.2 704.7 823.1 704.9 821.5Z" fill="#e9480c"/>
<path d="M703.4 836.6C705.4 836.2 706.1 836.4 711.1 837.7C716.1 839.1 713.6 838.7 718.5 840.7C723.4 842.7 721.9 841.7 725.9 843.7C729.8 845.6 727.8 844.2 730.3 846.6C732.9 849 734.1 850.2 733.6 850.7C733.1 851.3 733.4 850.5 728.8 848.2C724.3 845.9 725.4 846.3 720 843.8C714.6 841.3 717.5 842.5 712.6 840.8C707.7 839.2 708.3 840.4 705.2 838.9C702.2 837.5 701.5 837 703.4 836.6Z" fill="#ffd800"/>
<path d="M743.3 827.4C744.3 824.4 744.5 826.4 749.5 824.5C754.5 822.5 753.8 824 758.4 821.5C762.9 819 762.1 821 763.1 817.1C764.1 813.1 760.9 813.4 761.3 809.7C761.7 805.9 761.7 805.8 764.3 805.8C766.8 805.8 766.4 805.9 769 809.7C771.6 813.4 769.1 813.9 772 817.1C774.8 820.3 774.1 817.8 777.6 819.3C781 820.8 780 817.7 782.3 821.5C784.6 825.3 785.2 825.5 784.4 830.7C783.6 835.8 784.7 833.9 779.9 837C775.2 840.2 776.4 839.4 770.2 840.1C764 840.8 766.7 840.1 761.3 839.2C755.9 838.3 758.9 839.3 753.9 837.5C749 835.6 750.1 837 746.6 833.6C743 830.3 742.3 830.5 743.3 827.4Z" fill="#d91b06"/>
<path d="M741.1 834.8C741.6 831.6 740.8 830.6 743.6 831.1C746.4 831.6 746.2 833.1 749.5 836.3C752.8 839.5 752.4 837.2 753.5 840.7C754.6 844.2 754.5 843.9 752.8 846.9C751 849.9 751.6 849.5 748.3 849.6C745 849.7 744.9 850.2 742.9 847.2C740.8 844.2 742.7 844.8 742.1 840.7C741.5 836.6 740.6 838 741.1 834.8Z" fill="#e9480c"/>
<path d="M743.3 831.8C743.3 830.8 745.4 831.5 748 833.3C750.7 835.1 751.3 836.2 751.3 837.3C751.3 838.4 750.7 838.4 748 836.6C745.4 834.7 743.3 832.9 743.3 831.8Z" fill="#ffd800"/>
<path d="M708.2 809.7C710.1 804.8 708.7 805.7 715.5 802.3C722.4 798.9 719.5 800.1 728.8 799.4C738.2 798.6 734.7 798.1 743.6 800.1C752.5 802.1 749.5 800.6 755.4 805.3C761.3 809.9 760.3 808.7 761.3 814.1C762.3 819.5 762.3 818.5 758.4 821.5C754.4 824.5 755.4 823.5 749.5 823C743.6 822.5 746.6 822 740.7 820C734.7 818.1 737.7 818.1 731.8 817.1C725.9 816.1 728.3 816.1 722.9 817.1C717.5 818.1 720 820 715.5 820C711.1 820 712.1 820.5 709.6 817.1C707.2 813.6 706.2 814.6 708.2 809.7Z" fill="#dbe4eb"/>
<g filter="url(#soft2)">
<path d="M707 811.2C709.3 808 706.8 805.9 714.1 801.7C721.4 797.5 718.5 799.4 728.8 798.5C739.2 797.6 735.7 796.9 745.1 799.1C754.4 801.2 751 799.9 756.9 805C762.8 810 760.8 811.1 762.8 814.1" fill="none" stroke="#8b9caa" stroke-width="2.8" stroke-opacity="0.4675" stroke-linecap="round"/>
<path d="M729.4 766.6C731.2 770.6 730 771.7 734.7 778.7C739.5 785.7 740.8 782.6 743.6 787.5C746.4 792.5 743.3 791.5 743.2 793.4" fill="none" stroke="#8b9caa" stroke-width="2.2" stroke-opacity="0.4675" stroke-linecap="round"/>
<path d="M740.7 768.9C744.6 772.2 744.6 771.5 752.5 778.7C760.3 785.9 757.4 781.6 764.3 790.5C771.2 799.4 768.7 795.7 773.1 805.3C777.6 814.9 776.1 814.6 777.6 819.3" fill="none" stroke="#8b9caa" stroke-width="2.4" stroke-opacity="0.4675" stroke-linecap="round"/>
<path d="M752.5 771.9C757.4 776.6 758.4 775.9 767.2 786.1C776.1 796.2 773.6 792 779.1 802.3C784.5 812.6 782 812.1 783.5 817.1" fill="none" stroke="#8b9caa" stroke-width="2" stroke-opacity="0.4675" stroke-linecap="round"/>
<path d="M715.5 820C717.5 822.5 716 823.5 721.5 827.4C726.9 831.3 724.4 831.8 731.8 831.8C739.2 831.8 739.7 828.9 743.6 827.4" fill="none" stroke="#8b9caa" stroke-width="2.2" stroke-opacity="0.4675" stroke-linecap="round"/>
<path d="M669.8 827.7C673.7 828 672.7 828.9 681.6 828.4C690.4 828 687.2 827 696.4 826.2C705.5 825.5 704.8 826.2 709.1 826.2" fill="none" stroke="#8b9caa" stroke-width="2" stroke-opacity="0.4675" stroke-linecap="round"/>
<path d="M665.3 823L670.9 823" fill="none" stroke="#8b9caa" stroke-width="2" stroke-opacity="0.4675" stroke-linecap="round"/>
<path d="M726.2 843.2C729 842.4 729.4 841.5 734.7 840.7C740.1 839.9 739.7 840.7 742.1 840.7" fill="none" stroke="#8b9caa" stroke-width="2" stroke-opacity="0.4675" stroke-linecap="round"/>
<path d="M697.8 770.7C698.3 774.8 696.8 774.5 699.3 783.1C701.8 791.7 703.2 792 705.2 796.4" fill="none" stroke="#9a1003" stroke-width="2.2" stroke-opacity="0.34" stroke-linecap="round"/>
<path d="M714.1 763.2C714.1 767.4 712.1 767.6 714.1 775.7C716 783.8 718 783.6 720 787.5" fill="none" stroke="#9a1003" stroke-width="2.2" stroke-opacity="0.34" stroke-linecap="round"/>
</g>
<rect x="662.6" y="761.9" width="127" height="91.6" fill="url(#bshade)"/>
</g>
<path d="M664.6 817.1C664.8 812.6 663.9 814.6 666.1 809.7C668.3 804.8 668.5 807.7 671.2 802.3C674 796.9 671.2 798.9 674.2 793.4C677.2 788 675.7 791.5 680.1 786.1C684.5 780.6 682.1 782.1 687.5 777.2C692.9 772.3 690.4 775 696.4 771.3C702.3 767.6 699.3 768.6 705.2 766.1C711.1 763.7 708.2 764.5 714.1 763.9C720 763.3 717.5 763.2 722.9 764.4C728.3 765.5 724.4 765.9 730.3 767.5C736.2 769 733.3 767.5 740.7 768.9C748 770.4 744.6 768.9 752.5 771.9C760.3 774.8 757.3 773.6 764.3 777.8C771.3 782 767.9 779.4 773.4 784.6C779 789.8 776.9 787 780.8 793.4C784.8 799.8 783 796.9 785.3 803.8C787.5 810.7 787.1 807.7 787.6 814.1C788.2 820.5 788.2 817.5 786.9 823C785.6 828.5 786.3 826.1 783.8 830.7C781.3 835.2 783.9 833.6 779.3 836.6C774.8 839.6 776.2 838.9 770.2 839.7C764.2 840.5 766.7 839.5 761.3 838.9C755.9 838.4 756.6 836.4 753.9 838C751.3 839.7 754.8 840.2 753.4 843.9C751.9 847.7 753.3 846.8 749.5 849.3C745.8 851.8 747.1 850.7 742.1 851.5C737.2 852.2 739.2 852.8 734.7 851.5C730.3 850.2 733.8 850.4 728.8 847.6C723.9 844.9 725.4 845.7 720 843.2C714.6 840.7 717.5 842 712.6 840.3C707.7 838.5 710.6 839.8 705.2 838C699.8 836.3 702.3 837.1 696.4 835.1C690.4 833.1 693.4 833.6 687.5 832.1C681.6 830.7 684.5 832.1 678.6 830.7C672.7 829.2 674.2 830.3 669.8 827.7C665.3 825.1 667.1 826.5 665.3 823C663.6 819.4 664.4 821.5 664.6 817.1Z" fill="none" stroke="#7d8d9b" stroke-opacity="0.35" stroke-width="0.8"/>
</g>
<g filter="url(#soft)">
<path d="M802.4 817.1C802.4 811.2 801.9 813.6 803.9 806.7C805.8 799.8 804.4 803 808.3 796.4C812.2 789.8 809.8 792.7 815.7 786.8C821.6 780.9 818.6 783.4 826 778.7C833.4 774 830 776 837.8 772.8C845.7 769.6 842.3 771 849.6 769.1C857 767.1 853.6 768.4 860 766.9C866.4 765.3 863.4 765.8 868.8 764.5C874.3 763.2 871.2 762.9 876.2 762.9C881.2 762.8 879 762.3 883.9 764.4C888.8 766.4 886.2 766.1 891 768.9C895.8 771.7 893.8 769.5 898.4 772.8C902.9 776 901.5 774.7 904.6 778.7C907.6 782.6 904.6 781.1 907.5 784.6C910.5 788 910 784.6 913.4 789C916.9 793.4 914.9 792.5 917.9 797.9C920.8 803.3 919.5 799.8 922.3 805.3C925.1 810.7 925.1 808.6 926.1 814.1C927.2 819.6 927.3 817.8 925.5 821.8C923.8 825.8 925 823.8 920.8 826.2C916.7 828.7 918.7 827.7 913.1 829.2C907.6 830.7 910.2 829.7 904.3 830.7C898.4 831.6 901.3 830.7 895.4 832.1C889.5 833.6 892.5 832.9 886.6 835.1C880.7 837.3 883.6 836.3 877.7 838.8C871.8 841.2 874.3 839.8 868.8 842.5C863.4 845.2 865.9 844.1 861.5 846.9C857 849.7 859.5 849.7 855.5 850.7C851.6 851.8 853.1 851.3 849.6 850C846.2 848.7 847.7 849.4 845.2 846.9C842.7 844.4 845.2 843.9 842.3 842.5C839.3 841 839.3 843.9 836.4 842.5C833.4 841 837.3 839.3 833.4 838C829.5 836.8 830.4 839.3 824.5 838.8C818.6 838.3 821.1 839.3 815.7 836.6C810.3 833.9 812.2 834.7 808.3 830.7C804.4 826.6 805.8 829 803.9 824.5C801.9 819.9 802.4 823 802.4 817.1Z" fill="#c9d5de"/>
<g clip-path="url(#bc11)">
<path d="M856.7 767.7C858.7 764.8 859.4 766.8 864.4 765.4C869.4 764 867.3 763.9 871.8 763.6C876.3 763.3 875 761.4 878 764.5C880.9 767.5 879.3 767.5 880.7 772.8C882 778 882.1 775.4 882.1 780.2C882.1 784.9 883.1 784.5 880.7 786.9C878.2 789.4 879.7 787.1 874.7 787.5C869.8 788 871.3 788.5 865.9 788.3C860.5 788 861.2 789.5 858.5 786.8C855.8 784.1 857.8 784.3 857.8 780.2C857.8 776 858.8 778.4 858.5 774.2C858.2 770.1 854.8 770.7 856.7 767.7Z" fill="#e6400a"/>
<path d="M874.5 763.6C876.5 762.9 878.2 761.8 883.9 763.3C889.6 764.8 886.5 765.2 891.6 768C896.7 770.9 894.6 768.5 899.3 771.9C903.9 775.2 902.4 774 905.5 778.1C908.5 782.1 905.5 780.4 908.4 784C911.4 787.5 911 784.2 914.3 788.7C917.7 793.2 917.9 793.5 918.5 797.6C919.1 801.6 918.4 802.2 916.1 800.8C913.8 799.4 914.6 794.9 911.7 793.4C908.7 792 910.2 793.4 907.2 796.4C904.3 799.4 905.8 798.9 902.8 802.3C899.9 805.7 900.3 803.3 898.4 806.7C896.4 810.2 899.9 809.2 896.9 812.6C893.9 816.1 893.9 814 889.5 817.1C885.1 820.1 886.6 821.3 883.6 821.8C880.7 822.3 880.7 822.1 880.7 818.5C880.7 815 882.6 816.6 883.6 811.2C884.6 805.7 885.1 807.2 883.6 802.3C882.1 797.4 882.1 798.9 879.2 796.4C876.2 793.9 875.2 797.4 874.7 794.9C874.3 792.5 875.7 791.7 877.7 789C879.7 786.3 879.2 789.8 880.7 786.8C882.1 783.8 882.1 784.8 882.1 780.2C882.1 775.5 882.1 777.7 880.7 772.8C879.2 767.8 879.8 768.4 877.7 765.4C875.6 762.3 872.4 764.3 874.5 763.6Z" fill="#d91b06"/>
<path d="M898.1 807C899.6 804 899.8 805.8 902.8 802.3C905.9 798.8 904.3 799.5 907.2 796.4C910.2 793.2 909.2 792.4 911.7 792.9C914.1 793.3 913 793.7 914.6 797.9C916.2 802 914.1 801.3 916.4 805.3C918.7 809.2 920.6 806.9 921.6 809.7C922.5 812.5 922.6 812.6 919.3 813.7C916 814.8 916.7 813.5 911.7 812.9C906.6 812.4 908.7 812.5 904.3 812.1C899.9 811.6 900.4 813.1 898.4 811.5C896.3 809.8 896.6 810.1 898.1 807Z" fill="#ffd800"/>
<path d="M881.8 824.8C882.8 822.2 883 823.1 886.6 820C890.1 817 888.5 818.3 892.5 815.6C896.4 812.9 893.9 812.9 898.4 811.9C902.8 810.9 900.8 810.9 905.8 812.6C910.7 814.4 908.6 814 913.1 817.1C917.7 820.1 917.7 818.7 919.3 821.8C921 824.8 920.7 823.8 918.2 826.2C915.6 828.7 915.8 829.7 911.7 829.2C907.5 828.7 910.2 826 905.8 824.8C901.3 823.5 903.3 824.8 898.4 825.5C893.5 826.2 895.9 826.2 891 827C886.1 827.7 886.7 828.4 883.6 827.7C880.6 827 880.9 827.3 881.8 824.8Z" fill="#e9480c"/>
<path d="M845.7 792C847.6 789.1 847.8 789.4 854.1 788.1C860.3 786.8 857.5 788.4 864.4 788.1C871.3 787.9 869.7 786.8 874.7 787.4C879.8 787.9 878.4 787.2 879.5 789.8C880.6 792.3 880.6 792.4 878 794.9C875.4 797.4 876.8 796.7 871.8 797.3C866.8 797.8 868.8 797 862.9 796.5C857 796.1 859 795.8 854.1 795.8C849.1 795.9 851 798 848.2 796.7C845.4 795.4 843.7 794.8 845.7 792Z" fill="#ffd800"/>
<path d="M825 806C825.7 802.7 827.1 803.8 831.9 800.1C836.7 796.4 834.6 797.7 839.3 794.9C844 792.2 842.9 791.3 845.9 791.8C849 792.3 849.7 793.6 848.5 796.4C847.2 799.2 846.3 797.5 842.3 800.2C838.2 803 840.5 801.4 836.4 804.7C832.2 807.9 833.5 809.5 829.7 810C825.9 810.4 824.2 809.3 825 806Z" fill="#d91b06"/>
<path d="M820.5 812.6C822 808.5 822.2 807 825.3 806C828.4 805 828.8 806.5 829.9 809.7C830.9 812.9 828.4 811.9 828.4 815.6C828.4 819.3 827.7 818.1 829.9 820.8C832 823.5 830.6 822 834.9 823.7C839.1 825.4 841.6 824.6 842.6 825.9C843.5 827.3 841.9 827.4 837.8 827.7C833.8 828 834.9 828.2 830.4 827C826 825.7 827.7 826.8 824.5 824C821.4 821.2 822.3 822.3 821 818.5C819.7 814.8 819.1 816.8 820.5 812.6Z" fill="#fdc40a"/>
<path d="M846.4 842.5C847.4 838.9 847.1 839.3 849.6 836.3C852.2 833.2 850.6 833.3 854.1 833.3C857.5 833.3 856.4 833.8 860 836.3C863.5 838.7 864.7 838.1 864.7 840.7C864.7 843.3 863.5 842.4 860 843.9C856.4 845.5 857.5 843.9 854.1 845.4C850.6 846.9 852.1 847.9 849.6 848.4C847.2 848.9 847.8 848.9 846.7 846.9C845.6 844.9 845.4 846 846.4 842.5Z" fill="#d91b06"/>
<path d="M842 834.8C842.9 833.2 844.5 832.4 846.7 832.4C848.9 832.4 849.4 833.2 848.5 834.8C847.5 836.4 845.9 837.3 843.7 837.3C841.6 837.3 841 836.4 842 834.8Z" fill="#f3790f"/>
<path d="M858.2 846.9C860.2 845.1 859.9 846 864.4 843.7C868.9 841.3 867.3 841.7 871.8 840C876.3 838.2 879 837.5 878 838.5C877 839.4 874.4 839.9 868.8 842.8C863.3 845.7 864.9 845.1 861.5 847.2C858 849.3 859.6 849.1 858.5 849C857.4 848.9 856.2 848.7 858.2 846.9Z" fill="#f3790f"/>
<path d="M813.9 837C814.9 836.5 820 837 821.6 837.7C823.2 838.5 821.2 839.6 818.6 839.4C816.1 839.1 812.9 837.5 813.9 837Z" fill="#f3790f"/>
<path d="M831.9 817.1C833.2 812.6 831.9 813.6 837.8 808.2C843.7 802.8 840.8 804 849.6 800.8C858.5 797.6 855.5 798.6 864.4 798.6C873.3 798.6 869.8 797.6 876.2 800.8C882.6 804 881.6 802.8 883.6 808.2C885.6 813.6 885.1 812.1 882.1 817.1C879.2 822 880.2 821 874.7 823C869.3 824.9 871.8 824 865.9 823C860 822 862.9 821 857 820C851.1 819 854.1 819 848.2 820C842.3 821 844 822.5 839.3 823C834.6 823.5 836.6 823.5 834.1 821.5C831.7 819.5 830.7 821.5 831.9 817.1Z" fill="#dbe4eb"/>
<g filter="url(#soft2)">
<path d="M828.4 823C828.7 819.5 826.1 819.5 829.3 812.6C832.4 805.7 830.5 807.6 837.8 802.3C845.1 797 841.8 798.6 851.1 796.7C860.5 794.8 857 796.2 865.9 796.7C874.7 797.2 871.3 794.8 877.7 798.2C884.1 801.5 882.6 803.9 885.1 806.7" fill="none" stroke="#8b9caa" stroke-width="2.6" stroke-opacity="0.4675" stroke-linecap="round"/>
<path d="M815.7 786.8C819.1 788 818.1 791.2 826 790.5C833.9 789.8 830 788 839.3 784.6C848.7 781.1 847.9 781.6 854.1 780.2C860.2 778.7 856.5 780.2 857.8 780.2" fill="none" stroke="#8b9caa" stroke-width="2.2" stroke-opacity="0.4675" stroke-linecap="round"/>
<path d="M808.3 796.4C811.2 798.4 813.1 796.9 817.2 802.3C821.2 807.7 819.4 809.2 820.5 812.6" fill="none" stroke="#8b9caa" stroke-width="2" stroke-opacity="0.4675" stroke-linecap="round"/>
<path d="M834.1 821.5C836.8 823.5 836.6 823.5 842.3 827.4C847.9 831.3 847.2 831.3 851.1 833.3C855.1 835.3 853.1 833.3 854.1 833.3" fill="none" stroke="#8b9caa" stroke-width="2" stroke-opacity="0.4675" stroke-linecap="round"/>
<path d="M848.2 820C852.1 821.5 852.1 823.5 860 824.5C867.9 825.4 864.5 822.9 871.8 823C879.1 823.1 878.5 824.2 881.8 824.8" fill="none" stroke="#8b9caa" stroke-width="2" stroke-opacity="0.4675" stroke-linecap="round"/>
<path d="M864.7 840.7C867.1 838.7 866.1 839.1 871.8 834.8C877.5 830.5 878.5 830.1 881.8 827.7" fill="none" stroke="#8b9caa" stroke-width="2.2" stroke-opacity="0.4675" stroke-linecap="round"/>
<path d="M919.3 813.7C920.2 815.8 922.4 815.8 922 820C921.6 824.2 919.4 824.2 918.2 826.2" fill="none" stroke="#8b9caa" stroke-width="2" stroke-opacity="0.4675" stroke-linecap="round"/>
<path d="M891 768.9C891.5 773.2 890 773 892.5 781.6C894.9 790.3 894.9 788 898.4 794.9C901.8 801.8 901.3 799.8 902.8 802.3" fill="none" stroke="#9a1003" stroke-width="2.2" stroke-opacity="0.34" stroke-linecap="round"/>
<path d="M898.4 772.8C899.4 777.2 898.4 778.2 901.3 786.1C904.3 793.9 905.3 793 907.2 796.4" fill="none" stroke="#9a1003" stroke-width="2" stroke-opacity="0.2975" stroke-linecap="round"/>
</g>
<rect x="800.4" y="760.9" width="127.8" height="91.9" fill="url(#bshade)"/>
</g>
<path d="M802.4 817.1C802.4 811.2 801.9 813.6 803.9 806.7C805.8 799.8 804.4 803 808.3 796.4C812.2 789.8 809.8 792.7 815.7 786.8C821.6 780.9 818.6 783.4 826 778.7C833.4 774 830 776 837.8 772.8C845.7 769.6 842.3 771 849.6 769.1C857 767.1 853.6 768.4 860 766.9C866.4 765.3 863.4 765.8 868.8 764.5C874.3 763.2 871.2 762.9 876.2 762.9C881.2 762.8 879 762.3 883.9 764.4C888.8 766.4 886.2 766.1 891 768.9C895.8 771.7 893.8 769.5 898.4 772.8C902.9 776 901.5 774.7 904.6 778.7C907.6 782.6 904.6 781.1 907.5 784.6C910.5 788 910 784.6 913.4 789C916.9 793.4 914.9 792.5 917.9 797.9C920.8 803.3 919.5 799.8 922.3 805.3C925.1 810.7 925.1 808.6 926.1 814.1C927.2 819.6 927.3 817.8 925.5 821.8C923.8 825.8 925 823.8 920.8 826.2C916.7 828.7 918.7 827.7 913.1 829.2C907.6 830.7 910.2 829.7 904.3 830.7C898.4 831.6 901.3 830.7 895.4 832.1C889.5 833.6 892.5 832.9 886.6 835.1C880.7 837.3 883.6 836.3 877.7 838.8C871.8 841.2 874.3 839.8 868.8 842.5C863.4 845.2 865.9 844.1 861.5 846.9C857 849.7 859.5 849.7 855.5 850.7C851.6 851.8 853.1 851.3 849.6 850C846.2 848.7 847.7 849.4 845.2 846.9C842.7 844.4 845.2 843.9 842.3 842.5C839.3 841 839.3 843.9 836.4 842.5C833.4 841 837.3 839.3 833.4 838C829.5 836.8 830.4 839.3 824.5 838.8C818.6 838.3 821.1 839.3 815.7 836.6C810.3 833.9 812.2 834.7 808.3 830.7C804.4 826.6 805.8 829 803.9 824.5C801.9 819.9 802.4 823 802.4 817.1Z" fill="none" stroke="#7d8d9b" stroke-opacity="0.35" stroke-width="0.8"/>
</g>
<rect x="332.5" y="886" width="321" height="10.6" fill="url(#cbar)"/>
<g font-size="6.8" fill="#444" text-anchor="middle">
<line x1="364.7" y1="894.6" x2="364.7" y2="896.8" stroke="#555" stroke-width="0.5"/>
<text x="364.7" y="905.4">0.3</text>
<line x1="461" y1="894.6" x2="461" y2="896.8" stroke="#555" stroke-width="0.5"/>
<text x="461" y="905.4">0.6</text>
<line x1="557.3" y1="894.6" x2="557.3" y2="896.8" stroke="#555" stroke-width="0.5"/>
<text x="557.3" y="905.4">0.9</text>
<line x1="653.6" y1="894.6" x2="653.6" y2="896.8" stroke="#555" stroke-width="0.5"/>
<text x="653.6" y="905.4">1.2</text>
</g>
</svg></body></html>
